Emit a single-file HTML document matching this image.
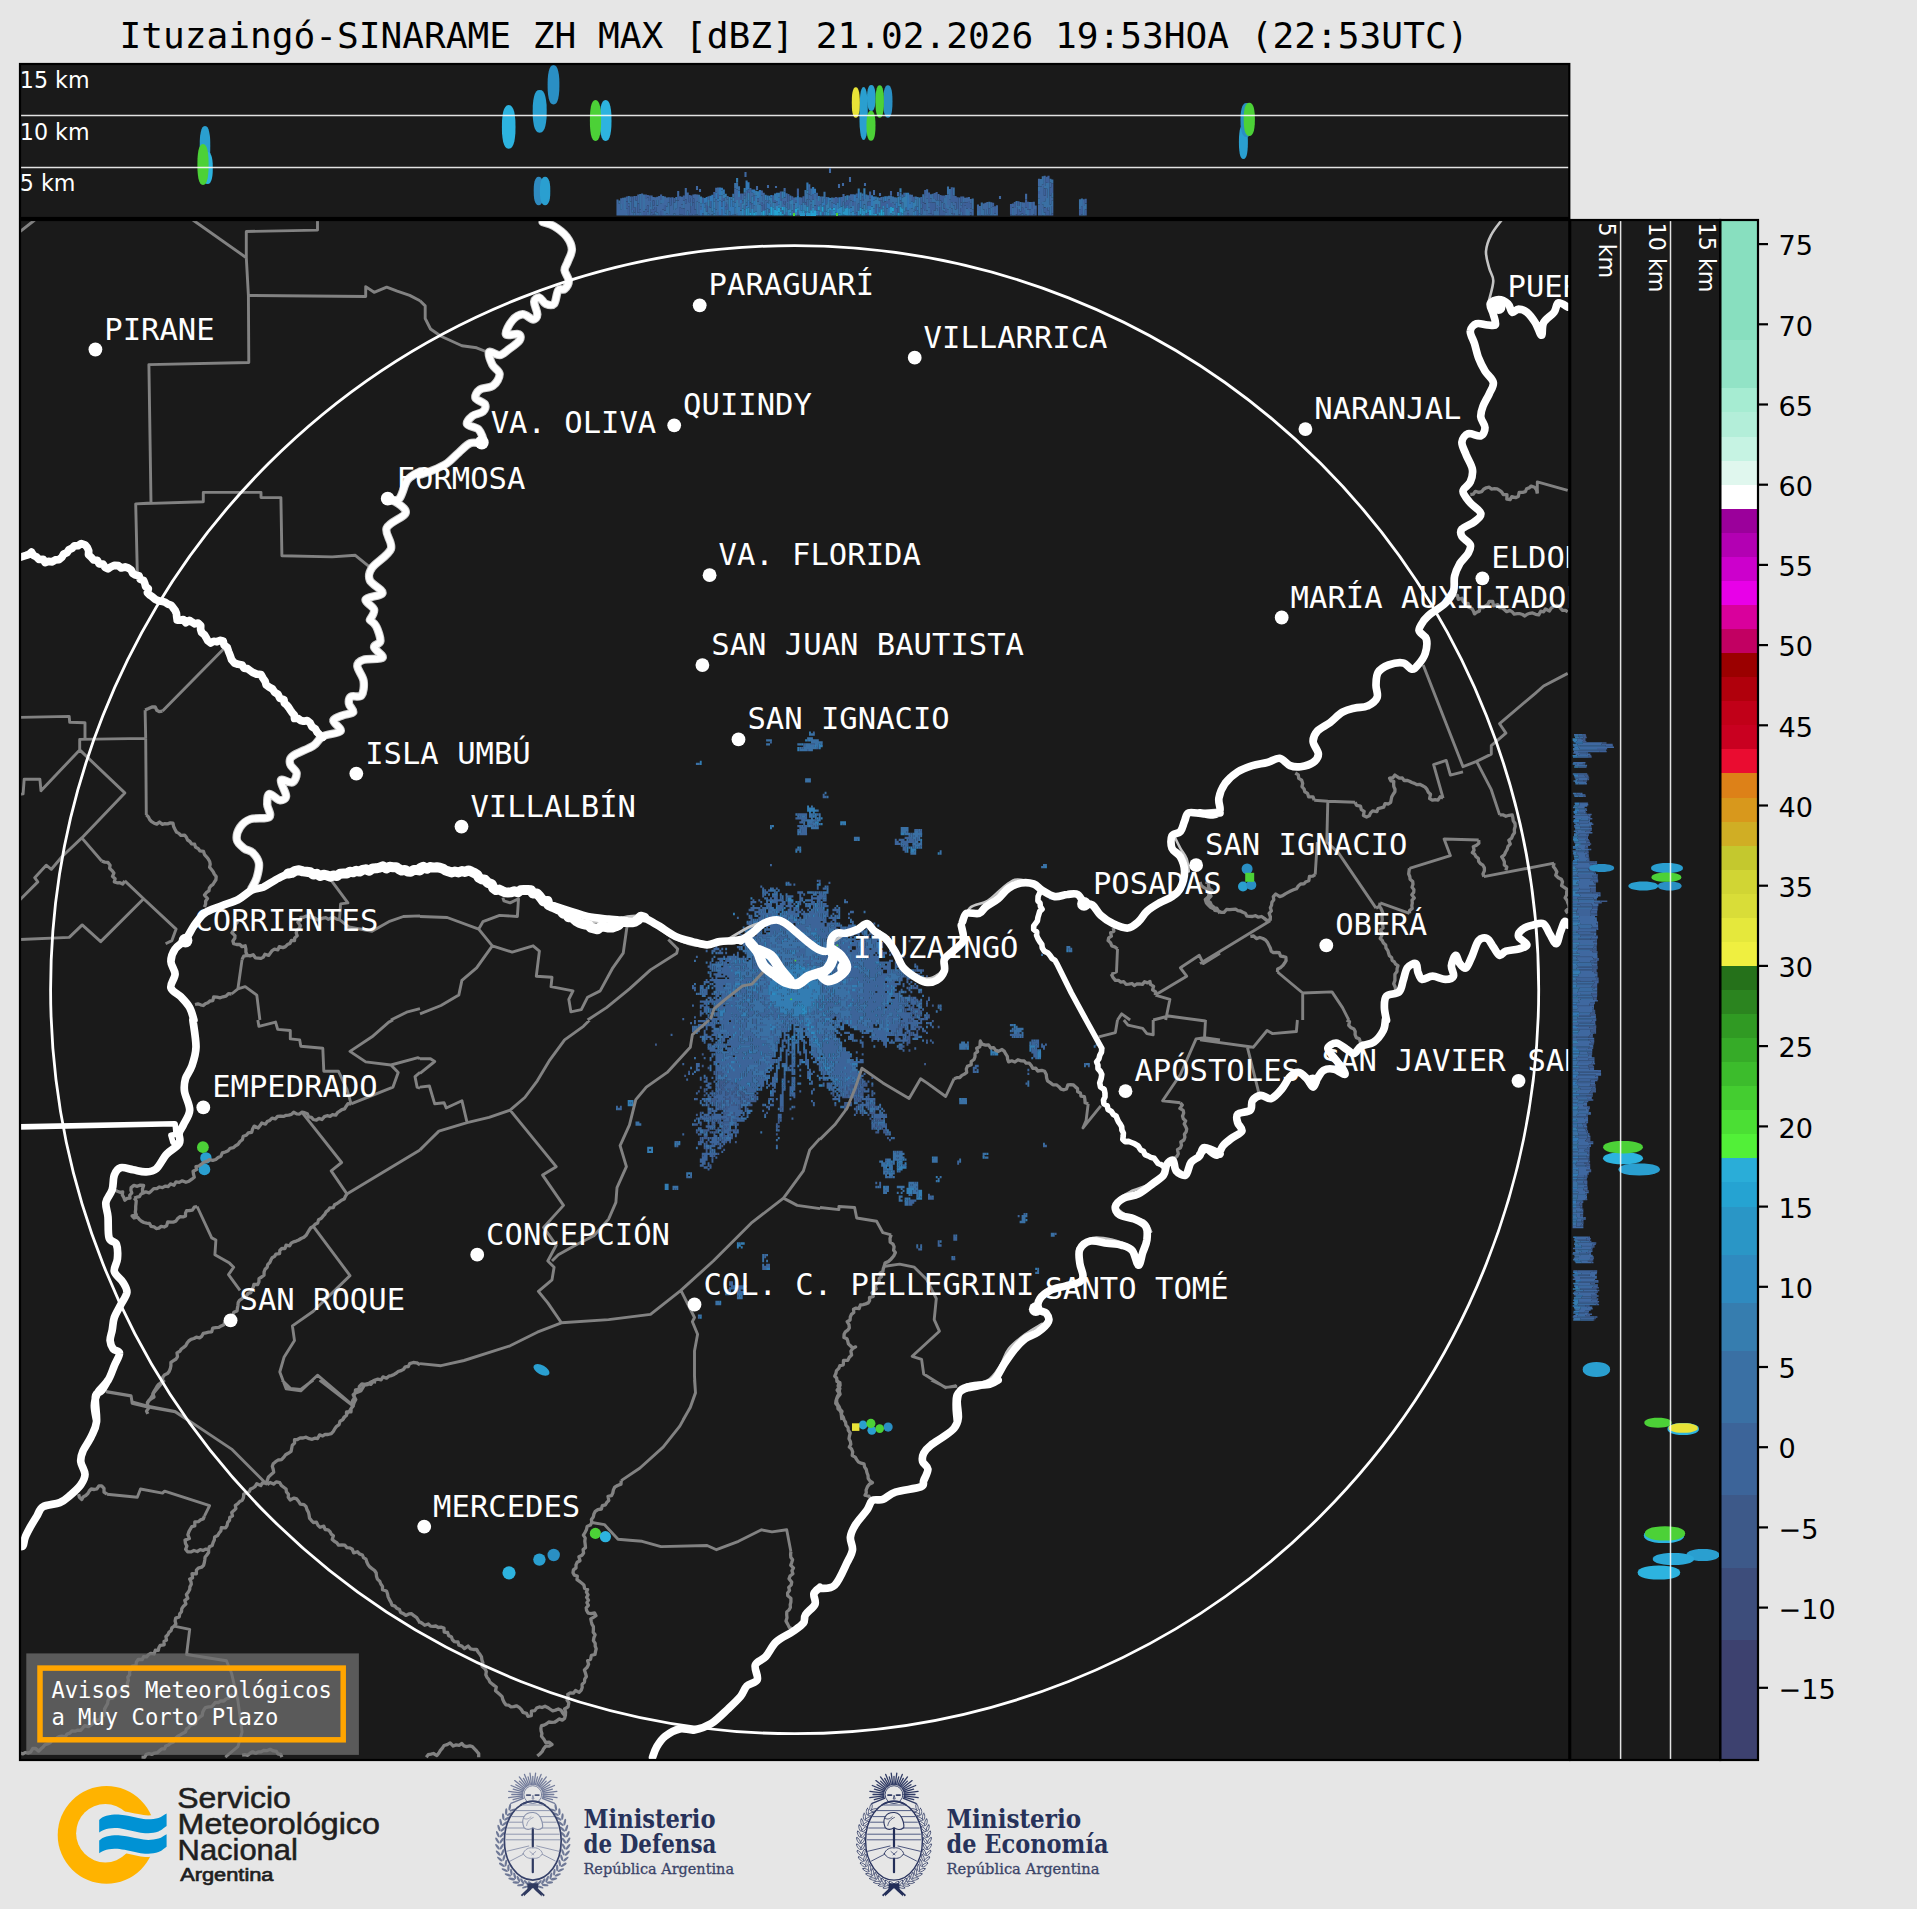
<!DOCTYPE html>
<html lang="es"><head><meta charset="utf-8"><title>Ituzaingó-SINARAME ZH MAX</title>
<style>html,body{margin:0;padding:0;background:#e6e6e6}svg{display:block}.mono{font-family:"DejaVu Sans Mono","Liberation Mono",monospace}.sans{font-family:"DejaVu Sans","Liberation Sans",sans-serif}.lsans{font-family:"Liberation Sans","DejaVu Sans",sans-serif}.serif{font-family:"DejaVu Serif","Liberation Serif",serif}</style></head><body>
<svg width="1917" height="1909" viewBox="0 0 1917 1909">
<rect width="1917" height="1909" fill="#e6e6e6"/>
<defs>
<clipPath id="cm"><rect x="20" y="220" width="1549.3" height="1540"/></clipPath>
<clipPath id="ct"><rect x="20" y="64" width="1549.3" height="154"/></clipPath>
<clipPath id="cr"><rect x="1570.2" y="220" width="150" height="1540"/></clipPath>
</defs>
<text class="mono" x="793.9" y="48" font-size="36.15" text-anchor="middle" fill="#000">Ituzaingó-SINARAME ZH MAX [dBZ] 21.02.2026 19:53HOA (22:53UTC)</text>
<rect x="20" y="64" width="1549.3" height="154" fill="#1a1a1a"/>
<rect x="20" y="220" width="1549.3" height="1540" fill="#1a1a1a"/>
<rect x="1570.2" y="220" width="150" height="1540" fill="#1a1a1a"/>
<g clip-path="url(#ct)">
<path d="M210.3,146L210.2,151.9L209.9,156.1L209.3,159.6L208.6,162.4L207.7,164.4L206.6,165.6L205,166L203.4,165.6L202.3,164.4L201.4,162.4L200.7,159.6L200.1,156.1L199.8,151.9L199.7,146L199.8,140.1L200.1,135.9L200.7,132.4L201.4,129.6L202.3,127.6L203.4,126.4L205,126L206.6,126.4L207.7,127.6L208.6,129.6L209.3,132.4L209.9,135.9L210.2,140.1Z" fill="#2a9fd0"/>
<path d="M212.8,168L212.7,172.7L212.4,176.1L211.8,178.9L211.1,181.1L210.2,182.7L209.1,183.7L207.5,184L205.9,183.7L204.8,182.7L203.9,181.1L203.2,178.9L202.6,176.1L202.3,172.7L202.2,168L202.3,163.3L202.6,159.9L203.2,157.1L203.9,154.9L204.8,153.3L205.9,152.3L207.5,152L209.1,152.3L210.2,153.3L211.1,154.9L211.8,157.1L212.4,159.9L212.7,163.3Z" fill="#2db3df"/>
<path d="M208.6,164.5L208.5,170.5L208.1,174.9L207.6,178.4L206.8,181.3L205.8,183.3L204.6,184.6L203,185L201.4,184.6L200.2,183.3L199.2,181.3L198.4,178.4L197.9,174.9L197.5,170.5L197.4,164.5L197.5,158.5L197.9,154.1L198.4,150.6L199.2,147.7L200.2,145.7L201.4,144.4L203,144L204.6,144.4L205.8,145.7L206.8,147.7L207.6,150.6L208.1,154.1L208.5,158.5Z" fill="#4cd137"/>
<path d="M515.5,126.9L515.4,133.3L514.9,137.9L514.3,141.7L513.3,144.7L512.1,146.9L510.7,148.3L508.7,148.7L506.7,148.3L505.3,146.9L504.1,144.7L503.1,141.7L502.5,137.9L502,133.3L501.9,126.9L502,120.5L502.5,115.9L503.1,112.1L504.1,109.1L505.3,106.9L506.7,105.5L508.7,105.1L510.7,105.5L512.1,106.9L513.3,109.1L514.3,112.1L514.9,115.9L515.4,120.5Z" fill="#2db3df"/>
<path d="M546.7,111.3L546.6,117.6L546.1,122.1L545.4,125.9L544.5,128.8L543.2,131L541.8,132.3L539.7,132.7L537.6,132.3L536.2,131L534.9,128.8L534,125.9L533.3,122.1L532.8,117.6L532.7,111.3L532.8,105L533.3,100.5L534,96.7L534.9,93.8L536.2,91.6L537.6,90.3L539.7,89.9L541.8,90.3L543.2,91.6L544.5,93.8L545.4,96.7L546.1,100.5L546.6,105Z" fill="#2a9fd0"/>
<path d="M559.4,84.8L559.3,90.6L558.9,94.8L558.3,98.2L557.5,100.9L556.5,102.9L555.2,104.1L553.5,104.5L551.8,104.1L550.5,102.9L549.5,100.9L548.7,98.2L548.1,94.8L547.7,90.6L547.6,84.8L547.7,79L548.1,74.8L548.7,71.4L549.5,68.7L550.5,66.7L551.8,65.5L553.5,65.1L555.2,65.5L556.5,66.7L557.5,68.7L558.3,71.4L558.9,74.8L559.3,79Z" fill="#2a8fc4"/>
<path d="M611.5,120.5L611.4,126.5L611,130.9L610.4,134.4L609.6,137.3L608.6,139.3L607.3,140.6L605.6,141L603.9,140.6L602.6,139.3L601.6,137.3L600.8,134.4L600.2,130.9L599.8,126.5L599.7,120.5L599.8,114.5L600.2,110.1L600.8,106.6L601.6,103.7L602.6,101.7L603.9,100.4L605.6,100L607.3,100.4L608.6,101.7L609.6,103.7L610.4,106.6L611,110.1L611.4,114.5Z" fill="#2db3df"/>
<path d="M601.1,120.5L601,126.5L600.6,130.9L600.1,134.4L599.3,137.3L598.3,139.3L597.1,140.6L595.5,141L593.9,140.6L592.7,139.3L591.7,137.3L590.9,134.4L590.4,130.9L590,126.5L589.9,120.5L590,114.5L590.4,110.1L590.9,106.6L591.7,103.7L592.7,101.7L593.9,100.4L595.5,100L597.1,100.4L598.3,101.7L599.3,103.7L600.1,106.6L600.6,110.1L601,114.5Z" fill="#4cd137"/>
<path d="M543.7,191L543.6,195.2L543.3,198.2L542.8,200.7L542.1,202.6L541.2,204L540.2,204.9L538.7,205.2L537.2,204.9L536.2,204L535.3,202.6L534.6,200.7L534.1,198.2L533.8,195.2L533.7,191L533.8,186.8L534.1,183.8L534.6,181.3L535.3,179.4L536.2,178L537.2,177.1L538.7,176.8L540.2,177.1L541.2,178L542.1,179.4L542.8,181.3L543.3,183.8L543.6,186.8Z" fill="#2f8abf"/>
<path d="M550.3,191L550.2,195.2L549.9,198.2L549.4,200.7L548.6,202.6L547.7,204L546.6,204.9L545.1,205.2L543.6,204.9L542.5,204L541.6,202.6L540.8,200.7L540.3,198.2L540,195.2L539.9,191L540,186.8L540.3,183.8L540.8,181.3L541.6,179.4L542.5,178L543.6,177.1L545.1,176.8L546.6,177.1L547.7,178L548.6,179.4L549.4,181.3L549.9,183.8L550.2,186.8Z" fill="#2a9fd0"/>
<path d="M867.8,113.5L867.7,121.3L867.5,126.9L867,131.5L866.5,135.2L865.7,137.8L864.8,139.5L863.6,140L862.4,139.5L861.5,137.8L860.7,135.2L860.2,131.5L859.7,126.9L859.5,121.3L859.4,113.5L859.5,105.7L859.7,100.1L860.2,95.5L860.7,91.8L861.5,89.2L862.4,87.5L863.6,87L864.8,87.5L865.7,89.2L866.5,91.8L867,95.5L867.5,100.1L867.7,105.7Z" fill="#2a9fd0"/>
<path d="M875.6,98L875.5,101.8L875.2,104.6L874.8,106.8L874.2,108.6L873.5,109.9L872.6,110.7L871.3,111L870,110.7L869.1,109.9L868.4,108.6L867.8,106.8L867.4,104.6L867.1,101.8L867,98L867.1,94.2L867.4,91.4L867.8,89.2L868.4,87.4L869.1,86.1L870,85.3L871.3,85L872.6,85.3L873.5,86.1L874.2,87.4L874.8,89.2L875.2,91.4L875.5,94.2Z" fill="#2a9fd0"/>
<path d="M892.5,101.5L892.4,106.3L892.1,109.7L891.7,112.5L891,114.8L890.2,116.4L889.2,117.4L887.9,117.7L886.6,117.4L885.6,116.4L884.8,114.8L884.1,112.5L883.7,109.7L883.4,106.3L883.3,101.5L883.4,96.7L883.7,93.3L884.1,90.5L884.8,88.2L885.6,86.6L886.6,85.6L887.9,85.3L889.2,85.6L890.2,86.6L891,88.2L891.7,90.5L892.1,93.3L892.4,96.7Z" fill="#2a8fc4"/>
<path d="M859.8,102.5L859.7,107L859.5,110.2L859.1,112.8L858.5,114.9L857.8,116.5L857,117.4L855.8,117.7L854.6,117.4L853.8,116.5L853.1,114.9L852.5,112.8L852.1,110.2L851.9,107L851.8,102.5L851.9,98L852.1,94.8L852.5,92.2L853.1,90.1L853.8,88.5L854.6,87.6L855.8,87.3L857,87.6L857.8,88.5L858.5,90.1L859.1,92.2L859.5,94.8L859.7,98Z" fill="#e8e337"/>
<path d="M883.9,101.5L883.8,106.3L883.6,109.7L883.1,112.5L882.6,114.8L881.8,116.4L880.9,117.4L879.7,117.7L878.5,117.4L877.6,116.4L876.8,114.8L876.3,112.5L875.8,109.7L875.6,106.3L875.5,101.5L875.6,96.7L875.8,93.3L876.3,90.5L876.8,88.2L877.6,86.6L878.5,85.6L879.7,85.3L880.9,85.6L881.8,86.6L882.6,88.2L883.1,90.5L883.6,93.3L883.8,96.7Z" fill="#4cd137"/>
<path d="M875.5,125.7L875.4,130.1L875.1,133.3L874.7,135.9L874.1,138L873.3,139.5L872.3,140.4L871,140.7L869.7,140.4L868.7,139.5L867.9,138L867.3,135.9L866.9,133.3L866.6,130.1L866.5,125.7L866.6,121.3L866.9,118.1L867.3,115.5L867.9,113.4L868.7,111.9L869.7,111L871,110.7L872.3,111L873.3,111.9L874.1,113.4L874.7,115.5L875.1,118.1L875.4,121.3Z" fill="#4cd137"/>
<path d="M1247.9,142L1247.8,147L1247.5,150.6L1247.1,153.6L1246.5,155.9L1245.7,157.6L1244.7,158.7L1243.4,159L1242.1,158.7L1241.1,157.6L1240.3,155.9L1239.7,153.6L1239.3,150.6L1239,147L1238.9,142L1239,137L1239.3,133.4L1239.7,130.4L1240.3,128.1L1241.1,126.4L1242.1,125.3L1243.4,125L1244.7,125.3L1245.7,126.4L1246.5,128.1L1247.1,130.4L1247.5,133.4L1247.8,137Z" fill="#2a9fd0"/>
<path d="M1252.5,120L1252.4,125L1252,128.6L1251.4,131.6L1250.6,133.9L1249.5,135.6L1248.3,136.7L1246.5,137L1244.7,136.7L1243.5,135.6L1242.4,133.9L1241.6,131.6L1241,128.6L1240.6,125L1240.5,120L1240.6,115L1241,111.4L1241.6,108.4L1242.4,106.1L1243.5,104.4L1244.7,103.3L1246.5,103L1248.3,103.3L1249.5,104.4L1250.6,106.1L1251.4,108.4L1252,111.4L1252.4,115Z" fill="#2a8fc4"/>
<path d="M1254.9,119.4L1254.8,124.3L1254.4,127.8L1253.9,130.7L1253.1,133L1252.1,134.6L1250.9,135.7L1249.3,136L1247.7,135.7L1246.5,134.6L1245.5,133L1244.7,130.7L1244.2,127.8L1243.8,124.3L1243.7,119.4L1243.8,114.5L1244.2,111L1244.7,108.1L1245.5,105.8L1246.5,104.2L1247.7,103.1L1249.3,102.8L1250.9,103.1L1252.1,104.2L1253.1,105.8L1253.9,108.1L1254.4,111L1254.8,114.5Z" fill="#4cd137"/>
<line x1="20" y1="115.6" x2="1569.3" y2="115.6" stroke="#fff" stroke-width="1.5" stroke-opacity="0.88"/>
<line x1="20" y1="167.6" x2="1569.3" y2="167.6" stroke="#fff" stroke-width="1.5" stroke-opacity="0.88"/>
<path d="M617.5,199.6v6.1M617.5,205.7v7M617.5,212.7v2.9M619.4,203.6v2.9M619.4,206.5v5.5M619.4,212v3.6M621.2,198.3v5.7M621.2,209.6v2.8M621.2,212.4v2.8M621.2,215.2v0.4M623.1,197.8v5.6M623.1,203.4v3.1M623.1,206.5v4.5M623.1,211v4.6M625,210v4.5M625,214.5v1.1M626.9,208.2v5.8M628.8,203.6v2.7M630.7,196.4v5M630.7,209.1v6.3M632.6,212.7v2.9M634.5,196.1v4.1M636.4,207.1v7.8M636.4,214.8v0.8M638.3,194.4v5.2M638.3,199.6v3.9M638.3,212.7v2.9M640.2,209.4v2.8M642.1,193.4v2.8M642.1,196.1v5.6M642.1,201.8v7.7M642.1,209.5v2.9M642.1,212.4v3.2M645.9,198.9v5.1M645.9,204.1v5.3M647.8,197.6v7.9M647.8,211.8v3.8M649.7,201.1v6M649.7,214v1.6M651.6,195.6v6.5M653.5,196.9v3.7M653.5,205.7v3.6M653.5,214.5v1.1M655.4,197.2v4.6M655.4,201.8v5.1M655.4,214.8v0.8M657.3,196.7v3.2M657.3,205.7v6.9M659.2,196.1v5.5M659.2,201.6v2.6M659.2,204.2v5.4M659.2,209.6v4.9M659.2,214.5v1.1M661.1,203.8v7.1M663,202.8v7M663,209.9v5.4M663,215.3v0.3M664.9,196.5v3.3M664.9,199.8v5.1M666.8,197.4v5.6M666.8,203v3.6M666.8,213.3v2.3M668.7,197.2v5.3M668.7,214.1v1.5M670.6,205.3v7.6M670.6,212.9v2.7M672.5,197.2v4.2M672.5,201.5v4.9M672.5,206.3v6.2M672.5,212.5v3.1M674.4,209.9v3.7M676.3,208.6v4.4M676.3,213v2.6M678.2,191v4.9M678.2,200.6v5.3M678.2,205.9v3.1M678.2,209v6.6M680.1,196.3v7.5M680.1,203.8v4M682,196.7v2.8M682,199.5v4.8M682,204.4v4M682,214.3v1.3M685.8,188v7.7M685.8,195.7v3.9M685.8,203.2v6M685.8,209.2v4.1M685.8,213.3v2.3M687.7,192.5v5.3M687.7,197.7v5.3M687.7,203.1v7.6M689.6,202.3v6.3M689.6,208.6v4.4M691.5,198.1v4.9M693.4,194.4v4M693.4,214.1v1.5M695.3,194.2v5.1M695.3,199.3v3.9M695.3,203.2v3M695.3,206.2v3.3M695.3,214.2v1.4M697.2,194.6v7.2M697.2,214.6v1M699.1,202.2v6.5M699.1,208.7v6.9M701,206.8v3.2M706.7,202.1v2.9M708.6,196.2v3.9M716.2,187.8v5M716.2,199.3v4.4M716.2,203.7v3.2M716.2,206.9v2.5M718.1,187.4v2.6M718.1,212.1v3.5M721.9,195.4v6M721.9,209.8v4.8M721.9,214.6v1M725.7,201.9v4.3M727.6,196v3.7M729.5,211.5v4.1M735.2,188.6v6.1M735.2,194.6v7.8M735.2,214.2v1.4M737.1,189.4v2.6M737.1,192v8M739,196.9v6.2M740.9,202.8v7.8M742.8,193.5v6.7M744.7,205v4.7M746.6,190.8v7.1M746.6,202.8v2.5M750.4,192.1v2.7M750.4,194.8v7.6M752.3,192.7v3.5M752.3,203.2v5.8M761.8,190.4v5M761.8,205.2v6.4M763.7,192.8v4.7M763.7,197.5v3.5M765.6,200.3v4.7M765.6,205v4.8M767.5,200v2.6M777,201.2v4.8M782.7,198.3v2.9M782.7,201.2v5.9M784.6,188v3.4M784.6,197.7v3.4M784.6,204.2v2.8M786.5,193.2v4M786.5,197.2v5.7M786.5,212.1v3.5M788.4,201.9v7.6M794.1,197.6v7M797.9,210.8v3.2M799.8,197.2v7.8M801.7,197.4v7.3M807.4,199.6v7M809.3,184.2v2.8M809.3,194.5v5.3M811.2,195.7v5.7M811.2,204.8v5.4M815,205.7v4.5M816.9,199v6.1M818.8,201v5.3M818.8,210.5v5.1M820.7,196.4v7.8M820.7,215.4v0.2M832.1,202.6v6M834,197.7v6M841.6,196.9v6.1M841.6,203v3.3M843.5,194v7.7M849.2,195.4v2.5M849.2,203v5.2M849.2,215.4v0.2M851.1,194.2v6.3M853,194.3v7.2M854.9,201.6v4.3M854.9,205.9v7.3M866.3,213.2v2.4M868.2,212.4v3.2M870.1,198.8v2.9M879.6,197.8v3M881.5,196.9v3.5M885.3,207.9v7.7M892.9,202.3v5.1M894.8,204.3v7.6M896.7,208.2v7.4M902.4,194.4v3M902.4,202.2v2.8M906.2,215.1v0.5M908.1,210.5v3.2M910,194.6v3.4M911.9,194.8v7M913.8,215.4v0.2M925.2,196v7.6M927.1,189.3v4.3M927.1,193.5v5.3M927.1,210.4v5.2M929,202.3v5.5M929,213.7v1.9M930.9,198.4v4.4M930.9,213.7v1.9M932.8,193.8v3.3M932.8,209.9v4.1M936.6,204.9v3.4M938.5,194.1v2.8M938.5,196.9v3.4M938.5,206.1v4.9M940.4,200.4v6.6M948,194.5v4.9M948,199.4v5.5M948,209.8v5.7M949.9,199.8v7.4M951.8,208.5v5.1M953.7,201.8v3.3M955.6,202.4v7M959.4,197.5v7M959.4,204.5v5.3M959.4,209.8v4.8M961.3,205.3v2.6M963.2,196.5v2.6M965.1,197.7v4.8M965.1,205.8v6.7M965.1,212.4v2.7M967,197.4v4.9M967,215.1v0.5M968.9,197v4M968.9,208.1v2.8M970.8,199v4.7M970.8,208.6v3.8M972.7,209.2v6.4M978,204.5v6.5M979.9,205.9v6.9M979.9,212.7v2.9M983.6,203.5v6.1M985.5,202.7v3.8M985.5,206.5v4M985.5,210.5v4.4M985.5,214.9v0.7M987.4,202v7.1M987.4,214.6v1M991.2,202.2v5M993.1,206.6v5.3M993.1,211.9v3.7M996.9,205.2v3.3M996.9,208.5v4.6M996.9,213.1v2.5M1011,214.8v0.8M1012.9,203.6v3.7M1014.8,207.8v7.2M1014.8,215.1v0.5M1016.6,207.1v7.4M1022.3,202.2v5.6M1024.2,202.5v7.6M1026.1,193.7v5.8M1026.1,214.2v1.4M1031.9,209.1v5M1031.9,214.1v1.5M1033.8,201.8v7.6M1033.8,209.4v5.2M1035.7,205.5v3.5M1039,178.8v7.8M1039,194.1v4.2M1039,204.6v6.2M1039,210.7v4.9M1040.9,186.6v6.3M1040.9,192.9v7.4M1040.9,200.3v5.7M1040.9,206v4.3M1040.9,210.3v5.3M1042.8,184.2v7.1M1042.8,191.3v6.3M1042.8,197.6v4.5M1042.8,204.8v4.2M1042.8,215.3v0.3M1044.7,175.8v4.5M1044.7,180.3v5.6M1044.7,195.7v5.6M1046.6,188.8v6.1M1046.6,194.9v3.3M1048.5,206.9v3.8M1050.4,182.4v5.2M1050.4,195.6v5.7M1050.4,201.3v3.3M1050.4,214v1.6M1052.3,197.8v2.9M1052.3,206v7.4M1083.8,199.2v7M745.5,172v5M830,168v5M697,186v4M700,189v3M757,186v4M768,185v3M776,186v2M839,184v4M843,183v3M850,177v5M865,183v3M898,192v4M1000,196v3M874,190v5M880,193v3" stroke="#3f68a0" stroke-width="2.1" fill="none"/>
<path d="M619.4,200.6v3M621.2,204v5.7M625,197.5v6.8M625,204.3v5.7M626.9,214v1.6M628.8,196v7.6M630.7,201.4v7.7M632.6,210.1v2.6M634.5,200.1v4.7M634.5,204.8v2.9M634.5,212.5v3.1M636.4,200.8v6.3M640.2,193.9v7.7M640.2,201.6v4.7M640.2,206.3v3.1M640.2,212.2v3.4M644,194.5v5.8M644,200.3v3.2M644,203.5v8M649.7,207.1v6.9M651.6,202.1v6.8M655.4,211.8v3M657.3,199.9v5.7M657.3,212.6v3M661.1,199.8v3.9M663,195.9v7M664.9,210.5v5.1M666.8,206.5v6.7M668.7,202.5v6.3M668.7,208.8v5.3M674.4,202.5v7.4M674.4,213.6v2M676.3,196.9v3.7M676.3,200.7v8M680.1,214.8v0.8M683.9,200.4v8M687.7,210.7v4.9M691.5,202.9v3M697.2,201.8v6.1M697.2,207.9v6.7M699.1,194.8v7.4M701,203.8v3M704.8,203.4v3.9M708.6,206v2.6M708.6,208.6v5.2M710.5,207.6v3.6M710.5,211.2v4.4M712.4,211.6v2.9M714.3,197.8v4M716.2,209.4v6.2M718.1,190v3.9M718.1,201.4v6.7M718.1,208.1v4M725.7,197.5v4.4M725.7,210.1v3.6M727.6,199.7v4.4M731.4,197.1v2.6M733.3,193.7v3.9M733.3,201.3v5.4M733.3,214.3v1.3M735.2,182.9v5.6M735.2,207.8v6.3M737.1,182.6v6.8M737.1,212.9v2.7M739,186.2v4.2M739,203.1v3.7M744.7,195.3v3.3M744.7,209.7v5.9M746.6,197.9v4.9M750.4,204.9v7.5M754.2,192.9v2.9M754.2,205.2v7.4M756.1,204.9v6.6M758,201.6v3.5M759.9,197.1v7.5M761.8,195.4v6.8M763.7,201v2.9M769.4,200.8v3.2M771.3,203v4.2M775.1,202.7v7.1M780.8,208.5v2.6M786.5,202.9v4.3M790.3,195.4v5.3M790.3,204v5.9M792.2,210.2v5M796,197.2v2.8M805.5,190v2.7M805.5,192.6v3.3M805.5,195.9v6.3M807.4,193.3v3.6M807.4,196.9v2.7M809.3,199.7v5.9M809.3,205.6v6.8M811.2,188.5v7.2M811.2,201.4v3.4M815,193.4v7.4M815,200.8v4.8M820.7,204.2v7.9M822.6,196.5v6M824.5,191.8v6.6M830.2,200.5v7.5M830.2,210.7v4.9M832.1,197.5v5.1M843.5,201.8v3.9M845.4,196.1v5.8M851.1,200.4v6.9M856.8,197.6v7.9M856.8,205.5v6.8M858.7,198v5.8M862.5,193.5v2.7M862.5,201v7.6M864.4,199.1v5.5M866.3,194.5v7.8M866.3,202.3v3.7M866.3,206v3.2M868.2,195.3v6.5M875.8,196.4v3.4M877.7,203.9v4.2M883.4,196.7v6M887.2,196.3v4.6M887.2,208.2v5.2M887.2,213.3v2.3M889.1,195.7v3.8M891,195.6v7.5M891,213.4v2.2M892.9,196.5v5.8M894.8,197.2v7.1M896.7,197.6v4.6M900.5,192.4v3.9M902.4,205v3.3M904.3,211.7v3.9M906.2,210.3v4.7M910,198v5.7M910,208.1v7.5M911.9,208.6v5.7M911.9,214.3v1.3M913.8,209.1v2.6M915.7,196.6v2.7M917.6,196.9v3.1M917.6,200v6.4M921.4,203.9v4.6M921.4,214.3v1.3M923.3,194.2v4.5M923.3,198.7v3.8M923.3,208.9v6.7M925.2,210.9v4.7M927.1,198.8v3.7M927.1,202.6v7.8M929,207.8v5.9M930.9,194.3v4.1M932.8,197.1v5.3M934.7,198.9v3.7M934.7,210.7v4.2M934.7,214.9v0.7M936.6,200.2v4.7M936.6,208.2v4.3M936.6,212.5v3.1M938.5,200.3v5.8M938.5,211v4.6M942.3,202.5v7.6M944.2,198.1v5.7M944.2,208.5v3.3M946.1,195.1v6.3M946.1,201.4v6.5M946.1,212.3v3.3M948,186.5v7.9M948,204.9v4.9M948,215.5v0.1M949.9,189v7.1M949.9,196.1v3.6M949.9,207.2v2.6M949.9,209.8v5.6M951.8,202.2v6.3M951.8,213.5v2.1M953.7,187.4v3.8M953.7,191.2v4.6M953.7,205.2v7.8M955.6,209.4v4.5M955.6,213.9v1.7M957.5,209.1v6.5M961.3,202.5v2.7M961.3,212v3.6M963.2,199.1v3.6M967,208.4v6.7M968.9,211v4.6M970.8,215.2v0.4M972.7,198.4v5M972.7,203.4v5.8M978,211v4.6M981.8,202.6v7.8M981.8,210.5v4.7M983.6,209.6v4.8M983.6,214.4v1.2M987.4,209.1v5.6M989.3,201.7v6.5M989.3,214.2v1.4M991.2,207.2v7.7M991.2,214.9v0.7M995,213.4v2.2M1012.9,207.4v7M1012.9,214.4v1.2M1016.6,201v6.1M1018.5,206v3M1020.4,201.9v5.8M1020.4,207.8v3.6M1020.4,214.7v0.9M1022.3,213.5v2.1M1026.1,207.4v3.1M1026.1,210.5v3.7M1028,209.7v5.9M1030,201.9v7.7M1039,186.6v4.5M1039,198.3v6.3M1040.9,178.9v7.6M1042.8,176.3v7.9M1042.8,202v2.7M1042.8,208.9v6.4M1044.7,185.9v2.6M1044.7,201.3v6M1044.7,212.6v3M1046.6,182.7v6.1M1046.6,198.1v2.6M1046.6,200.8v7.1M1048.5,182.8v5.9M1048.5,188.7v3.5M1048.5,192.3v4.3M1048.5,196.5v3.2M1048.5,199.8v7.1M1050.4,178.7v3.7M1050.4,204.6v3.4M1050.4,208v6M1052.3,179.5v3.7M1052.3,192.9v4.8M1052.3,200.7v5.3M1080,199.2v6.5M1080,205.7v4.1M1081.9,198.4v3M1081.9,201.4v5.3M1081.9,214.6v1M1083.8,206.1v6.5M1083.8,212.6v3M1085.7,203.4v6.1" stroke="#3a70a4" stroke-width="2.1" fill="none"/>
<path d="M626.9,196.4v5.2M626.9,201.7v6.5M628.8,206.3v6.7M628.8,213v2.6M630.7,215.5v0.1M632.6,196.6v7M632.6,203.6v6.4M634.5,207.8v4.7M636.4,196v4.8M638.3,203.5v3.3M638.3,206.8v5.9M644,211.5v4.1M645.9,194.6v4.4M645.9,209.4v6.2M647.8,194.9v2.6M647.8,205.5v6.3M649.7,195.6v5.5M651.6,208.9v3.9M651.6,212.9v2.7M653.5,200.6v5.1M653.5,209.3v5.1M655.4,206.9v4.9M661.1,194.6v5.3M661.1,210.8v4.8M664.9,204.9v5.6M670.6,197.6v7.7M674.4,198v4.5M678.2,196v4.6M680.1,207.8v7M682,208.3v6M683.9,195.4v5M683.9,208.4v7.2M685.8,199.6v3.6M689.6,195v7.4M689.6,213v2.6M691.5,195.5v2.6M691.5,205.9v7.3M691.5,213.2v2.4M693.4,198.4v3.9M693.4,202.4v7.8M693.4,210.2v3.8M695.3,209.5v4.7M702.9,197.4v6M702.9,213.5v2.1M706.7,205v6.7M710.5,200.9v6.7M712.4,214.5v1.1M714.3,191.9v5.8M718.1,193.8v4.7M720,214.9v0.7M721.9,201.4v5.2M723.8,197.8v2.9M725.7,206.2v3.9M727.6,204v5.2M731.4,214.9v0.7M740.9,193.4v6.6M742.8,200.2v3.1M744.7,192.7v2.6M748.5,189.5v3.6M750.4,188.1v4M750.4,202.4v2.5M754.2,195.8v5.1M758,198.3v3.3M761.8,202.1v3.1M763.7,204v6.9M769.4,209.6v3M771.3,215v0.6M773.2,195.3v7.2M775.1,199.9v2.7M780.8,191.4v6.8M780.8,198.2v2.9M782.7,210.4v3.3M784.6,201.1v3.1M784.6,214.8v0.8M788.4,194v7.9M792.2,196.3v3.6M794.1,204.6v5.8M794.1,210.4v4.9M796,200v2.6M797.9,188.4v6.8M797.9,214v1.6M803.6,196.3v6.5M805.5,202.2v2.9M805.5,211.8v3.8M809.3,187v7.5M813.1,194v5.8M816.9,192.7v6.3M816.9,205.1v5.7M822.6,211.6v4M824.5,204.9v6.4M826.4,196.9v7.3M835.9,196.9v7.7M837.8,197.5v5.1M845.4,202v6.2M847.3,200.1v5.1M849.2,198v5.1M853,201.6v4.4M856.8,193.5v4.1M856.8,212.3v3.3M858.7,203.8v6.8M860.6,214.6v1M862.5,196.2v4.9M868.2,201.9v4.1M870.1,191.4v7.4M870.1,201.7v4.2M875.8,203.9v7M875.8,210.8v3.3M877.7,214.3v1.3M879.6,207.5v4.7M881.5,200.3v4.5M881.5,204.8v4.5M883.4,202.6v3.4M885.3,201.2v6.7M887.2,200.9v2.8M889.1,199.5v7.8M891,191.1v4.4M891,203.1v3.9M898.6,206.3v6.4M900.5,200.5v3.1M904.3,192.8v3.7M906.2,207.8v2.6M908.1,213.7v1.9M913.8,196.8v5.3M915.7,206.8v3.9M917.6,210.4v5.2M921.4,196.9v7M921.4,208.5v5.8M923.3,202.5v6.4M925.2,189.9v2.8M925.2,192.7v3.3M925.2,203.7v7.3M929,192.4v4M929,196.4v5.9M930.9,202.8v3.2M930.9,206v7.8M932.8,202.4v7.5M932.8,214v1.6M934.7,193v5.9M934.7,202.6v3.6M934.7,206.2v4.5M936.6,192v3.5M936.6,195.6v4.6M940.4,195v5.4M940.4,206.9v4.8M940.4,211.7v3.9M942.3,195.5v4M942.3,199.5v3M942.3,210.1v4M942.3,214.1v1.5M944.2,195.5v2.5M944.2,203.8v4.7M944.2,211.8v3.8M946.1,207.9v4.4M949.9,215.4v0.2M951.8,187.2v8M951.8,195.2v7M953.7,195.8v6.1M953.7,213v2.6M955.6,196.1v6.3M957.5,197.3v7.4M957.5,204.7v4.4M959.4,214.6v1M961.3,196.5v6M961.3,207.8v4.2M963.2,202.7v6.7M963.2,209.4v4M963.2,213.4v2.2M965.1,202.5v3.3M965.1,215.1v0.5M967,202.3v6.1M968.9,200.9v7.2M970.8,203.7v4.9M970.8,212.4v2.7M981.8,215.2v0.4M989.3,208.2v6M993.1,202.7v3.9M995,206.2v7.2M1011,204.1v3.1M1011,207.2v7.5M1014.8,201.9v6M1016.6,214.6v1M1018.5,201.3v4.7M1018.5,209.1v3.1M1018.5,212.2v3.4M1020.4,211.4v3.4M1022.3,207.8v5.6M1024.2,210.1v5.5M1026.1,199.6v7.9M1028,201.7v8M1030,209.6v6M1031.9,201.9v7.1M1033.8,214.6v1M1035.7,209v6.6M1039,191.1v3M1044.7,188.5v3M1044.7,191.4v4.3M1044.7,207.4v5.2M1046.6,176.7v6M1046.6,207.9v4.5M1046.6,212.4v3.2M1048.5,175.8v7.1M1048.5,210.7v3.1M1048.5,213.8v1.8M1050.4,187.6v8M1052.3,183.2v2.5M1052.3,185.7v7.2M1052.3,213.4v2.2M1080,209.8v5.8M1081.9,206.7v7.8M1085.7,198.8v4.5M1085.7,209.4v6.2" stroke="#3d6099" stroke-width="2.1" fill="none"/>
<path d="M701,196.4v7.4M704.8,207.3v7.2M704.8,214.5v1.1M706.7,211.8v3.8M708.6,200.1v5.9M712.4,207.9v3.7M714.3,201.8v6.4M714.3,213.4v2.2M720,195.5v5.3M721.9,190.4v5M723.8,194.7v3.2M725.7,193.7v3.8M727.6,209.3v6.3M729.5,197.1v6.8M729.5,203.9v3M733.3,197.6v3.7M737.1,178v4.6M737.1,200v7.8M737.1,207.8v5.1M739,194v2.9M740.9,210.7v4.9M742.8,203.3v5.2M744.7,188.1v4.7M744.7,198.6v6.4M748.5,193.1v7.6M752.3,196.2v7M756.1,190.8v5M756.1,199v5.9M758,191.2v3.6M758,194.7v3.5M758,205.1v4.7M758,209.8v5.3M759.9,204.6v7.3M759.9,211.9v3.2M759.9,215.1v0.5M765.6,194.8v5.4M767.5,208.6v6.5M769.4,195.8v5M771.3,197.8v5.2M773.2,202.5v4.7M775.1,193.5v6.5M777,197v4.2M778.9,192.7v5M778.9,204.7v3.1M780.8,201.1v7.4M782.7,191.5v6.9M786.5,207.2v4.9M790.3,200.7v3.2M792.2,199.9v7.1M792.2,207v3.2M796,202.6v6.1M799.8,205.1v6M799.8,214.1v1.5M803.6,202.8v7.4M805.5,205.1v6.7M807.4,190.2v3.1M813.1,199.7v3.9M813.1,203.6v4.1M815,214.2v1.4M818.8,196v5M826.4,204.3v7.2M828.3,202v6.4M837.8,202.6v6.5M837.8,213.5v2.1M843.5,205.6v5.7M847.3,195.3v4.8M851.1,212.7v2.9M853,206v5.5M858.7,188.4v2.5M860.6,192.4v5M860.6,197.5v3.1M864.4,188.3v5.8M864.4,204.7v6M873.9,200.8v7.9M875.8,199.8v4.1M877.7,197.3v6.6M879.6,200.7v6.7M883.4,208.7v3M889.1,212v3.6M892.9,211.3v3.4M894.8,211.9v3.7M898.6,196.5v3.3M898.6,199.8v6.5M900.5,188.2v4.1M900.5,203.7v2.8M902.4,197.4v4.8M904.3,196.5v3.5M904.3,200v5.4M904.3,205.3v6.4M906.2,192.7v3.5M906.2,196.2v5.9M906.2,202.1v5.7M913.8,202.2v6.9M913.8,211.7v3.7M915.7,199.2v7.6M919.5,197.4v3.2M919.5,200.6v5.5M919.5,206v7.2" stroke="#367daf" stroke-width="2.1" fill="none"/>
<path d="M701,210v5.6M702.9,203.3v6.2M702.9,209.6v4M704.8,198v5.4M706.7,197.1v5M708.6,213.7v1.9M710.5,195.8v5.1M712.4,194.7v5.3M712.4,200v8M714.3,208.2v5.2M716.2,192.8v6.5M718.1,198.5v2.9M720,187.6v7.8M720,200.8v6.8M720,207.5v7.4M721.9,187.7v2.8M721.9,206.6v3.2M723.8,189.5v5.2M723.8,200.8v7.5M723.8,208.2v5.5M723.8,213.8v1.8M725.7,213.7v1.9M729.5,206.9v4.6M731.4,199.8v4.8M731.4,204.6v7.8M731.4,212.4v2.5M733.3,206.7v7.7M735.2,202.4v5.4M739,190.4v3.6M739,206.8v6.3M739,213.1v2.5M740.9,200v2.9M746.6,180.5v7.6M746.6,188.1v2.7M746.6,205.4v2.9M748.5,182.3v4.2M748.5,186.5v3M748.5,200.6v4.3M748.5,204.9v2.7M750.4,215.1v0.5M752.3,189.5v3.2M754.2,189.5v3.4M754.2,200.9v4.3M756.1,195.8v3.2M758,215.1v0.5M759.9,190.1v7M765.6,209.7v5.9M767.5,195.5v4.5M767.5,202.6v6M769.4,204v5.5M771.3,194.9v2.9M777,192.8v4.2M778.9,197.7v7M784.6,191.4v6.2M797.9,195.2v2.5M797.9,197.8v6.6M797.9,204.4v2.9M801.7,204.8v5.8M807.4,182.6v7.5M813.1,186.9v7M815,188.7v4.7M816.9,210.8v3.4M822.6,202.5v4M824.5,198.3v6.6M824.5,211.3v4.3M828.3,197.2v4.8M830.2,197.9v2.6M832.1,208.6v5.4M834,203.7v4M835.9,204.6v7.8M839.7,197.2v3.8M839.7,201v6.3M843.5,214.8v0.8M845.4,215v0.6M847.3,205.2v2.8M851.1,207.4v5.3M854.9,194.6v7.1M854.9,213.2v2.4M858.7,190.9v7M860.6,200.5v7.3M864.4,194v5.1M868.2,206v6.4M870.1,206v3.4M872,195.3v6M872,201.2v5.1M873.9,196.6v4.2M873.9,208.7v4.6M877.7,208.1v6.2M885.3,196.3v4.8M887.2,203.6v4.5M889.1,207.3v4.7M896.7,202.3v6M900.5,196.3v4.2M900.5,212.1v3.5M908.1,192.7v7.3M908.1,200v3M908.1,203v7.5M910,203.6v4.5M911.9,201.8v6.8M915.7,210.8v4.8M917.6,206.4v4M919.5,213.3v2.3" stroke="#3378b5" stroke-width="2.1" fill="none"/>
<path d="M742.8,208.5v7.1M748.5,207.6v3.9M748.5,211.4v4.2M752.3,209.1v6.5M756.1,211.6v4M761.8,211.6v3.7M767.5,215.2v0.4M769.4,212.6v3M773.2,207.2v7.1M773.2,214.3v1.3M777,206v5M784.6,207v7.8M788.4,209.5v6.1M790.3,209.8v2.6M792.2,215.2v0.4M794.1,215.3v0.3M796,212v3.6M797.9,207.3v3.5M799.8,211.1v3M801.7,210.6v5M807.4,211.7v3.9M809.3,212.5v3.1M813.1,207.7v7.7M813.1,215.4v0.2M816.9,214.1v1.5M826.4,211.4v4.2M828.3,208.4v3.9M832.1,214v1.6M834,210.6v5M835.9,212.4v3.2M837.8,209.1v4.4M839.7,207.3v6.2M841.6,206.4v7.2M841.6,213.6v2M849.2,208.3v7.1M853,211.5v4.1M858.7,210.6v5M862.5,208.7v5.2M864.4,210.7v4.9M870.1,215.2v0.4M872,206.4v7.7M872,214.1v1.5M873.9,213.2v2.4M883.4,206v2.7M902.4,213.2v2.4" stroke="#2f8abf" stroke-width="2.1" fill="none"/>
<path d="M746.6,208.3v7.3M761.8,215.3v0.3M778.9,212.2v3.4M782.7,213.7v1.9M803.6,210.2v4.7M803.6,214.8v0.8M807.4,206.6v5.1M818.8,206.3v4.2M820.7,212v3.4M828.3,212.3v3.3M830.2,208v2.7M843.5,211.3v3.5M845.4,208.2v6.8M847.3,208v7.5M860.6,207.8v6.8M866.3,209.2v4M879.6,212.2v3.4M883.4,211.7v3.9M891,207v6.4M892.9,214.7v0.9M900.5,206.5v5.6M902.4,208.3v4.9" stroke="#2a96c6" stroke-width="2.1" fill="none"/>
<path d="M750.4,212.4v2.6M754.2,212.6v3M763.7,210.8v4.8M771.3,207.1v7.9M775.1,209.8v5.8M777,211v4.6M778.9,207.7v4.5M780.8,211.2v4.4M782.7,207v3.4M790.3,212.5v3.1M796,208.7v3.3M811.2,210.2v5.4M815,210.2v3.9M822.6,206.6v5.1M834,207.7v2.8M839.7,213.5v2.1M862.5,213.9v1.7M870.1,209.4v5.8M875.8,214.1v1.5M881.5,209.3v6.3M892.9,207.4v3.9M898.6,212.7v2.9" stroke="#25a3d2" stroke-width="2.1" fill="none"/>
<rect x="806" y="213" width="5" height="3" fill="#2a96c6"/>
<rect x="811" y="213" width="5" height="3" fill="#25a3d2"/>
<rect x="800" y="213" width="5" height="3" fill="#2a96c6"/>
<rect x="793" y="213" width="2" height="3" fill="#4cd137"/>
<rect x="836" y="213" width="2" height="3" fill="#4cd137"/>
</g>
<text class="sans" x="19.8" y="88.3" font-size="22.2" fill="#fff">15 km</text>
<text class="sans" x="19.8" y="139.5" font-size="22.2" fill="#fff">10 km</text>
<text class="sans" x="19.8" y="190.7" font-size="22.2" fill="#fff">5 km</text>
<g clip-path="url(#cm)">
<path d="M818.8,880.8h1.9M818.8,882.8h1.9M914.3,970.5h1.9M922.1,970.5h1.9M908.5,972.5h1.9M912.4,972.5h1.9M918.2,974.4h1.9M904.6,976.4h1.9M914.3,976.4h1.9M926,976.4h1.9M906.5,980.2h1.9M912.4,986.1h1.9M908.5,988h1.9M912.4,988h5.8M920.2,992h1.9M908.5,995.9h1.9M910.4,997.8h1.9M928,997.8h1.9M904.6,999.8h1.9M914.3,999.8h3.9M904.6,1001.7h1.9M908.5,1001.7h1.9M918.2,1001.7h3.9M926,1001.7h1.9M916.3,1003.6h1.9M902.6,1005.6h1.9M920.2,1005.6h1.9M926,1005.6h1.9M931.9,1005.6h1.9M910.4,1007.5h3.9M939.7,1007.5h1.9M904.6,1009.5h1.9M912.4,1009.5h7.8M904.6,1011.5h1.9M910.4,1011.5h1.9M918.2,1011.5h3.9M912.4,1013.4h1.9M916.3,1013.4h3.9M920.2,1015.4h1.9M926,1015.4h3.9M912.4,1017.3h3.9M924.1,1017.3h1.9M928,1017.3h1.9M908.5,1019.2h1.9M918.2,1019.2h1.9M924.1,1019.2h1.9M908.5,1021.2h3.9M931.9,1021.2h1.9M900.7,1023.1h3.9M928,1023.1h1.9M898.7,1025.1h1.9M898.7,1027h5.8M914.3,1027h7.8M937.7,1027h1.9M896.8,1029h1.9M918.2,1029h1.9M916.3,1031h1.9M922.1,1031h3.9M894.8,1032.9h1.9M906.5,1032.9h1.9M910.4,1032.9h1.9M916.3,1032.9h1.9M910.4,1034.8h1.9M894.8,1036.8h3.9M906.5,1036.8h3.9M914.3,1036.8h3.9M906.5,1038.8h3.9M908.5,1040.7h1.9M926,1040.7h1.9M906.5,1042.7h3.9M655,1044.6h1.9M906.5,1044.6h1.9M898.7,1046.5h5.8M908.5,1050.5h1.9M701.8,1054.3h1.9M924.1,1064.1h1.9M701.8,1066h1.9M707.6,1068h1.9M688.1,1071.9h1.9M713.5,1071.9h1.9M717.4,1071.9h3.9M713.5,1073.8h1.9M717.4,1073.8h5.8M684.2,1075.8h1.9M715.4,1075.8h1.9M721.3,1075.8h1.9M703.7,1077.8h1.9M725.2,1077.8h1.9M871.4,1077.8h1.9M717.4,1079.7h1.9M723.2,1079.7h1.9M859.7,1079.7h1.9M719.3,1081.7h5.8M727.1,1081.7h1.9M859.7,1081.7h1.9M719.3,1083.6h3.9M725.2,1083.6h1.9M731,1083.6h1.9M734.9,1083.6h1.9M859.7,1083.6h1.9M863.6,1083.6h3.9M719.3,1085.5h1.9M723.2,1085.5h1.9M736.9,1085.5h1.9M850,1085.5h3.9M857.8,1085.5h1.9M861.7,1085.5h5.8M871.4,1085.5h1.9M699.8,1087.5h1.9M715.4,1087.5h1.9M719.3,1087.5h3.9M734.9,1087.5h1.9M846.1,1087.5h1.9M850,1087.5h3.9M857.8,1087.5h1.9M703.7,1089.5h1.9M721.3,1089.5h3.9M727.1,1089.5h3.9M734.9,1089.5h3.9M744.7,1089.5h1.9M842.2,1089.5h1.9M846.1,1089.5h1.9M853.9,1089.5h3.9M859.7,1089.5h5.8M697.9,1091.4h1.9M703.7,1091.4h1.9M711.5,1091.4h1.9M719.3,1091.4h1.9M725.2,1091.4h1.9M731,1091.4h3.9M738.8,1091.4h3.9M848,1091.4h1.9M851.9,1091.4h5.8M861.7,1091.4h1.9M715.4,1093.3h1.9M719.3,1093.3h1.9M725.2,1093.3h3.9M731,1093.3h1.9M740.8,1093.3h3.9M832.4,1093.3h1.9M848,1093.3h1.9M851.9,1093.3h5.8M859.7,1093.3h3.9M871.4,1093.3h1.9M703.7,1095.3h1.9M713.5,1095.3h1.9M725.2,1095.3h1.9M734.9,1095.3h1.9M742.7,1095.3h5.8M754.4,1095.3h1.9M832.4,1095.3h1.9M846.1,1095.3h1.9M850,1095.3h1.9M859.7,1095.3h3.9M707.6,1097.2h3.9M723.2,1097.2h1.9M729.1,1097.2h1.9M734.9,1097.2h5.8M742.7,1097.2h1.9M752.5,1097.2h3.9M842.2,1097.2h5.8M851.9,1097.2h3.9M857.8,1097.2h1.9M867.5,1097.2h1.9M695.9,1099.2h1.9M711.5,1099.2h5.8M725.2,1099.2h5.8M738.8,1099.2h1.9M744.7,1099.2h3.9M754.4,1099.2h1.9M768.1,1099.2h1.9M772,1099.2h1.9M855.8,1099.2h5.8M705.7,1101.2h1.9M711.5,1101.2h3.9M723.2,1101.2h1.9M729.1,1101.2h1.9M740.8,1101.2h1.9M746.6,1101.2h9.8M853.9,1101.2h3.9M859.7,1101.2h1.9M867.5,1101.2h1.9M873.4,1101.2h1.9M713.5,1103.1h1.9M717.4,1103.1h3.9M723.2,1103.1h1.9M729.1,1103.1h1.9M733,1103.1h1.9M740.8,1103.1h1.9M744.7,1103.1h1.9M844.1,1103.1h1.9M848,1103.1h3.9M703.7,1105h1.9M707.6,1105h1.9M713.5,1105h1.9M719.3,1105h1.9M731,1105h5.8M738.8,1105h1.9M748.6,1105h3.9M834.4,1105h1.9M844.1,1105h1.9M857.8,1105h1.9M869.5,1105h5.8M707.6,1107h1.9M717.4,1107h1.9M725.2,1107h3.9M738.8,1107h1.9M768.1,1107h1.9M779.8,1107h3.9M793.4,1107h1.9M844.1,1107h1.9M855.8,1107h1.9M865.6,1107h1.9M869.5,1107h1.9M873.4,1107h3.9M879.2,1107h1.9M719.3,1109h1.9M723.2,1109h3.9M738.8,1109h1.9M746.6,1109h1.9M779.8,1109h1.9M789.5,1109h1.9M846.1,1109h1.9M855.8,1109h1.9M859.7,1109h1.9M707.6,1110.9h3.9M781.7,1110.9h1.9M883.1,1110.9h1.9M699.8,1112.8h1.9M723.2,1112.8h5.8M733,1112.8h1.9M766.1,1112.8h1.9M855.8,1112.8h1.9M861.7,1112.8h1.9M869.5,1112.8h5.8M695.9,1114.8h1.9M711.5,1114.8h1.9M723.2,1114.8h1.9M731,1114.8h3.9M746.6,1114.8h1.9M861.7,1114.8h1.9M867.5,1114.8h1.9M871.4,1114.8h1.9M885.1,1114.8h1.9M703.7,1116.8h1.9M707.6,1116.8h3.9M727.1,1116.8h3.9M736.9,1116.8h1.9M695.9,1118.7h1.9M699.8,1118.7h1.9M721.3,1118.7h3.9M729.1,1118.7h1.9M779.8,1118.7h1.9M869.5,1118.7h1.9M875.3,1118.7h5.8M883.1,1118.7h1.9M709.6,1120.7h1.9M713.5,1120.7h1.9M717.4,1120.7h1.9M729.1,1120.7h1.9M733,1120.7h3.9M777.8,1120.7h1.9M871.4,1120.7h1.9M875.3,1120.7h1.9M879.2,1120.7h3.9M717.4,1122.6h1.9M723.2,1122.6h5.8M777.8,1122.6h1.9M694,1124.5h3.9M699.8,1124.5h1.9M707.6,1124.5h1.9M711.5,1124.5h3.9M721.3,1124.5h1.9M733,1124.5h1.9M736.9,1124.5h1.9M775.9,1124.5h1.9M875.3,1124.5h1.9M885.1,1124.5h1.9M723.2,1126.5h1.9M727.1,1126.5h1.9M777.8,1126.5h1.9M875.3,1126.5h5.8M707.6,1128.5h1.9M713.5,1128.5h1.9M717.4,1128.5h1.9M721.3,1128.5h1.9M725.2,1128.5h1.9M734.9,1128.5h1.9M775.9,1128.5h1.9M873.4,1128.5h1.9M877.3,1128.5h1.9M881.2,1128.5h1.9M697.9,1130.4h1.9M703.7,1130.4h5.8M715.4,1130.4h1.9M721.3,1130.4h1.9M731,1130.4h1.9M734.9,1130.4h1.9M883.1,1130.4h1.9M695.9,1132.3h1.9M703.7,1132.3h1.9M709.6,1132.3h1.9M713.5,1132.3h3.9M729.1,1132.3h1.9M875.3,1132.3h3.9M883.1,1132.3h3.9M699.8,1134.3h1.9M723.2,1134.3h1.9M734.9,1134.3h1.9M775.9,1134.3h1.9M887,1134.3h1.9M703.7,1136.2h3.9M723.2,1136.2h3.9M729.1,1136.2h3.9M699.8,1138.2h1.9M703.7,1138.2h3.9M709.6,1138.2h1.9M719.3,1138.2h1.9M731,1138.2h1.9M887,1138.2h1.9M699.8,1140.2h1.9M717.4,1140.2h1.9M721.3,1140.2h1.9M889,1140.2h1.9M697.9,1142.1h1.9M705.7,1142.1h1.9M725.2,1142.1h1.9M729.1,1142.1h1.9M734.9,1142.1h1.9M705.7,1144h1.9M711.5,1144h1.9M717.4,1144h1.9M721.3,1146h1.9M703.7,1148h1.9M705.7,1149.9h1.9M709.6,1149.9h1.9M723.2,1149.9h1.9M705.7,1151.8h1.9M717.4,1153.8h1.9M701.8,1155.8h1.9M713.5,1155.8h1.9M711.5,1157.7h1.9M709.6,1165.5h1.9" stroke="#3d5989" stroke-width="2.3" fill="none"/>
<path d="M812.9,732.6h1.9M770,742.4h1.9M803.2,744.3h1.9M811,744.3h3.9M803.2,746.2h1.9M801.2,748.2h1.9M816.8,748.2h1.9M807.1,750.1h1.9M822.7,795h1.9M822.7,797h3.9M797.3,814.5h9.8M812.9,814.5h1.9M816.8,814.5h1.9M799.3,816.5h1.9M805.1,816.5h1.9M795.4,818.4h11.7M801.2,820.4h3.9M814.9,820.4h1.9M799.3,822.3h3.9M812.9,822.3h1.9M803.2,824.2h1.9M809,824.2h3.9M797.3,826.2h3.9M803.2,826.2h3.9M812.9,826.2h1.9M816.8,826.2h1.9M799.3,828.1h7.8M797.3,830.1h1.9M801.2,830.1h5.8M914.3,830.1h3.9M920.2,830.1h1.9M801.2,832h5.8M906.5,832h1.9M918.2,832h3.9M799.3,834h7.8M910.4,834h1.9M908.5,836h1.9M912.4,836h1.9M918.2,836h1.9M904.6,837.9h7.8M916.3,837.9h1.9M894.8,839.9h1.9M898.7,839.9h5.8M908.5,839.9h5.8M916.3,839.9h1.9M894.8,841.8h3.9M900.7,841.8h13.7M894.8,843.8h5.8M902.6,843.8h5.8M916.3,843.8h1.9M900.7,845.7h1.9M904.6,845.7h3.9M912.4,845.7h1.9M920.2,845.7h1.9M902.6,847.6h3.9M912.4,847.6h1.9M918.2,847.6h1.9M795.4,849.6h3.9M902.6,849.6h3.9M904.6,851.5h1.9M770,865.2h1.9M816.8,880.8h1.9M785.6,882.8h1.9M828.5,882.8h1.9M787.6,884.7h3.9M793.4,884.7h1.9M760.3,886.6h1.9M816.8,886.6h1.9M826.6,886.6h1.9M762.2,888.6h1.9M772,888.6h1.9M775.9,888.6h1.9M816.8,888.6h1.9M822.7,888.6h3.9M764.2,890.5h1.9M768.1,890.5h1.9M764.2,892.5h3.9M773.9,892.5h1.9M797.3,892.5h5.8M812.9,892.5h1.9M816.8,892.5h1.9M820.7,892.5h1.9M762.2,894.5h1.9M799.3,894.5h1.9M803.2,894.5h1.9M818.8,894.5h3.9M824.6,894.5h1.9M762.2,896.4h1.9M772,896.4h5.8M779.8,896.4h1.9M785.6,896.4h7.8M799.3,896.4h1.9M811,896.4h1.9M816.8,896.4h9.8M1048.9,896.4h3.9M766.1,898.4h1.9M770,898.4h1.9M773.9,898.4h3.9M779.8,898.4h1.9M785.6,898.4h1.9M799.3,898.4h3.9M811,898.4h11.7M1048.9,898.4h5.8M752.5,900.3h1.9M758.3,900.3h1.9M768.1,900.3h3.9M773.9,900.3h9.8M799.3,900.3h1.9M809,900.3h3.9M816.8,900.3h3.9M822.7,900.3h3.9M844.1,900.3h1.9M750.5,902.2h5.8M760.3,902.2h1.9M766.1,902.2h1.9M772,902.2h5.8M781.7,902.2h3.9M787.6,902.2h5.8M797.3,902.2h3.9M811,902.2h3.9M818.8,902.2h1.9M846.1,902.2h1.9M750.5,904.2h1.9M764.2,904.2h7.8M779.8,904.2h5.8M787.6,904.2h3.9M793.4,904.2h1.9M799.3,904.2h1.9M807.1,904.2h1.9M811,904.2h3.9M816.8,904.2h3.9M822.7,904.2h3.9M760.3,906.1h1.9M766.1,906.1h5.8M775.9,906.1h7.8M785.6,906.1h7.8M805.1,906.1h1.9M812.9,906.1h1.9M818.8,906.1h1.9M822.7,906.1h5.8M750.5,908.1h9.8M762.2,908.1h3.9M768.1,908.1h1.9M777.8,908.1h5.8M789.5,908.1h1.9M793.4,908.1h3.9M809,908.1h1.9M814.9,908.1h7.8M834.4,908.1h1.9M748.6,910h5.8M758.3,910h5.8M768.1,910h3.9M775.9,910h5.8M787.6,910h3.9M795.4,910h3.9M801.2,910h1.9M807.1,910h1.9M812.9,910h1.9M818.8,910h5.8M832.4,910h7.8M754.4,912h5.8M762.2,912h1.9M772,912h1.9M777.8,912h1.9M783.7,912h1.9M787.6,912h7.8M797.3,912h3.9M803.2,912h1.9M809,912h5.8M816.8,912h11.7M836.3,912h1.9M850,912h3.9M746.6,914h1.9M758.3,914h13.7M773.9,914h3.9M781.7,914h1.9M785.6,914h13.7M801.2,914h5.8M809,914h9.8M820.7,914h1.9M824.6,914h3.9M832.4,914h1.9M848,914h1.9M750.5,915.9h1.9M760.3,915.9h1.9M764.2,915.9h1.9M768.1,915.9h3.9M777.8,915.9h1.9M787.6,915.9h1.9M793.4,915.9h3.9M803.2,915.9h1.9M807.1,915.9h1.9M811,915.9h1.9M814.9,915.9h3.9M820.7,915.9h1.9M826.6,915.9h1.9M836.3,915.9h1.9M736.9,917.9h1.9M748.6,917.9h3.9M758.3,917.9h3.9M764.2,917.9h9.8M777.8,917.9h3.9M783.7,917.9h3.9M795.4,917.9h1.9M799.3,917.9h1.9M803.2,917.9h1.9M807.1,917.9h15.6M824.6,917.9h1.9M828.5,917.9h7.8M848,917.9h1.9M750.5,919.8h1.9M754.4,919.8h1.9M758.3,919.8h3.9M764.2,919.8h7.8M773.9,919.8h13.7M789.5,919.8h3.9M797.3,919.8h3.9M805.1,919.8h21.4M832.4,919.8h3.9M748.6,921.8h3.9M758.3,921.8h1.9M762.2,921.8h3.9M768.1,921.8h1.9M775.9,921.8h1.9M781.7,921.8h17.6M805.1,921.8h15.6M822.7,921.8h3.9M830.5,921.8h1.9M834.4,921.8h1.9M851.9,921.8h1.9M746.6,923.7h5.8M758.3,923.7h3.9M764.2,923.7h3.9M772,923.7h5.8M779.8,923.7h1.9M783.7,923.7h3.9M789.5,923.7h3.9M795.4,923.7h1.9M799.3,923.7h1.9M805.1,923.7h19.5M826.6,923.7h9.8M838.3,923.7h1.9M851.9,923.7h1.9M863.6,923.7h3.9M873.4,923.7h1.9M748.6,925.6h1.9M752.5,925.6h7.8M762.2,925.6h1.9M766.1,925.6h15.6M785.6,925.6h7.8M795.4,925.6h13.7M811,925.6h13.7M826.6,925.6h3.9M834.4,925.6h5.8M848,925.6h3.9M865.6,925.6h1.9M748.6,927.6h3.9M758.3,927.6h5.8M766.1,927.6h1.9M770,927.6h15.6M789.5,927.6h15.6M811,927.6h17.6M830.5,927.6h5.8M840.2,927.6h3.9M846.1,927.6h7.8M855.8,927.6h1.9M869.5,927.6h1.9M746.6,929.5h1.9M750.5,929.5h3.9M758.3,929.5h3.9M766.1,929.5h13.7M781.7,929.5h25.3M811,929.5h3.9M816.8,929.5h3.9M822.7,929.5h5.8M834.4,929.5h3.9M840.2,929.5h3.9M846.1,929.5h7.8M857.8,929.5h5.8M865.6,929.5h1.9M869.5,929.5h3.9M756.4,931.5h1.9M760.3,931.5h1.9M764.2,931.5h1.9M770,931.5h3.9M775.9,931.5h5.8M783.7,931.5h1.9M793.4,931.5h3.9M801.2,931.5h3.9M807.1,931.5h1.9M811,931.5h11.7M824.6,931.5h3.9M832.4,931.5h1.9M836.3,931.5h7.8M848,931.5h3.9M859.7,931.5h3.9M871.4,931.5h5.8M738.8,933.5h1.9M746.6,933.5h3.9M752.5,933.5h1.9M756.4,933.5h3.9M766.1,933.5h1.9M770,933.5h3.9M775.9,933.5h1.9M783.7,933.5h1.9M799.3,933.5h1.9M816.8,933.5h13.7M834.4,933.5h5.8M842.2,933.5h17.6M861.7,933.5h1.9M869.5,933.5h1.9M740.8,935.4h1.9M750.5,935.4h3.9M756.4,935.4h15.6M773.9,935.4h1.9M779.8,935.4h1.9M785.6,935.4h1.9M797.3,935.4h5.8M811,935.4h1.9M814.9,935.4h1.9M818.8,935.4h7.8M834.4,935.4h7.8M844.1,935.4h3.9M851.9,935.4h1.9M857.8,935.4h1.9M863.6,935.4h1.9M867.5,935.4h1.9M871.4,935.4h1.9M877.3,935.4h3.9M733,937.4h1.9M746.6,937.4h11.7M762.2,937.4h3.9M777.8,937.4h9.8M797.3,937.4h17.6M820.7,937.4h7.8M836.3,937.4h9.8M850,937.4h1.9M855.8,937.4h5.8M871.4,937.4h1.9M875.3,937.4h1.9M879.2,937.4h1.9M729.1,939.3h1.9M736.9,939.3h1.9M746.6,939.3h3.9M752.5,939.3h1.9M756.4,939.3h3.9M766.1,939.3h3.9M775.9,939.3h1.9M779.8,939.3h3.9M787.6,939.3h1.9M795.4,939.3h3.9M811,939.3h5.8M820.7,939.3h1.9M824.6,939.3h1.9M828.5,939.3h1.9M832.4,939.3h3.9M838.3,939.3h3.9M846.1,939.3h1.9M851.9,939.3h3.9M859.7,939.3h9.8M871.4,939.3h7.8M887,939.3h1.9M744.7,941.2h15.6M764.2,941.2h5.8M775.9,941.2h5.8M783.7,941.2h3.9M793.4,941.2h1.9M797.3,941.2h5.8M805.1,941.2h1.9M809,941.2h3.9M816.8,941.2h1.9M820.7,941.2h1.9M824.6,941.2h1.9M830.5,941.2h1.9M840.2,941.2h3.9M848,941.2h3.9M853.9,941.2h11.7M871.4,941.2h5.8M879.2,941.2h1.9M883.1,941.2h3.9M889,941.2h1.9M908.5,941.2h1.9M738.8,943.2h1.9M742.7,943.2h9.8M758.3,943.2h5.8M766.1,943.2h5.8M777.8,943.2h3.9M814.9,943.2h1.9M820.7,943.2h1.9M826.6,943.2h1.9M830.5,943.2h7.8M840.2,943.2h1.9M844.1,943.2h5.8M851.9,943.2h5.8M861.7,943.2h1.9M865.6,943.2h1.9M871.4,943.2h3.9M881.2,943.2h1.9M709.6,945.1h1.9M742.7,945.1h9.8M758.3,945.1h5.8M766.1,945.1h3.9M772,945.1h3.9M789.5,945.1h1.9M812.9,945.1h1.9M816.8,945.1h1.9M820.7,945.1h1.9M828.5,945.1h3.9M834.4,945.1h23.4M861.7,945.1h1.9M865.6,945.1h1.9M873.4,945.1h1.9M881.2,945.1h1.9M715.4,947.1h1.9M736.9,947.1h3.9M746.6,947.1h5.8M758.3,947.1h3.9M764.2,947.1h5.8M772,947.1h3.9M777.8,947.1h3.9M797.3,947.1h1.9M805.1,947.1h3.9M812.9,947.1h1.9M818.8,947.1h3.9M828.5,947.1h1.9M832.4,947.1h3.9M840.2,947.1h7.8M850,947.1h1.9M855.8,947.1h1.9M859.7,947.1h5.8M873.4,947.1h1.9M713.5,949h5.8M721.3,949h1.9M738.8,949h1.9M744.7,949h1.9M748.6,949h1.9M756.4,949h1.9M760.3,949h1.9M764.2,949h3.9M781.7,949h1.9M785.6,949h19.5M818.8,949h1.9M836.3,949h1.9M840.2,949h11.7M855.8,949h13.7M871.4,949h9.8M889,949h1.9M1068.4,949h1.9M705.7,951h1.9M711.5,951h3.9M719.3,951h1.9M754.4,951h1.9M758.3,951h5.8M768.1,951h1.9M777.8,951h1.9M783.7,951h1.9M787.6,951h1.9M799.3,951h5.8M816.8,951h1.9M820.7,951h1.9M824.6,951h5.8M832.4,951h1.9M840.2,951h5.8M848,951h1.9M851.9,951h27.3M881.2,951h1.9M889,951h1.9M892.9,951h1.9M717.4,953h5.8M725.2,953h1.9M736.9,953h1.9M744.7,953h1.9M752.5,953h1.9M756.4,953h11.7M770,953h1.9M773.9,953h1.9M777.8,953h3.9M785.6,953h1.9M789.5,953h1.9M795.4,953h9.8M816.8,953h7.8M826.6,953h5.8M838.3,953h1.9M842.2,953h15.6M859.7,953h15.6M879.2,953h7.8M890.9,953h3.9M733,954.9h1.9M736.9,954.9h1.9M756.4,954.9h1.9M764.2,954.9h1.9M768.1,954.9h3.9M793.4,954.9h7.8M803.2,954.9h1.9M812.9,954.9h3.9M824.6,954.9h1.9M828.5,954.9h5.8M846.1,954.9h1.9M851.9,954.9h7.8M861.7,954.9h5.8M869.5,954.9h3.9M875.3,954.9h1.9M879.2,954.9h5.8M889,954.9h1.9M695.9,956.9h1.9M723.2,956.9h1.9M727.1,956.9h7.8M736.9,956.9h1.9M742.7,956.9h1.9M752.5,956.9h1.9M758.3,956.9h3.9M764.2,956.9h5.8M772,956.9h1.9M775.9,956.9h1.9M779.8,956.9h1.9M797.3,956.9h1.9M803.2,956.9h3.9M809,956.9h1.9M812.9,956.9h1.9M818.8,956.9h9.8M830.5,956.9h1.9M846.1,956.9h3.9M851.9,956.9h7.8M861.7,956.9h5.8M869.5,956.9h11.7M902.6,956.9h1.9M711.5,958.8h1.9M717.4,958.8h5.8M725.2,958.8h3.9M731,958.8h5.8M740.8,958.8h3.9M746.6,958.8h1.9M752.5,958.8h3.9M758.3,958.8h1.9M764.2,958.8h1.9M768.1,958.8h3.9M777.8,958.8h3.9M785.6,958.8h3.9M791.5,958.8h1.9M809,958.8h1.9M812.9,958.8h5.8M820.7,958.8h9.8M832.4,958.8h1.9M840.2,958.8h3.9M846.1,958.8h3.9M851.9,958.8h9.8M863.6,958.8h1.9M867.5,958.8h11.7M898.7,958.8h1.9M719.3,960.8h3.9M725.2,960.8h7.8M736.9,960.8h1.9M740.8,960.8h1.9M744.7,960.8h1.9M752.5,960.8h1.9M756.4,960.8h11.7M772,960.8h3.9M779.8,960.8h1.9M793.4,960.8h5.8M803.2,960.8h9.8M822.7,960.8h1.9M832.4,960.8h5.8M846.1,960.8h13.7M861.7,960.8h17.6M889,960.8h3.9M898.7,960.8h1.9M709.6,962.7h1.9M715.4,962.7h1.9M719.3,962.7h1.9M723.2,962.7h3.9M729.1,962.7h1.9M733,962.7h1.9M736.9,962.7h1.9M740.8,962.7h1.9M752.5,962.7h9.8M764.2,962.7h3.9M773.9,962.7h1.9M777.8,962.7h3.9M785.6,962.7h1.9M789.5,962.7h1.9M793.4,962.7h1.9M805.1,962.7h5.8M814.9,962.7h1.9M820.7,962.7h1.9M830.5,962.7h7.8M846.1,962.7h3.9M851.9,962.7h1.9M855.8,962.7h1.9M863.6,962.7h11.7M879.2,962.7h5.8M887,962.7h3.9M894.8,962.7h1.9M709.6,964.6h1.9M723.2,964.6h3.9M729.1,964.6h3.9M734.9,964.6h11.7M752.5,964.6h1.9M756.4,964.6h3.9M762.2,964.6h11.7M781.7,964.6h1.9M785.6,964.6h1.9M803.2,964.6h3.9M809,964.6h1.9M814.9,964.6h5.8M822.7,964.6h5.8M830.5,964.6h3.9M836.3,964.6h1.9M848,964.6h11.7M863.6,964.6h15.6M881.2,964.6h1.9M887,964.6h3.9M894.8,964.6h1.9M914.3,964.6h1.9M707.6,966.6h3.9M713.5,966.6h1.9M723.2,966.6h5.8M731,966.6h3.9M740.8,966.6h1.9M744.7,966.6h1.9M752.5,966.6h11.7M766.1,966.6h3.9M772,966.6h5.8M781.7,966.6h1.9M805.1,966.6h1.9M811,966.6h1.9M820.7,966.6h1.9M824.6,966.6h9.8M842.2,966.6h3.9M850,966.6h3.9M859.7,966.6h1.9M863.6,966.6h13.7M879.2,966.6h11.7M894.8,966.6h3.9M916.3,966.6h1.9M709.6,968.5h1.9M713.5,968.5h1.9M717.4,968.5h21.4M740.8,968.5h1.9M744.7,968.5h3.9M752.5,968.5h5.8M760.3,968.5h1.9M764.2,968.5h9.8M775.9,968.5h1.9M814.9,968.5h1.9M818.8,968.5h1.9M822.7,968.5h3.9M828.5,968.5h7.8M838.3,968.5h9.8M850,968.5h7.8M861.7,968.5h1.9M865.6,968.5h9.8M877.3,968.5h3.9M883.1,968.5h7.8M898.7,968.5h1.9M916.3,968.5h1.9M713.5,970.5h1.9M721.3,970.5h9.8M733,970.5h3.9M740.8,970.5h3.9M750.5,970.5h1.9M754.4,970.5h1.9M758.3,970.5h3.9M766.1,970.5h3.9M772,970.5h1.9M775.9,970.5h1.9M812.9,970.5h1.9M820.7,970.5h3.9M826.6,970.5h13.7M842.2,970.5h17.6M863.6,970.5h3.9M869.5,970.5h13.7M887,970.5h3.9M892.9,970.5h1.9M898.7,970.5h3.9M904.6,970.5h3.9M916.3,970.5h5.8M709.6,972.5h1.9M717.4,972.5h17.6M746.6,972.5h1.9M756.4,972.5h7.8M770,972.5h1.9M822.7,972.5h3.9M828.5,972.5h1.9M832.4,972.5h1.9M836.3,972.5h3.9M844.1,972.5h1.9M848,972.5h11.7M861.7,972.5h1.9M869.5,972.5h7.8M881.2,972.5h1.9M887,972.5h3.9M892.9,972.5h5.8M900.7,972.5h1.9M910.4,972.5h1.9M713.5,974.4h7.8M723.2,974.4h11.7M736.9,974.4h1.9M746.6,974.4h1.9M752.5,974.4h5.8M762.2,974.4h1.9M772,974.4h1.9M818.8,974.4h1.9M822.7,974.4h1.9M826.6,974.4h3.9M832.4,974.4h5.8M840.2,974.4h1.9M844.1,974.4h3.9M850,974.4h15.6M869.5,974.4h5.8M877.3,974.4h1.9M881.2,974.4h7.8M896.8,974.4h3.9M902.6,974.4h1.9M910.4,974.4h1.9M916.3,974.4h1.9M715.4,976.4h9.8M727.1,976.4h11.7M742.7,976.4h1.9M752.5,976.4h1.9M758.3,976.4h5.8M770,976.4h1.9M826.6,976.4h1.9M836.3,976.4h1.9M840.2,976.4h3.9M846.1,976.4h1.9M850,976.4h13.7M865.6,976.4h1.9M869.5,976.4h5.8M877.3,976.4h9.8M889,976.4h1.9M900.7,976.4h3.9M711.5,978.3h1.9M715.4,978.3h1.9M729.1,978.3h5.8M744.7,978.3h7.8M756.4,978.3h1.9M764.2,978.3h1.9M770,978.3h1.9M828.5,978.3h1.9M832.4,978.3h1.9M842.2,978.3h7.8M853.9,978.3h1.9M857.8,978.3h11.7M875.3,978.3h9.8M898.7,978.3h3.9M906.5,978.3h3.9M914.3,978.3h1.9M705.7,980.2h1.9M709.6,980.2h29.2M742.7,980.2h9.8M754.4,980.2h1.9M760.3,980.2h5.8M818.8,980.2h11.7M836.3,980.2h1.9M842.2,980.2h1.9M848,980.2h1.9M851.9,980.2h11.7M865.6,980.2h7.8M875.3,980.2h11.7M892.9,980.2h3.9M898.7,980.2h3.9M703.7,982.2h5.8M713.5,982.2h21.4M740.8,982.2h5.8M750.5,982.2h1.9M754.4,982.2h3.9M766.1,982.2h3.9M828.5,982.2h5.8M838.3,982.2h3.9M848,982.2h9.8M859.7,982.2h7.8M869.5,982.2h15.6M887,982.2h1.9M890.9,982.2h3.9M906.5,982.2h1.9M910.4,982.2h1.9M709.6,984.1h1.9M715.4,984.1h9.8M731,984.1h3.9M746.6,984.1h3.9M764.2,984.1h1.9M768.1,984.1h1.9M822.7,984.1h7.8M840.2,984.1h1.9M846.1,984.1h11.7M863.6,984.1h19.5M885.1,984.1h15.6M902.6,984.1h1.9M908.5,984.1h1.9M914.3,984.1h1.9M692,986.1h1.9M699.8,986.1h3.9M713.5,986.1h9.8M727.1,986.1h1.9M731,986.1h1.9M736.9,986.1h3.9M748.6,986.1h5.8M760.3,986.1h1.9M766.1,986.1h1.9M822.7,986.1h3.9M863.6,986.1h11.7M877.3,986.1h9.8M889,986.1h1.9M892.9,986.1h3.9M902.6,986.1h1.9M916.3,986.1h1.9M692,988h3.9M705.7,988h1.9M715.4,988h7.8M731,988h1.9M734.9,988h1.9M742.7,988h1.9M748.6,988h1.9M752.5,988h1.9M756.4,988h1.9M760.3,988h7.8M822.7,988h1.9M826.6,988h5.8M838.3,988h1.9M844.1,988h3.9M851.9,988h31.2M885.1,988h7.8M906.5,988h1.9M694,990h1.9M701.8,990h5.8M715.4,990h11.7M729.1,990h3.9M736.9,990h1.9M740.8,990h5.8M756.4,990h1.9M760.3,990h1.9M822.7,990h5.8M830.5,990h1.9M846.1,990h1.9M850,990h1.9M855.8,990h3.9M863.6,990h27.3M892.9,990h3.9M900.7,990h1.9M908.5,990h1.9M699.8,992h1.9M703.7,992h3.9M717.4,992h1.9M725.2,992h1.9M731,992h3.9M736.9,992h1.9M740.8,992h5.8M748.6,992h1.9M752.5,992h3.9M758.3,992h3.9M822.7,992h3.9M830.5,992h1.9M850,992h7.8M863.6,992h5.8M871.4,992h3.9M877.3,992h7.8M889,992h1.9M892.9,992h1.9M898.7,992h1.9M904.6,992h1.9M910.4,992h1.9M697.9,993.9h1.9M701.8,993.9h5.8M711.5,993.9h1.9M715.4,993.9h3.9M721.3,993.9h3.9M727.1,993.9h1.9M731,993.9h3.9M738.8,993.9h3.9M744.7,993.9h1.9M752.5,993.9h5.8M828.5,993.9h1.9M832.4,993.9h1.9M850,993.9h21.4M873.4,993.9h15.6M892.9,993.9h5.8M715.4,995.9h3.9M721.3,995.9h7.8M731,995.9h1.9M734.9,995.9h1.9M742.7,995.9h1.9M746.6,995.9h1.9M750.5,995.9h1.9M754.4,995.9h3.9M762.2,995.9h7.8M824.6,995.9h5.8M834.4,995.9h3.9M846.1,995.9h1.9M851.9,995.9h5.8M859.7,995.9h21.4M883.1,995.9h3.9M892.9,995.9h5.8M707.6,997.8h3.9M715.4,997.8h1.9M721.3,997.8h9.8M733,997.8h9.8M746.6,997.8h3.9M752.5,997.8h5.8M760.3,997.8h1.9M764.2,997.8h1.9M824.6,997.8h3.9M832.4,997.8h3.9M838.3,997.8h1.9M844.1,997.8h1.9M851.9,997.8h7.8M863.6,997.8h5.8M871.4,997.8h15.6M894.8,997.8h3.9M900.7,997.8h3.9M912.4,997.8h3.9M711.5,999.8h1.9M715.4,999.8h11.7M733,999.8h5.8M742.7,999.8h1.9M750.5,999.8h1.9M756.4,999.8h1.9M764.2,999.8h5.8M818.8,999.8h1.9M824.6,999.8h1.9M828.5,999.8h1.9M832.4,999.8h5.8M840.2,999.8h3.9M848,999.8h3.9M853.9,999.8h3.9M859.7,999.8h23.4M885.1,999.8h1.9M892.9,999.8h5.8M900.7,999.8h3.9M910.4,999.8h3.9M928,999.8h1.9M699.8,1001.7h23.4M725.2,1001.7h9.8M740.8,1001.7h1.9M744.7,1001.7h1.9M750.5,1001.7h1.9M760.3,1001.7h3.9M770,1001.7h1.9M816.8,1001.7h3.9M822.7,1001.7h5.8M830.5,1001.7h1.9M834.4,1001.7h3.9M846.1,1001.7h11.7M859.7,1001.7h5.8M867.5,1001.7h5.8M875.3,1001.7h7.8M885.1,1001.7h1.9M889,1001.7h9.8M900.7,1001.7h1.9M906.5,1001.7h1.9M910.4,1001.7h5.8M703.7,1003.6h3.9M711.5,1003.6h1.9M715.4,1003.6h3.9M721.3,1003.6h3.9M729.1,1003.6h7.8M738.8,1003.6h1.9M742.7,1003.6h5.8M762.2,1003.6h1.9M768.1,1003.6h1.9M818.8,1003.6h3.9M826.6,1003.6h7.8M838.3,1003.6h1.9M846.1,1003.6h3.9M853.9,1003.6h1.9M857.8,1003.6h5.8M865.6,1003.6h15.6M892.9,1003.6h13.7M910.4,1003.6h5.8M926,1003.6h1.9M692,1005.6h1.9M699.8,1005.6h3.9M705.7,1005.6h1.9M713.5,1005.6h9.8M725.2,1005.6h5.8M733,1005.6h1.9M742.7,1005.6h5.8M750.5,1005.6h3.9M764.2,1005.6h3.9M772,1005.6h1.9M818.8,1005.6h1.9M824.6,1005.6h15.6M846.1,1005.6h1.9M851.9,1005.6h1.9M857.8,1005.6h1.9M867.5,1005.6h15.6M885.1,1005.6h13.7M906.5,1005.6h3.9M912.4,1005.6h1.9M937.7,1005.6h1.9M699.8,1007.5h1.9M703.7,1007.5h5.8M713.5,1007.5h1.9M717.4,1007.5h19.5M746.6,1007.5h5.8M766.1,1007.5h1.9M770,1007.5h3.9M818.8,1007.5h3.9M824.6,1007.5h3.9M830.5,1007.5h1.9M842.2,1007.5h1.9M850,1007.5h7.8M859.7,1007.5h3.9M865.6,1007.5h11.7M881.2,1007.5h3.9M887,1007.5h17.6M908.5,1007.5h1.9M703.7,1009.5h3.9M709.6,1009.5h1.9M713.5,1009.5h1.9M719.3,1009.5h3.9M725.2,1009.5h11.7M738.8,1009.5h1.9M742.7,1009.5h3.9M748.6,1009.5h1.9M764.2,1009.5h1.9M768.1,1009.5h1.9M772,1009.5h5.8M816.8,1009.5h1.9M822.7,1009.5h5.8M840.2,1009.5h5.8M848,1009.5h1.9M851.9,1009.5h3.9M857.8,1009.5h1.9M861.7,1009.5h13.7M877.3,1009.5h1.9M881.2,1009.5h1.9M887,1009.5h1.9M890.9,1009.5h3.9M896.8,1009.5h1.9M902.6,1009.5h1.9M906.5,1009.5h3.9M922.1,1009.5h1.9M699.8,1011.5h1.9M703.7,1011.5h3.9M709.6,1011.5h1.9M717.4,1011.5h1.9M725.2,1011.5h13.7M742.7,1011.5h1.9M748.6,1011.5h5.8M756.4,1011.5h1.9M764.2,1011.5h5.8M773.9,1011.5h1.9M812.9,1011.5h1.9M816.8,1011.5h7.8M830.5,1011.5h1.9M850,1011.5h7.8M863.6,1011.5h7.8M873.4,1011.5h9.8M885.1,1011.5h11.7M902.6,1011.5h1.9M912.4,1011.5h1.9M699.8,1013.4h3.9M711.5,1013.4h1.9M715.4,1013.4h3.9M723.2,1013.4h7.8M733,1013.4h9.8M746.6,1013.4h7.8M758.3,1013.4h9.8M770,1013.4h1.9M773.9,1013.4h9.8M807.1,1013.4h1.9M811,1013.4h3.9M816.8,1013.4h1.9M824.6,1013.4h5.8M832.4,1013.4h1.9M838.3,1013.4h1.9M850,1013.4h13.7M865.6,1013.4h17.6M885.1,1013.4h3.9M892.9,1013.4h19.5M914.3,1013.4h1.9M699.8,1015.4h1.9M715.4,1015.4h3.9M723.2,1015.4h11.7M736.9,1015.4h3.9M748.6,1015.4h3.9M756.4,1015.4h1.9M760.3,1015.4h5.8M768.1,1015.4h1.9M772,1015.4h5.8M787.6,1015.4h1.9M799.3,1015.4h1.9M826.6,1015.4h1.9M830.5,1015.4h9.8M851.9,1015.4h11.7M865.6,1015.4h9.8M877.3,1015.4h3.9M883.1,1015.4h3.9M892.9,1015.4h3.9M898.7,1015.4h11.7M914.3,1015.4h1.9M918.2,1015.4h1.9M694,1017.3h1.9M707.6,1017.3h1.9M711.5,1017.3h1.9M717.4,1017.3h13.7M733,1017.3h5.8M740.8,1017.3h7.8M762.2,1017.3h1.9M766.1,1017.3h1.9M773.9,1017.3h3.9M779.8,1017.3h3.9M785.6,1017.3h3.9M791.5,1017.3h1.9M799.3,1017.3h3.9M809,1017.3h1.9M812.9,1017.3h1.9M820.7,1017.3h13.7M836.3,1017.3h3.9M844.1,1017.3h1.9M848,1017.3h1.9M851.9,1017.3h7.8M863.6,1017.3h23.4M889,1017.3h9.8M900.7,1017.3h11.7M682.3,1019.2h1.9M705.7,1019.2h1.9M709.6,1019.2h9.8M723.2,1019.2h11.7M736.9,1019.2h5.8M744.7,1019.2h1.9M752.5,1019.2h3.9M760.3,1019.2h1.9M768.1,1019.2h1.9M773.9,1019.2h1.9M779.8,1019.2h7.8M793.4,1019.2h1.9M799.3,1019.2h3.9M814.9,1019.2h3.9M822.7,1019.2h1.9M838.3,1019.2h3.9M844.1,1019.2h15.6M863.6,1019.2h3.9M869.5,1019.2h7.8M879.2,1019.2h5.8M887,1019.2h5.8M898.7,1019.2h1.9M902.6,1019.2h5.8M910.4,1019.2h3.9M920.2,1019.2h3.9M926,1019.2h1.9M694,1021.2h1.9M697.9,1021.2h7.8M711.5,1021.2h3.9M719.3,1021.2h9.8M731,1021.2h3.9M738.8,1021.2h1.9M744.7,1021.2h3.9M752.5,1021.2h3.9M785.6,1021.2h3.9M791.5,1021.2h5.8M814.9,1021.2h3.9M820.7,1021.2h3.9M826.6,1021.2h1.9M834.4,1021.2h1.9M842.2,1021.2h1.9M848,1021.2h1.9M851.9,1021.2h5.8M861.7,1021.2h1.9M871.4,1021.2h3.9M879.2,1021.2h1.9M883.1,1021.2h1.9M889,1021.2h3.9M894.8,1021.2h3.9M900.7,1021.2h7.8M912.4,1021.2h5.8M920.2,1021.2h1.9M690.1,1023.1h1.9M694,1023.1h1.9M703.7,1023.1h3.9M709.6,1023.1h3.9M715.4,1023.1h1.9M719.3,1023.1h7.8M729.1,1023.1h5.8M736.9,1023.1h1.9M740.8,1023.1h5.8M752.5,1023.1h3.9M760.3,1023.1h1.9M775.9,1023.1h1.9M783.7,1023.1h1.9M789.5,1023.1h5.8M797.3,1023.1h1.9M801.2,1023.1h1.9M805.1,1023.1h1.9M812.9,1023.1h3.9M824.6,1023.1h5.8M832.4,1023.1h1.9M836.3,1023.1h3.9M842.2,1023.1h3.9M848,1023.1h1.9M851.9,1023.1h5.8M859.7,1023.1h1.9M867.5,1023.1h9.8M879.2,1023.1h1.9M883.1,1023.1h1.9M887,1023.1h1.9M890.9,1023.1h1.9M894.8,1023.1h5.8M904.6,1023.1h17.6M697.9,1025.1h3.9M703.7,1025.1h11.7M723.2,1025.1h17.6M742.7,1025.1h3.9M756.4,1025.1h9.8M772,1025.1h3.9M779.8,1025.1h5.8M787.6,1025.1h1.9M799.3,1025.1h3.9M811,1025.1h5.8M824.6,1025.1h3.9M848,1025.1h15.6M867.5,1025.1h5.8M883.1,1025.1h1.9M889,1025.1h9.8M902.6,1025.1h5.8M910.4,1025.1h5.8M929.9,1025.1h1.9M692,1027h1.9M695.9,1027h1.9M699.8,1027h3.9M705.7,1027h1.9M711.5,1027h3.9M719.3,1027h1.9M723.2,1027h9.8M734.9,1027h5.8M742.7,1027h3.9M754.4,1027h1.9M770,1027h1.9M775.9,1027h1.9M781.7,1027h1.9M785.6,1027h1.9M789.5,1027h1.9M801.2,1027h5.8M809,1027h1.9M814.9,1027h1.9M834.4,1027h1.9M838.3,1027h1.9M850,1027h1.9M857.8,1027h9.8M869.5,1027h3.9M883.1,1027h1.9M887,1027h11.7M904.6,1027h1.9M910.4,1027h3.9M931.9,1027h1.9M692,1029h3.9M697.9,1029h1.9M705.7,1029h1.9M719.3,1029h1.9M723.2,1029h15.6M740.8,1029h3.9M750.5,1029h5.8M760.3,1029h1.9M773.9,1029h1.9M777.8,1029h9.8M805.1,1029h1.9M812.9,1029h5.8M822.7,1029h3.9M857.8,1029h19.5M881.2,1029h1.9M889,1029h7.8M898.7,1029h3.9M904.6,1029h3.9M910.4,1029h5.8M1013.8,1029h1.9M692,1031h1.9M695.9,1031h3.9M703.7,1031h1.9M711.5,1031h7.8M727.1,1031h13.7M742.7,1031h7.8M760.3,1031h1.9M770,1031h1.9M773.9,1031h1.9M781.7,1031h5.8M793.4,1031h1.9M803.2,1031h1.9M807.1,1031h1.9M824.6,1031h5.8M832.4,1031h1.9M859.7,1031h1.9M873.4,1031h11.7M890.9,1031h5.8M898.7,1031h3.9M906.5,1031h3.9M1011.8,1031h1.9M703.7,1032.9h1.9M713.5,1032.9h13.7M729.1,1032.9h5.8M736.9,1032.9h3.9M744.7,1032.9h7.8M756.4,1032.9h1.9M770,1032.9h1.9M773.9,1032.9h1.9M793.4,1032.9h1.9M814.9,1032.9h1.9M824.6,1032.9h1.9M830.5,1032.9h3.9M838.3,1032.9h1.9M844.1,1032.9h5.8M863.6,1032.9h5.8M871.4,1032.9h19.5M892.9,1032.9h1.9M896.8,1032.9h5.8M904.6,1032.9h1.9M908.5,1032.9h1.9M912.4,1032.9h1.9M926,1032.9h1.9M1017.7,1032.9h1.9M670.6,1034.8h1.9M703.7,1034.8h3.9M711.5,1034.8h5.8M723.2,1034.8h1.9M727.1,1034.8h5.8M734.9,1034.8h5.8M742.7,1034.8h11.7M770,1034.8h3.9M783.7,1034.8h5.8M795.4,1034.8h3.9M811,1034.8h1.9M816.8,1034.8h7.8M828.5,1034.8h3.9M834.4,1034.8h1.9M840.2,1034.8h1.9M851.9,1034.8h1.9M875.3,1034.8h9.8M887,1034.8h7.8M896.8,1034.8h9.8M908.5,1034.8h1.9M912.4,1034.8h5.8M1009.9,1034.8h11.7M699.8,1036.8h1.9M705.7,1036.8h5.8M715.4,1036.8h1.9M723.2,1036.8h5.8M731,1036.8h1.9M734.9,1036.8h3.9M742.7,1036.8h5.8M750.5,1036.8h5.8M760.3,1036.8h7.8M773.9,1036.8h3.9M779.8,1036.8h1.9M783.7,1036.8h1.9M807.1,1036.8h3.9M816.8,1036.8h5.8M824.6,1036.8h3.9M832.4,1036.8h1.9M848,1036.8h5.8M861.7,1036.8h1.9M871.4,1036.8h15.6M902.6,1036.8h1.9M1011.8,1036.8h1.9M1015.7,1036.8h3.9M1021.6,1036.8h1.9M705.7,1038.8h1.9M709.6,1038.8h3.9M715.4,1038.8h1.9M721.3,1038.8h3.9M729.1,1038.8h1.9M733,1038.8h5.8M740.8,1038.8h1.9M748.6,1038.8h1.9M752.5,1038.8h7.8M768.1,1038.8h3.9M773.9,1038.8h5.8M783.7,1038.8h1.9M787.6,1038.8h1.9M791.5,1038.8h1.9M797.3,1038.8h1.9M809,1038.8h1.9M812.9,1038.8h1.9M818.8,1038.8h5.8M830.5,1038.8h1.9M838.3,1038.8h1.9M848,1038.8h1.9M851.9,1038.8h1.9M871.4,1038.8h5.8M879.2,1038.8h9.8M894.8,1038.8h5.8M902.6,1038.8h3.9M701.8,1040.7h1.9M711.5,1040.7h1.9M721.3,1040.7h3.9M727.1,1040.7h11.7M740.8,1040.7h3.9M748.6,1040.7h1.9M752.5,1040.7h13.7M773.9,1040.7h3.9M781.7,1040.7h5.8M793.4,1040.7h1.9M801.2,1040.7h1.9M818.8,1040.7h3.9M824.6,1040.7h9.8M836.3,1040.7h1.9M851.9,1040.7h1.9M855.8,1040.7h1.9M871.4,1040.7h1.9M877.3,1040.7h1.9M881.2,1040.7h5.8M890.9,1040.7h1.9M894.8,1040.7h13.7M929.9,1040.7h1.9M1031.3,1040.7h1.9M1035.2,1040.7h3.9M703.7,1042.7h1.9M717.4,1042.7h1.9M721.3,1042.7h1.9M729.1,1042.7h11.7M744.7,1042.7h21.4M773.9,1042.7h1.9M777.8,1042.7h1.9M781.7,1042.7h1.9M785.6,1042.7h1.9M805.1,1042.7h1.9M809,1042.7h1.9M822.7,1042.7h3.9M828.5,1042.7h9.8M859.7,1042.7h3.9M883.1,1042.7h3.9M889,1042.7h3.9M902.6,1042.7h1.9M926,1042.7h1.9M931.9,1042.7h1.9M1031.3,1042.7h7.8M707.6,1044.6h3.9M713.5,1044.6h9.8M725.2,1044.6h25.3M752.5,1044.6h9.8M766.1,1044.6h3.9M775.9,1044.6h1.9M789.5,1044.6h1.9M797.3,1044.6h1.9M803.2,1044.6h1.9M822.7,1044.6h11.7M836.3,1044.6h3.9M861.7,1044.6h1.9M883.1,1044.6h3.9M967,1044.6h1.9M1031.3,1044.6h3.9M1037.2,1044.6h1.9M1041.1,1044.6h1.9M1045,1044.6h1.9M709.6,1046.5h1.9M715.4,1046.5h1.9M719.3,1046.5h5.8M731,1046.5h7.8M750.5,1046.5h1.9M754.4,1046.5h1.9M758.3,1046.5h9.8M770,1046.5h1.9M775.9,1046.5h1.9M781.7,1046.5h3.9M822.7,1046.5h15.6M861.7,1046.5h1.9M885.1,1046.5h1.9M1035.2,1046.5h3.9M1041.1,1046.5h3.9M707.6,1048.5h7.8M719.3,1048.5h1.9M727.1,1048.5h5.8M734.9,1048.5h1.9M740.8,1048.5h11.7M754.4,1048.5h15.6M775.9,1048.5h1.9M781.7,1048.5h1.9M811,1048.5h5.8M820.7,1048.5h17.6M842.2,1048.5h3.9M898.7,1048.5h3.9M914.3,1048.5h1.9M965,1048.5h1.9M1031.3,1048.5h1.9M1035.2,1048.5h1.9M1043,1048.5h1.9M709.6,1050.5h9.8M727.1,1050.5h5.8M734.9,1050.5h13.7M750.5,1050.5h1.9M758.3,1050.5h13.7M785.6,1050.5h3.9M791.5,1050.5h1.9M803.2,1050.5h3.9M814.9,1050.5h1.9M822.7,1050.5h13.7M838.3,1050.5h1.9M842.2,1050.5h1.9M902.6,1050.5h1.9M1031.3,1050.5h5.8M715.4,1052.4h1.9M719.3,1052.4h1.9M729.1,1052.4h1.9M733,1052.4h1.9M738.8,1052.4h3.9M746.6,1052.4h1.9M756.4,1052.4h3.9M762.2,1052.4h5.8M770,1052.4h3.9M779.8,1052.4h1.9M785.6,1052.4h1.9M789.5,1052.4h3.9M797.3,1052.4h3.9M803.2,1052.4h3.9M809,1052.4h7.8M822.7,1052.4h13.7M840.2,1052.4h7.8M855.8,1052.4h1.9M1031.3,1052.4h5.8M711.5,1054.3h1.9M715.4,1054.3h7.8M725.2,1054.3h5.8M733,1054.3h11.7M746.6,1054.3h13.7M762.2,1054.3h1.9M766.1,1054.3h3.9M772,1054.3h1.9M779.8,1054.3h1.9M785.6,1054.3h1.9M799.3,1054.3h1.9M805.1,1054.3h1.9M812.9,1054.3h5.8M824.6,1054.3h3.9M830.5,1054.3h1.9M834.4,1054.3h3.9M840.2,1054.3h9.8M861.7,1054.3h1.9M1033.3,1054.3h3.9M711.5,1056.3h1.9M715.4,1056.3h7.8M725.2,1056.3h1.9M731,1056.3h1.9M734.9,1056.3h29.2M770,1056.3h3.9M785.6,1056.3h1.9M793.4,1056.3h1.9M805.1,1056.3h1.9M812.9,1056.3h5.8M824.6,1056.3h3.9M830.5,1056.3h5.8M840.2,1056.3h11.7M1033.3,1056.3h3.9M703.7,1058.2h1.9M715.4,1058.2h7.8M729.1,1058.2h5.8M736.9,1058.2h5.8M744.7,1058.2h3.9M752.5,1058.2h9.8M764.2,1058.2h3.9M770,1058.2h1.9M777.8,1058.2h3.9M785.6,1058.2h1.9M805.1,1058.2h1.9M811,1058.2h1.9M814.9,1058.2h1.9M826.6,1058.2h5.8M836.3,1058.2h13.7M855.8,1058.2h1.9M1035.2,1058.2h1.9M709.6,1060.2h1.9M715.4,1060.2h5.8M725.2,1060.2h33.1M766.1,1060.2h9.8M777.8,1060.2h3.9M785.6,1060.2h1.9M791.5,1060.2h3.9M799.3,1060.2h3.9M805.1,1060.2h3.9M814.9,1060.2h5.8M822.7,1060.2h1.9M828.5,1060.2h17.6M851.9,1060.2h1.9M859.7,1060.2h3.9M713.5,1062.2h17.6M734.9,1062.2h1.9M738.8,1062.2h15.6M756.4,1062.2h1.9M760.3,1062.2h3.9M770,1062.2h5.8M777.8,1062.2h1.9M785.6,1062.2h1.9M791.5,1062.2h1.9M799.3,1062.2h1.9M805.1,1062.2h3.9M826.6,1062.2h3.9M832.4,1062.2h1.9M838.3,1062.2h7.8M850,1062.2h13.7M682.3,1064.1h1.9M695.9,1064.1h3.9M713.5,1064.1h1.9M719.3,1064.1h7.8M729.1,1064.1h29.2M760.3,1064.1h5.8M768.1,1064.1h5.8M781.7,1064.1h5.8M791.5,1064.1h3.9M799.3,1064.1h1.9M805.1,1064.1h3.9M816.8,1064.1h5.8M828.5,1064.1h3.9M834.4,1064.1h15.6M1084,1064.1h1.9M695.9,1066h3.9M715.4,1066h3.9M721.3,1066h3.9M727.1,1066h1.9M731,1066h7.8M740.8,1066h7.8M758.3,1066h11.7M777.8,1066h1.9M789.5,1066h5.8M818.8,1066h3.9M826.6,1066h1.9M834.4,1066h17.6M853.9,1066h1.9M974.8,1066h3.9M1087.9,1066h1.9M695.9,1068h1.9M715.4,1068h5.8M725.2,1068h5.8M733,1068h13.7M754.4,1068h11.7M770,1068h3.9M787.6,1068h1.9M791.5,1068h1.9M818.8,1068h1.9M822.7,1068h1.9M832.4,1068h11.7M846.1,1068h5.8M972.8,1068h3.9M695.9,1070h3.9M715.4,1070h7.8M725.2,1070h1.9M729.1,1070h3.9M734.9,1070h11.7M750.5,1070h3.9M758.3,1070h5.8M770,1070h1.9M787.6,1070h3.9M793.4,1070h1.9M799.3,1070h1.9M809,1070h1.9M818.8,1070h5.8M828.5,1070h1.9M834.4,1070h17.6M972.8,1070h1.9M976.7,1070h1.9M1027.4,1070h1.9M715.4,1071.9h1.9M721.3,1071.9h5.8M729.1,1071.9h13.7M744.7,1071.9h1.9M748.6,1071.9h3.9M756.4,1071.9h1.9M764.2,1071.9h3.9M775.9,1071.9h1.9M783.7,1071.9h1.9M791.5,1071.9h1.9M807.1,1071.9h3.9M812.9,1071.9h1.9M822.7,1071.9h3.9M832.4,1071.9h7.8M842.2,1071.9h7.8M851.9,1071.9h5.8M972.8,1071.9h3.9M688.1,1073.8h1.9M692,1073.8h1.9M715.4,1073.8h1.9M723.2,1073.8h17.6M742.7,1073.8h1.9M746.6,1073.8h5.8M764.2,1073.8h1.9M773.9,1073.8h3.9M791.5,1073.8h3.9M807.1,1073.8h1.9M811,1073.8h1.9M822.7,1073.8h3.9M830.5,1073.8h13.7M846.1,1073.8h13.7M863.6,1073.8h1.9M1027.4,1073.8h1.9M727.1,1075.8h13.7M742.7,1075.8h1.9M746.6,1075.8h9.8M758.3,1075.8h3.9M766.1,1075.8h1.9M773.9,1075.8h3.9M783.7,1075.8h1.9M807.1,1075.8h3.9M822.7,1075.8h1.9M828.5,1075.8h1.9M832.4,1075.8h1.9M836.3,1075.8h1.9M840.2,1075.8h9.8M851.9,1075.8h11.7M699.8,1077.8h1.9M705.7,1077.8h1.9M711.5,1077.8h1.9M715.4,1077.8h1.9M727.1,1077.8h13.7M742.7,1077.8h9.8M754.4,1077.8h5.8M762.2,1077.8h1.9M772,1077.8h5.8M783.7,1077.8h1.9M791.5,1077.8h1.9M807.1,1077.8h1.9M820.7,1077.8h1.9M834.4,1077.8h5.8M842.2,1077.8h1.9M846.1,1077.8h1.9M850,1077.8h1.9M855.8,1077.8h3.9M686.2,1079.7h1.9M699.8,1079.7h1.9M705.7,1079.7h1.9M715.4,1079.7h1.9M719.3,1079.7h1.9M725.2,1079.7h1.9M731,1079.7h3.9M736.9,1079.7h1.9M740.8,1079.7h11.7M756.4,1079.7h9.8M772,1079.7h3.9M781.7,1079.7h3.9M791.5,1079.7h3.9M818.8,1079.7h1.9M822.7,1079.7h3.9M838.3,1079.7h5.8M848,1079.7h5.8M857.8,1079.7h1.9M861.7,1079.7h1.9M703.7,1081.7h3.9M713.5,1081.7h1.9M729.1,1081.7h5.8M736.9,1081.7h15.6M758.3,1081.7h5.8M772,1081.7h5.8M783.7,1081.7h1.9M787.6,1081.7h1.9M791.5,1081.7h3.9M811,1081.7h1.9M836.3,1081.7h1.9M842.2,1081.7h1.9M846.1,1081.7h5.8M855.8,1081.7h3.9M861.7,1081.7h3.9M867.5,1081.7h1.9M707.6,1083.6h3.9M717.4,1083.6h1.9M723.2,1083.6h1.9M727.1,1083.6h3.9M733,1083.6h1.9M736.9,1083.6h9.8M750.5,1083.6h3.9M756.4,1083.6h7.8M766.1,1083.6h1.9M770,1083.6h3.9M781.7,1083.6h3.9M793.4,1083.6h1.9M811,1083.6h1.9M822.7,1083.6h1.9M826.6,1083.6h3.9M832.4,1083.6h1.9M836.3,1083.6h3.9M842.2,1083.6h17.6M861.7,1083.6h1.9M1025.5,1083.6h1.9M705.7,1085.5h3.9M715.4,1085.5h3.9M721.3,1085.5h1.9M725.2,1085.5h11.7M740.8,1085.5h7.8M750.5,1085.5h5.8M760.3,1085.5h3.9M768.1,1085.5h1.9M772,1085.5h3.9M783.7,1085.5h1.9M791.5,1085.5h1.9M822.7,1085.5h1.9M826.6,1085.5h5.8M834.4,1085.5h1.9M838.3,1085.5h1.9M842.2,1085.5h1.9M846.1,1085.5h1.9M853.9,1085.5h3.9M859.7,1085.5h1.9M707.6,1087.5h3.9M717.4,1087.5h1.9M723.2,1087.5h11.7M736.9,1087.5h1.9M744.7,1087.5h7.8M754.4,1087.5h3.9M760.3,1087.5h1.9M773.9,1087.5h1.9M781.7,1087.5h1.9M789.5,1087.5h5.8M826.6,1087.5h5.8M838.3,1087.5h5.8M848,1087.5h1.9M853.9,1087.5h3.9M859.7,1087.5h3.9M705.7,1089.5h1.9M717.4,1089.5h3.9M733,1089.5h1.9M742.7,1089.5h1.9M746.6,1089.5h9.8M758.3,1089.5h1.9M772,1089.5h1.9M781.7,1089.5h3.9M789.5,1089.5h5.8M812.9,1089.5h1.9M830.5,1089.5h3.9M840.2,1089.5h1.9M848,1089.5h3.9M857.8,1089.5h1.9M867.5,1089.5h1.9M715.4,1091.4h3.9M721.3,1091.4h3.9M729.1,1091.4h1.9M734.9,1091.4h1.9M746.6,1091.4h9.8M772,1091.4h3.9M781.7,1091.4h1.9M789.5,1091.4h1.9M799.3,1091.4h1.9M811,1091.4h1.9M832.4,1091.4h1.9M838.3,1091.4h1.9M842.2,1091.4h5.8M850,1091.4h1.9M857.8,1091.4h3.9M863.6,1091.4h5.8M871.4,1091.4h1.9M695.9,1093.3h1.9M705.7,1093.3h1.9M709.6,1093.3h3.9M717.4,1093.3h1.9M721.3,1093.3h3.9M729.1,1093.3h1.9M733,1093.3h3.9M738.8,1093.3h1.9M756.4,1093.3h1.9M772,1093.3h1.9M781.7,1093.3h1.9M789.5,1093.3h5.8M811,1093.3h1.9M830.5,1093.3h1.9M840.2,1093.3h1.9M844.1,1093.3h3.9M850,1093.3h1.9M857.8,1093.3h1.9M873.4,1093.3h1.9M711.5,1095.3h1.9M715.4,1095.3h9.8M727.1,1095.3h7.8M740.8,1095.3h1.9M748.6,1095.3h5.8M770,1095.3h3.9M779.8,1095.3h3.9M791.5,1095.3h3.9M836.3,1095.3h1.9M840.2,1095.3h1.9M844.1,1095.3h1.9M848,1095.3h1.9M851.9,1095.3h5.8M867.5,1095.3h1.9M871.4,1095.3h1.9M713.5,1097.2h9.8M725.2,1097.2h3.9M731,1097.2h3.9M740.8,1097.2h1.9M744.7,1097.2h5.8M756.4,1097.2h1.9M779.8,1097.2h3.9M793.4,1097.2h1.9M834.4,1097.2h1.9M838.3,1097.2h1.9M848,1097.2h3.9M855.8,1097.2h1.9M859.7,1097.2h3.9M865.6,1097.2h1.9M694,1099.2h1.9M701.8,1099.2h3.9M717.4,1099.2h7.8M731,1099.2h7.8M740.8,1099.2h3.9M748.6,1099.2h1.9M775.9,1099.2h1.9M779.8,1099.2h3.9M789.5,1099.2h1.9M832.4,1099.2h7.8M853.9,1099.2h1.9M861.7,1099.2h13.7M699.8,1101.2h1.9M707.6,1101.2h3.9M715.4,1101.2h5.8M731,1101.2h1.9M734.9,1101.2h5.8M772,1101.2h1.9M779.8,1101.2h3.9M811,1101.2h1.9M857.8,1101.2h1.9M865.6,1101.2h1.9M705.7,1103.1h1.9M709.6,1103.1h1.9M721.3,1103.1h1.9M725.2,1103.1h3.9M736.9,1103.1h3.9M742.7,1103.1h1.9M779.8,1103.1h3.9M812.9,1103.1h1.9M846.1,1103.1h1.9M861.7,1103.1h1.9M865.6,1103.1h3.9M871.4,1103.1h1.9M717.4,1105h1.9M725.2,1105h1.9M729.1,1105h1.9M736.9,1105h1.9M762.2,1105h1.9M770,1105h3.9M779.8,1105h3.9M812.9,1105h1.9M846.1,1105h5.8M859.7,1105h9.8M616,1107h1.9M619.9,1107h1.9M715.4,1107h1.9M719.3,1107h1.9M723.2,1107h1.9M729.1,1107h9.8M740.8,1107h1.9M744.7,1107h1.9M766.1,1107h1.9M846.1,1107h1.9M859.7,1107h1.9M867.5,1107h1.9M617.9,1109h3.9M711.5,1109h1.9M715.4,1109h3.9M721.3,1109h1.9M727.1,1109h11.7M744.7,1109h1.9M768.1,1109h1.9M781.7,1109h1.9M844.1,1109h1.9M853.9,1109h1.9M867.5,1109h1.9M875.3,1109h3.9M711.5,1110.9h5.8M725.2,1110.9h17.6M744.7,1110.9h1.9M762.2,1110.9h1.9M779.8,1110.9h1.9M855.8,1110.9h1.9M861.7,1110.9h1.9M873.4,1110.9h1.9M701.8,1112.8h1.9M707.6,1112.8h3.9M713.5,1112.8h1.9M721.3,1112.8h1.9M734.9,1112.8h7.8M859.7,1112.8h1.9M879.2,1112.8h1.9M699.8,1114.8h1.9M703.7,1114.8h5.8M713.5,1114.8h7.8M725.2,1114.8h1.9M734.9,1114.8h5.8M742.7,1114.8h1.9M764.2,1114.8h1.9M777.8,1114.8h3.9M853.9,1114.8h1.9M873.4,1114.8h11.7M699.8,1116.8h3.9M705.7,1116.8h1.9M711.5,1116.8h15.6M734.9,1116.8h1.9M740.8,1116.8h1.9M777.8,1116.8h3.9M873.4,1116.8h13.7M701.8,1118.7h7.8M711.5,1118.7h9.8M725.2,1118.7h3.9M733,1118.7h7.8M777.8,1118.7h1.9M791.5,1118.7h1.9M873.4,1118.7h1.9M703.7,1120.7h1.9M711.5,1120.7h1.9M715.4,1120.7h1.9M719.3,1120.7h1.9M723.2,1120.7h5.8M736.9,1120.7h7.8M779.8,1120.7h1.9M877.3,1120.7h1.9M699.8,1122.6h1.9M711.5,1122.6h3.9M719.3,1122.6h3.9M734.9,1122.6h1.9M873.4,1122.6h3.9M723.2,1124.5h5.8M734.9,1124.5h1.9M871.4,1124.5h3.9M879.2,1124.5h5.8M705.7,1126.5h7.8M725.2,1126.5h1.9M775.9,1126.5h1.9M871.4,1126.5h3.9M881.2,1126.5h5.8M699.8,1128.5h1.9M709.6,1128.5h1.9M723.2,1128.5h1.9M727.1,1128.5h1.9M871.4,1128.5h1.9M885.1,1128.5h1.9M695.9,1130.4h1.9M723.2,1130.4h7.8M733,1130.4h1.9M736.9,1130.4h1.9M777.8,1130.4h1.9M885.1,1130.4h1.9M711.5,1132.3h1.9M723.2,1132.3h5.8M733,1132.3h5.8M889,1132.3h1.9M682.3,1134.3h1.9M697.9,1134.3h1.9M713.5,1134.3h1.9M727.1,1134.3h3.9M885.1,1134.3h1.9M713.5,1136.2h3.9M719.3,1136.2h3.9M734.9,1136.2h1.9M701.8,1138.2h1.9M707.6,1138.2h1.9M711.5,1138.2h5.8M723.2,1138.2h1.9M892.9,1138.2h1.9M701.8,1140.2h1.9M707.6,1140.2h1.9M711.5,1140.2h5.8M719.3,1140.2h1.9M723.2,1140.2h7.8M674.5,1142.1h3.9M699.8,1142.1h3.9M709.6,1142.1h9.8M721.3,1142.1h3.9M697.9,1144h3.9M703.7,1144h1.9M713.5,1144h3.9M719.3,1144h1.9M723.2,1144h1.9M676.4,1146h1.9M703.7,1146h1.9M709.6,1146h5.8M719.3,1146h1.9M775.9,1146h1.9M1043,1146h3.9M705.7,1148h3.9M717.4,1148h3.9M713.5,1149.9h1.9M711.5,1151.8h1.9M721.3,1151.8h1.9M894.8,1151.8h1.9M898.7,1151.8h3.9M701.8,1153.8h15.6M896.8,1153.8h1.9M703.7,1155.8h3.9M709.6,1155.8h3.9M701.8,1157.7h5.8M715.4,1157.7h1.9M896.8,1157.7h1.9M699.8,1159.7h7.8M711.5,1159.7h1.9M885.1,1159.7h1.9M699.8,1161.6h5.8M711.5,1161.6h1.9M957.2,1161.6h1.9M701.8,1163.5h3.9M707.6,1163.5h1.9M885.1,1163.5h1.9M890.9,1163.5h1.9M957.2,1163.5h1.9M699.8,1165.5h3.9M707.6,1165.5h1.9M902.6,1165.5h3.9M703.7,1167.5h3.9M709.6,1167.5h1.9M707.6,1169.4h1.9M883.1,1169.4h3.9M889,1171.3h1.9M892.9,1171.3h1.9M898.7,1171.3h1.9M885.1,1173.3h1.9M686.2,1177.2h1.9M690.1,1177.2h1.9M887,1177.2h1.9M890.9,1177.2h1.9M875.3,1183h1.9M879.2,1183h1.9M914.3,1183h1.9M879.2,1185h1.9M910.4,1185h1.9M875.3,1187h1.9M879.2,1187h1.9M916.3,1187h1.9M674.5,1188.9h1.9M885.1,1190.8h1.9M916.3,1190.8h1.9M910.4,1194.8h1.9M928,1194.8h1.9M928,1196.7h3.9M928,1198.7h5.8M908.5,1200.6h7.8M908.5,1202.5h5.8M908.5,1204.5h3.9M1023.5,1214.2h1.9M1017.7,1216.2h1.9M1054.7,1233.8h1.9M953.3,1235.7h1.9M953.3,1237.7h3.9M953.3,1239.6h3.9M937.7,1241.5h1.9M937.7,1243.5h1.9M920.2,1245.5h1.9M937.7,1245.5h3.9M916.3,1247.4h1.9M918.2,1249.3h3.9M764.2,1255.2h1.9M764.2,1257.2h1.9M953.3,1257.2h1.9M951.4,1259.1h3.9M766.1,1265h3.9M762.2,1266.9h7.8M762.2,1268.8h3.9M729.1,1282.5h3.9M734.9,1282.5h1.9M729.1,1284.5h3.9M734.9,1284.5h1.9M731,1286.4h5.8M738.8,1286.4h3.9M744.7,1286.4h1.9M729.1,1288.3h1.9M733,1288.3h3.9M738.8,1288.3h5.8M729.1,1290.3h1.9M736.9,1290.3h1.9M744.7,1290.3h1.9M736.9,1292.2h9.8M729.1,1294.2h1.9M736.9,1296.2h1.9M697.9,1317.6h1.9" stroke="#3c6499" stroke-width="2.3" fill="none"/>
<path d="M809,734.5h5.8M807.1,738.5h5.8M766.1,740.4h5.8M807.1,740.4h1.9M811,740.4h7.8M811,742.4h11.7M766.1,744.3h3.9M797.3,744.3h3.9M805.1,744.3h5.8M814.9,744.3h3.9M820.7,744.3h1.9M805.1,746.2h9.8M816.8,746.2h1.9M799.3,748.2h1.9M803.2,748.2h13.7M799.3,750.1h7.8M809,750.1h3.9M695.9,763.8h3.9M805.1,779.4h5.8M805.1,781.4h5.8M824.6,793h1.9M826.6,797h1.9M811,806.7h1.9M816.8,810.6h1.9M795.4,814.5h1.9M809,814.5h3.9M818.8,814.5h1.9M797.3,816.5h1.9M801.2,816.5h3.9M809,816.5h3.9M814.9,816.5h1.9M818.8,816.5h1.9M811,818.4h1.9M814.9,818.4h1.9M818.8,818.4h1.9M805.1,820.4h9.8M816.8,820.4h3.9M803.2,822.3h1.9M807.1,822.3h5.8M807.1,824.2h1.9M812.9,824.2h3.9M818.8,824.2h1.9M842.2,824.2h1.9M770,826.2h1.9M801.2,826.2h1.9M807.1,826.2h1.9M811,826.2h1.9M814.9,826.2h1.9M811,828.1h7.8M900.7,828.1h7.8M799.3,830.1h1.9M900.7,830.1h7.8M918.2,830.1h1.9M797.3,832h3.9M900.7,832h5.8M914.3,832h3.9M797.3,834h1.9M904.6,834h5.8M912.4,834h9.8M910.4,836h1.9M914.3,836h3.9M920.2,836h1.9M853.9,837.9h5.8M912.4,837.9h3.9M918.2,837.9h1.9M853.9,839.9h3.9M906.5,839.9h1.9M914.3,839.9h1.9M918.2,839.9h1.9M914.3,841.8h3.9M920.2,841.8h1.9M900.7,843.8h1.9M912.4,843.8h3.9M918.2,843.8h3.9M902.6,845.7h1.9M914.3,845.7h5.8M799.3,847.6h1.9M908.5,847.6h1.9M914.3,847.6h1.9M920.2,847.6h1.9M799.3,851.5h1.9M914.3,851.5h1.9M939.7,851.5h1.9M910.4,853.5h5.8M939.7,853.5h1.9M1043,865.2h3.9M1041.1,867.1h3.9M787.6,882.8h1.9M824.6,886.6h1.9M770,888.6h1.9M826.6,888.6h1.9M762.2,890.5h1.9M770,890.5h5.8M777.8,890.5h1.9M826.6,890.5h1.9M762.2,892.5h1.9M775.9,892.5h1.9M807.1,892.5h5.8M814.9,892.5h1.9M818.8,892.5h1.9M822.7,892.5h5.8M764.2,894.5h1.9M768.1,894.5h1.9M772,894.5h5.8M779.8,894.5h1.9M785.6,894.5h1.9M812.9,894.5h3.9M822.7,894.5h1.9M781.7,896.4h1.9M1052.8,896.4h1.9M764.2,898.4h1.9M781.7,898.4h1.9M822.7,898.4h3.9M766.1,900.3h1.9M772,900.3h1.9M785.6,900.3h1.9M801.2,900.3h1.9M805.1,900.3h3.9M803.2,902.2h1.9M816.8,902.2h1.9M820.7,902.2h1.9M844.1,902.2h1.9M775.9,904.2h1.9M805.1,904.2h1.9M809,904.2h1.9M820.7,904.2h1.9M752.5,906.1h1.9M807.1,906.1h3.9M816.8,906.1h1.9M820.7,906.1h1.9M836.3,906.1h1.9M766.1,908.1h1.9M770,908.1h3.9M797.3,908.1h1.9M812.9,908.1h1.9M838.3,908.1h1.9M764.2,910h1.9M772,910h3.9M793.4,910h1.9M811,910h1.9M814.9,910h1.9M760.3,912h1.9M764.2,912h1.9M768.1,912h3.9M773.9,912h1.9M814.9,912h1.9M838.3,912h1.9M863.6,912h1.9M754.4,914h1.9M772,914h1.9M783.7,914h1.9M807.1,914h1.9M818.8,914h1.9M822.7,914h1.9M838.3,914h1.9M748.6,915.9h1.9M754.4,915.9h3.9M762.2,915.9h1.9M772,915.9h3.9M781.7,915.9h5.8M789.5,915.9h3.9M805.1,915.9h1.9M809,915.9h1.9M818.8,915.9h1.9M822.7,915.9h3.9M830.5,915.9h1.9M834.4,915.9h1.9M838.3,915.9h1.9M762.2,917.9h1.9M773.9,917.9h1.9M781.7,917.9h1.9M787.6,917.9h5.8M805.1,917.9h1.9M822.7,917.9h1.9M836.3,917.9h3.9M752.5,919.8h1.9M756.4,919.8h1.9M762.2,919.8h1.9M801.2,919.8h3.9M850,919.8h1.9M746.6,921.8h1.9M752.5,921.8h5.8M760.3,921.8h1.9M770,921.8h5.8M777.8,921.8h3.9M799.3,921.8h5.8M850,921.8h1.9M752.5,923.7h5.8M762.2,923.7h1.9M770,923.7h1.9M777.8,923.7h1.9M801.2,923.7h3.9M760.3,925.6h1.9M764.2,925.6h1.9M781.7,925.6h3.9M809,925.6h1.9M830.5,925.6h3.9M840.2,925.6h1.9M851.9,925.6h3.9M877.3,925.6h1.9M742.7,927.6h1.9M756.4,927.6h1.9M785.6,927.6h1.9M805.1,927.6h5.8M828.5,927.6h1.9M844.1,927.6h1.9M853.9,927.6h1.9M744.7,929.5h1.9M764.2,929.5h1.9M807.1,929.5h3.9M820.7,929.5h1.9M828.5,929.5h5.8M844.1,929.5h1.9M855.8,929.5h1.9M740.8,931.5h1.9M744.7,931.5h11.7M758.3,931.5h1.9M773.9,931.5h1.9M781.7,931.5h1.9M785.6,931.5h7.8M797.3,931.5h1.9M805.1,931.5h1.9M809,931.5h1.9M822.7,931.5h1.9M828.5,931.5h3.9M834.4,931.5h1.9M844.1,931.5h3.9M863.6,931.5h3.9M754.4,933.5h1.9M760.3,933.5h1.9M773.9,933.5h1.9M777.8,933.5h5.8M785.6,933.5h13.7M805.1,933.5h5.8M830.5,933.5h3.9M863.6,933.5h3.9M877.3,933.5h3.9M748.6,935.4h1.9M772,935.4h1.9M775.9,935.4h3.9M781.7,935.4h3.9M787.6,935.4h9.8M805.1,935.4h5.8M816.8,935.4h1.9M826.6,935.4h1.9M832.4,935.4h1.9M842.2,935.4h1.9M865.6,935.4h1.9M875.3,935.4h1.9M758.3,937.4h3.9M766.1,937.4h11.7M787.6,937.4h9.8M816.8,937.4h1.9M828.5,937.4h5.8M846.1,937.4h1.9M853.9,937.4h1.9M863.6,937.4h5.8M873.4,937.4h1.9M760.3,939.3h5.8M770,939.3h5.8M777.8,939.3h1.9M789.5,939.3h5.8M801.2,939.3h1.9M805.1,939.3h5.8M818.8,939.3h1.9M822.7,939.3h1.9M830.5,939.3h1.9M836.3,939.3h1.9M842.2,939.3h3.9M848,939.3h3.9M869.5,939.3h1.9M881.2,939.3h1.9M889,939.3h1.9M760.3,941.2h3.9M770,941.2h5.8M787.6,941.2h5.8M795.4,941.2h1.9M803.2,941.2h1.9M807.1,941.2h1.9M818.8,941.2h1.9M822.7,941.2h1.9M826.6,941.2h3.9M832.4,941.2h7.8M844.1,941.2h3.9M865.6,941.2h5.8M887,941.2h1.9M740.8,943.2h1.9M752.5,943.2h5.8M772,943.2h5.8M781.7,943.2h33.1M822.7,943.2h3.9M828.5,943.2h1.9M838.3,943.2h1.9M857.8,943.2h3.9M863.6,943.2h1.9M867.5,943.2h3.9M875.3,943.2h3.9M752.5,945.1h5.8M770,945.1h1.9M775.9,945.1h13.7M791.5,945.1h21.4M822.7,945.1h5.8M857.8,945.1h3.9M863.6,945.1h1.9M867.5,945.1h5.8M875.3,945.1h5.8M740.8,947.1h1.9M744.7,947.1h1.9M752.5,947.1h5.8M762.2,947.1h1.9M770,947.1h1.9M775.9,947.1h1.9M781.7,947.1h15.6M799.3,947.1h5.8M809,947.1h3.9M816.8,947.1h1.9M822.7,947.1h5.8M830.5,947.1h1.9M836.3,947.1h3.9M857.8,947.1h1.9M865.6,947.1h7.8M875.3,947.1h3.9M1066.4,947.1h3.9M725.2,949h1.9M740.8,949h1.9M746.6,949h1.9M750.5,949h1.9M754.4,949h1.9M758.3,949h1.9M762.2,949h1.9M768.1,949h13.7M783.7,949h1.9M805.1,949h13.7M820.7,949h9.8M832.4,949h3.9M838.3,949h1.9M1066.4,949h1.9M1070.3,949h1.9M742.7,951h9.8M756.4,951h1.9M766.1,951h1.9M770,951h7.8M779.8,951h3.9M785.6,951h1.9M791.5,951h1.9M795.4,951h3.9M805.1,951h11.7M818.8,951h1.9M822.7,951h1.9M834.4,951h5.8M846.1,951h1.9M879.2,951h1.9M1068.4,951h3.9M711.5,953h1.9M715.4,953h1.9M746.6,953h5.8M754.4,953h1.9M768.1,953h1.9M772,953h1.9M775.9,953h1.9M781.7,953h3.9M787.6,953h1.9M805.1,953h11.7M824.6,953h1.9M834.4,953h3.9M840.2,953h1.9M857.8,953h1.9M877.3,953h1.9M746.6,954.9h9.8M762.2,954.9h1.9M772,954.9h3.9M779.8,954.9h13.7M801.2,954.9h1.9M805.1,954.9h7.8M816.8,954.9h7.8M826.6,954.9h1.9M834.4,954.9h11.7M848,954.9h3.9M867.5,954.9h1.9M892.9,954.9h3.9M1041.1,954.9h1.9M713.5,956.9h1.9M734.9,956.9h1.9M746.6,956.9h5.8M754.4,956.9h3.9M762.2,956.9h1.9M770,956.9h1.9M773.9,956.9h1.9M781.7,956.9h15.6M799.3,956.9h3.9M807.1,956.9h1.9M811,956.9h1.9M816.8,956.9h1.9M832.4,956.9h13.7M850,956.9h1.9M867.5,956.9h1.9M736.9,958.8h3.9M744.7,958.8h1.9M750.5,958.8h1.9M756.4,958.8h1.9M760.3,958.8h1.9M772,958.8h3.9M781.7,958.8h3.9M789.5,958.8h1.9M793.4,958.8h15.6M818.8,958.8h1.9M830.5,958.8h1.9M834.4,958.8h5.8M844.1,958.8h1.9M850,958.8h1.9M865.6,958.8h1.9M694,960.8h1.9M711.5,960.8h1.9M733,960.8h1.9M748.6,960.8h3.9M754.4,960.8h1.9M770,960.8h1.9M775.9,960.8h3.9M781.7,960.8h11.7M799.3,960.8h3.9M812.9,960.8h9.8M824.6,960.8h3.9M840.2,960.8h5.8M859.7,960.8h1.9M705.7,962.7h1.9M717.4,962.7h1.9M721.3,962.7h1.9M731,962.7h1.9M742.7,962.7h9.8M762.2,962.7h1.9M768.1,962.7h5.8M775.9,962.7h1.9M781.7,962.7h3.9M787.6,962.7h1.9M791.5,962.7h1.9M795.4,962.7h9.8M811,962.7h3.9M816.8,962.7h3.9M822.7,962.7h7.8M838.3,962.7h7.8M850,962.7h1.9M853.9,962.7h1.9M857.8,962.7h5.8M885.1,962.7h1.9M711.5,964.6h11.7M727.1,964.6h1.9M733,964.6h1.9M746.6,964.6h5.8M754.4,964.6h1.9M760.3,964.6h1.9M773.9,964.6h7.8M783.7,964.6h1.9M787.6,964.6h1.9M793.4,964.6h1.9M799.3,964.6h3.9M811,964.6h3.9M820.7,964.6h1.9M828.5,964.6h1.9M840.2,964.6h7.8M859.7,964.6h3.9M883.1,964.6h1.9M711.5,966.6h1.9M715.4,966.6h5.8M734.9,966.6h5.8M746.6,966.6h5.8M770,966.6h1.9M777.8,966.6h1.9M785.6,966.6h3.9M791.5,966.6h1.9M801.2,966.6h3.9M807.1,966.6h3.9M816.8,966.6h3.9M834.4,966.6h5.8M857.8,966.6h1.9M861.7,966.6h1.9M877.3,966.6h1.9M914.3,966.6h1.9M711.5,968.5h1.9M715.4,968.5h1.9M738.8,968.5h1.9M742.7,968.5h1.9M748.6,968.5h3.9M758.3,968.5h1.9M773.9,968.5h1.9M779.8,968.5h1.9M785.6,968.5h5.8M793.4,968.5h1.9M799.3,968.5h1.9M805.1,968.5h1.9M809,968.5h1.9M816.8,968.5h1.9M820.7,968.5h1.9M826.6,968.5h1.9M836.3,968.5h1.9M857.8,968.5h3.9M875.3,968.5h1.9M894.8,968.5h1.9M902.6,968.5h1.9M711.5,970.5h1.9M715.4,970.5h5.8M736.9,970.5h3.9M744.7,970.5h5.8M770,970.5h1.9M773.9,970.5h1.9M779.8,970.5h1.9M783.7,970.5h1.9M809,970.5h1.9M816.8,970.5h3.9M859.7,970.5h3.9M890.9,970.5h1.9M894.8,970.5h3.9M910.4,970.5h3.9M707.6,972.5h1.9M740.8,972.5h5.8M748.6,972.5h7.8M764.2,972.5h5.8M775.9,972.5h1.9M779.8,972.5h1.9M793.4,972.5h1.9M803.2,972.5h1.9M812.9,972.5h9.8M834.4,972.5h1.9M846.1,972.5h1.9M859.7,972.5h1.9M863.6,972.5h5.8M877.3,972.5h3.9M890.9,972.5h1.9M898.7,972.5h1.9M904.6,972.5h1.9M920.2,972.5h1.9M709.6,974.4h1.9M740.8,974.4h5.8M748.6,974.4h3.9M758.3,974.4h3.9M764.2,974.4h7.8M775.9,974.4h3.9M797.3,974.4h1.9M814.9,974.4h3.9M820.7,974.4h1.9M838.3,974.4h1.9M842.2,974.4h1.9M848,974.4h1.9M865.6,974.4h3.9M875.3,974.4h1.9M879.2,974.4h1.9M889,974.4h7.8M900.7,974.4h1.9M904.6,974.4h5.8M709.6,976.4h1.9M740.8,976.4h1.9M744.7,976.4h7.8M754.4,976.4h3.9M764.2,976.4h5.8M777.8,976.4h1.9M791.5,976.4h1.9M797.3,976.4h1.9M816.8,976.4h9.8M834.4,976.4h1.9M848,976.4h1.9M863.6,976.4h1.9M867.5,976.4h1.9M875.3,976.4h1.9M887,976.4h1.9M890.9,976.4h9.8M906.5,976.4h3.9M920.2,976.4h3.9M725.2,978.3h1.9M734.9,978.3h5.8M742.7,978.3h1.9M754.4,978.3h1.9M758.3,978.3h5.8M766.1,978.3h3.9M772,978.3h1.9M781.7,978.3h5.8M816.8,978.3h11.7M830.5,978.3h1.9M834.4,978.3h5.8M850,978.3h3.9M855.8,978.3h1.9M869.5,978.3h5.8M887,978.3h11.7M738.8,980.2h3.9M752.5,980.2h1.9M758.3,980.2h1.9M766.1,980.2h5.8M812.9,980.2h3.9M830.5,980.2h5.8M838.3,980.2h1.9M846.1,980.2h1.9M850,980.2h1.9M863.6,980.2h1.9M873.4,980.2h1.9M887,980.2h5.8M896.8,980.2h1.9M734.9,982.2h5.8M746.6,982.2h1.9M752.5,982.2h1.9M758.3,982.2h7.8M783.7,982.2h1.9M818.8,982.2h9.8M834.4,982.2h3.9M846.1,982.2h1.9M867.5,982.2h1.9M889,982.2h1.9M898.7,982.2h1.9M694,984.1h1.9M703.7,984.1h1.9M711.5,984.1h1.9M725.2,984.1h5.8M740.8,984.1h5.8M758.3,984.1h5.8M766.1,984.1h1.9M777.8,984.1h3.9M799.3,984.1h1.9M803.2,984.1h3.9M818.8,984.1h3.9M830.5,984.1h9.8M842.2,984.1h3.9M857.8,984.1h5.8M883.1,984.1h1.9M725.2,986.1h1.9M729.1,986.1h1.9M733,986.1h1.9M740.8,986.1h5.8M756.4,986.1h3.9M762.2,986.1h3.9M775.9,986.1h1.9M799.3,986.1h1.9M803.2,986.1h5.8M820.7,986.1h1.9M828.5,986.1h23.4M857.8,986.1h5.8M875.3,986.1h1.9M910.4,986.1h1.9M699.8,988h3.9M711.5,988h1.9M723.2,988h7.8M733,988h1.9M740.8,988h1.9M744.7,988h1.9M758.3,988h1.9M772,988h1.9M779.8,988h1.9M799.3,988h1.9M803.2,988h1.9M807.1,988h1.9M820.7,988h1.9M832.4,988h5.8M840.2,988h3.9M848,988h3.9M883.1,988h1.9M910.4,988h1.9M699.8,990h1.9M727.1,990h1.9M734.9,990h1.9M738.8,990h1.9M746.6,990h5.8M758.3,990h1.9M762.2,990h5.8M773.9,990h3.9M787.6,990h1.9M791.5,990h5.8M812.9,990h1.9M820.7,990h1.9M834.4,990h11.7M848,990h1.9M859.7,990h3.9M918.2,990h3.9M701.8,992h1.9M713.5,992h3.9M719.3,992h5.8M727.1,992h1.9M734.9,992h1.9M738.8,992h1.9M746.6,992h1.9M750.5,992h1.9M762.2,992h5.8M770,992h1.9M789.5,992h1.9M793.4,992h3.9M812.9,992h3.9M820.7,992h1.9M826.6,992h3.9M834.4,992h13.7M857.8,992h5.8M869.5,992h1.9M900.7,992h3.9M918.2,992h1.9M695.9,993.9h1.9M699.8,993.9h1.9M713.5,993.9h1.9M719.3,993.9h1.9M725.2,993.9h1.9M734.9,993.9h3.9M742.7,993.9h1.9M746.6,993.9h5.8M758.3,993.9h9.8M770,993.9h1.9M777.8,993.9h3.9M787.6,993.9h1.9M797.3,993.9h1.9M811,993.9h1.9M820.7,993.9h7.8M834.4,993.9h15.6M871.4,993.9h1.9M898.7,993.9h1.9M701.8,995.9h3.9M729.1,995.9h1.9M738.8,995.9h3.9M744.7,995.9h1.9M752.5,995.9h1.9M758.3,995.9h3.9M781.7,995.9h1.9M818.8,995.9h3.9M830.5,995.9h3.9M838.3,995.9h7.8M848,995.9h3.9M857.8,995.9h1.9M881.2,995.9h1.9M887,995.9h5.8M898.7,995.9h3.9M922.1,995.9h1.9M713.5,997.8h1.9M731,997.8h1.9M742.7,997.8h3.9M750.5,997.8h1.9M758.3,997.8h1.9M762.2,997.8h1.9M766.1,997.8h3.9M811,997.8h1.9M818.8,997.8h3.9M828.5,997.8h3.9M836.3,997.8h1.9M840.2,997.8h3.9M846.1,997.8h5.8M859.7,997.8h3.9M869.5,997.8h1.9M887,997.8h3.9M898.7,997.8h1.9M904.6,997.8h5.8M705.7,999.8h1.9M709.6,999.8h1.9M727.1,999.8h5.8M738.8,999.8h3.9M744.7,999.8h1.9M752.5,999.8h1.9M758.3,999.8h5.8M781.7,999.8h1.9M814.9,999.8h1.9M820.7,999.8h1.9M830.5,999.8h1.9M838.3,999.8h1.9M844.1,999.8h3.9M857.8,999.8h1.9M883.1,999.8h1.9M887,999.8h5.8M898.7,999.8h1.9M906.5,999.8h3.9M920.2,999.8h1.9M723.2,1001.7h1.9M734.9,1001.7h5.8M746.6,1001.7h3.9M752.5,1001.7h7.8M764.2,1001.7h5.8M773.9,1001.7h1.9M795.4,1001.7h1.9M799.3,1001.7h1.9M811,1001.7h5.8M828.5,1001.7h1.9M832.4,1001.7h1.9M840.2,1001.7h5.8M857.8,1001.7h1.9M865.6,1001.7h1.9M873.4,1001.7h1.9M883.1,1001.7h1.9M898.7,1001.7h1.9M902.6,1001.7h1.9M916.3,1001.7h1.9M725.2,1003.6h3.9M736.9,1003.6h1.9M740.8,1003.6h1.9M748.6,1003.6h13.7M764.2,1003.6h3.9M772,1003.6h3.9M793.4,1003.6h3.9M811,1003.6h1.9M814.9,1003.6h1.9M822.7,1003.6h3.9M836.3,1003.6h1.9M840.2,1003.6h5.8M851.9,1003.6h1.9M855.8,1003.6h1.9M863.6,1003.6h1.9M881.2,1003.6h5.8M906.5,1003.6h1.9M918.2,1003.6h3.9M734.9,1005.6h7.8M748.6,1005.6h1.9M754.4,1005.6h9.8M768.1,1005.6h1.9M793.4,1005.6h1.9M811,1005.6h1.9M814.9,1005.6h1.9M820.7,1005.6h1.9M840.2,1005.6h5.8M853.9,1005.6h3.9M859.7,1005.6h7.8M883.1,1005.6h1.9M898.7,1005.6h3.9M904.6,1005.6h1.9M916.3,1005.6h3.9M939.7,1005.6h1.9M715.4,1007.5h1.9M736.9,1007.5h1.9M740.8,1007.5h5.8M752.5,1007.5h13.7M773.9,1007.5h5.8M781.7,1007.5h1.9M807.1,1007.5h3.9M812.9,1007.5h3.9M828.5,1007.5h1.9M832.4,1007.5h9.8M844.1,1007.5h5.8M857.8,1007.5h1.9M877.3,1007.5h3.9M918.2,1007.5h3.9M937.7,1007.5h1.9M711.5,1009.5h1.9M715.4,1009.5h1.9M736.9,1009.5h1.9M740.8,1009.5h1.9M746.6,1009.5h1.9M752.5,1009.5h11.7M766.1,1009.5h1.9M770,1009.5h1.9M777.8,1009.5h1.9M785.6,1009.5h1.9M791.5,1009.5h1.9M807.1,1009.5h1.9M811,1009.5h5.8M828.5,1009.5h11.7M846.1,1009.5h1.9M850,1009.5h1.9M855.8,1009.5h1.9M859.7,1009.5h1.9M875.3,1009.5h1.9M879.2,1009.5h1.9M883.1,1009.5h3.9M889,1009.5h1.9M894.8,1009.5h1.9M898.7,1009.5h3.9M910.4,1009.5h1.9M939.7,1009.5h1.9M738.8,1011.5h3.9M744.7,1011.5h3.9M754.4,1011.5h1.9M758.3,1011.5h5.8M770,1011.5h3.9M775.9,1011.5h3.9M787.6,1011.5h5.8M807.1,1011.5h1.9M811,1011.5h1.9M814.9,1011.5h1.9M824.6,1011.5h1.9M828.5,1011.5h1.9M832.4,1011.5h17.6M857.8,1011.5h5.8M871.4,1011.5h1.9M883.1,1011.5h1.9M896.8,1011.5h5.8M914.3,1011.5h3.9M935.8,1011.5h1.9M705.7,1013.4h1.9M709.6,1013.4h1.9M713.5,1013.4h1.9M731,1013.4h1.9M754.4,1013.4h3.9M768.1,1013.4h1.9M772,1013.4h1.9M787.6,1013.4h1.9M791.5,1013.4h1.9M809,1013.4h1.9M814.9,1013.4h1.9M818.8,1013.4h3.9M830.5,1013.4h1.9M834.4,1013.4h3.9M840.2,1013.4h9.8M863.6,1013.4h1.9M883.1,1013.4h1.9M889,1013.4h3.9M920.2,1013.4h1.9M926,1013.4h1.9M707.6,1015.4h1.9M713.5,1015.4h1.9M734.9,1015.4h1.9M746.6,1015.4h1.9M752.5,1015.4h3.9M758.3,1015.4h1.9M766.1,1015.4h1.9M770,1015.4h1.9M779.8,1015.4h7.8M789.5,1015.4h1.9M801.2,1015.4h1.9M805.1,1015.4h17.6M828.5,1015.4h1.9M840.2,1015.4h11.7M863.6,1015.4h1.9M881.2,1015.4h1.9M887,1015.4h5.8M910.4,1015.4h1.9M916.3,1015.4h1.9M924.1,1015.4h1.9M731,1017.3h1.9M738.8,1017.3h1.9M748.6,1017.3h13.7M764.2,1017.3h1.9M768.1,1017.3h5.8M783.7,1017.3h1.9M789.5,1017.3h1.9M793.4,1017.3h5.8M803.2,1017.3h5.8M811,1017.3h1.9M814.9,1017.3h5.8M840.2,1017.3h3.9M846.1,1017.3h1.9M850,1017.3h1.9M887,1017.3h1.9M898.7,1017.3h1.9M916.3,1017.3h3.9M926,1017.3h1.9M719.3,1019.2h3.9M734.9,1019.2h1.9M742.7,1019.2h1.9M746.6,1019.2h5.8M756.4,1019.2h3.9M762.2,1019.2h5.8M770,1019.2h3.9M775.9,1019.2h3.9M787.6,1019.2h5.8M795.4,1019.2h1.9M803.2,1019.2h1.9M809,1019.2h5.8M818.8,1019.2h3.9M830.5,1019.2h1.9M836.3,1019.2h1.9M842.2,1019.2h1.9M859.7,1019.2h3.9M867.5,1019.2h1.9M877.3,1019.2h1.9M885.1,1019.2h1.9M892.9,1019.2h5.8M705.7,1021.2h1.9M715.4,1021.2h1.9M734.9,1021.2h3.9M740.8,1021.2h3.9M748.6,1021.2h3.9M756.4,1021.2h25.3M783.7,1021.2h1.9M789.5,1021.2h1.9M797.3,1021.2h3.9M803.2,1021.2h1.9M807.1,1021.2h1.9M811,1021.2h3.9M818.8,1021.2h1.9M828.5,1021.2h5.8M836.3,1021.2h5.8M844.1,1021.2h1.9M857.8,1021.2h3.9M863.6,1021.2h7.8M875.3,1021.2h3.9M881.2,1021.2h1.9M885.1,1021.2h3.9M892.9,1021.2h1.9M898.7,1021.2h1.9M707.6,1023.1h1.9M713.5,1023.1h1.9M717.4,1023.1h1.9M727.1,1023.1h1.9M734.9,1023.1h1.9M738.8,1023.1h1.9M746.6,1023.1h5.8M756.4,1023.1h3.9M762.2,1023.1h13.7M777.8,1023.1h5.8M785.6,1023.1h3.9M795.4,1023.1h1.9M803.2,1023.1h1.9M811,1023.1h1.9M816.8,1023.1h5.8M830.5,1023.1h1.9M834.4,1023.1h1.9M857.8,1023.1h1.9M861.7,1023.1h5.8M877.3,1023.1h1.9M881.2,1023.1h1.9M885.1,1023.1h1.9M889,1023.1h1.9M892.9,1023.1h1.9M926,1023.1h1.9M929.9,1023.1h1.9M701.8,1025.1h1.9M721.3,1025.1h1.9M740.8,1025.1h1.9M746.6,1025.1h9.8M766.1,1025.1h3.9M775.9,1025.1h3.9M785.6,1025.1h1.9M793.4,1025.1h5.8M803.2,1025.1h1.9M809,1025.1h1.9M816.8,1025.1h7.8M828.5,1025.1h3.9M834.4,1025.1h5.8M842.2,1025.1h1.9M863.6,1025.1h3.9M875.3,1025.1h1.9M879.2,1025.1h3.9M885.1,1025.1h1.9M900.7,1025.1h1.9M916.3,1025.1h1.9M1009.9,1025.1h3.9M694,1027h1.9M697.9,1027h1.9M721.3,1027h1.9M740.8,1027h1.9M746.6,1027h7.8M756.4,1027h13.7M777.8,1027h3.9M783.7,1027h1.9M787.6,1027h1.9M793.4,1027h1.9M799.3,1027h1.9M807.1,1027h1.9M816.8,1027h17.6M836.3,1027h1.9M840.2,1027h3.9M851.9,1027h5.8M867.5,1027h1.9M879.2,1027h3.9M885.1,1027h1.9M906.5,1027h1.9M926,1027h1.9M1015.7,1027h1.9M695.9,1029h1.9M713.5,1029h5.8M721.3,1029h1.9M744.7,1029h5.8M756.4,1029h3.9M762.2,1029h7.8M775.9,1029h1.9M789.5,1029h1.9M793.4,1029h9.8M809,1029h3.9M818.8,1029h3.9M826.6,1029h9.8M840.2,1029h3.9M853.9,1029h3.9M877.3,1029h3.9M883.1,1029h3.9M922.1,1029h1.9M1011.8,1029h1.9M1015.7,1029h7.8M694,1031h1.9M719.3,1031h7.8M740.8,1031h1.9M750.5,1031h9.8M762.2,1031h7.8M772,1031h1.9M775.9,1031h5.8M787.6,1031h1.9M795.4,1031h7.8M805.1,1031h1.9M811,1031h5.8M818.8,1031h5.8M830.5,1031h1.9M834.4,1031h3.9M861.7,1031h1.9M865.6,1031h7.8M885.1,1031h3.9M896.8,1031h1.9M1009.9,1031h1.9M1013.8,1031h7.8M695.9,1032.9h1.9M727.1,1032.9h1.9M740.8,1032.9h3.9M752.5,1032.9h3.9M758.3,1032.9h11.7M772,1032.9h1.9M775.9,1032.9h5.8M783.7,1032.9h1.9M799.3,1032.9h3.9M805.1,1032.9h5.8M816.8,1032.9h1.9M820.7,1032.9h3.9M826.6,1032.9h3.9M836.3,1032.9h1.9M861.7,1032.9h1.9M890.9,1032.9h1.9M1013.8,1032.9h3.9M1021.6,1032.9h1.9M717.4,1034.8h3.9M725.2,1034.8h1.9M740.8,1034.8h1.9M754.4,1034.8h15.6M773.9,1034.8h7.8M799.3,1034.8h3.9M805.1,1034.8h5.8M812.9,1034.8h3.9M824.6,1034.8h3.9M832.4,1034.8h1.9M850,1034.8h1.9M871.4,1034.8h3.9M885.1,1034.8h1.9M894.8,1034.8h1.9M1021.6,1034.8h1.9M701.8,1036.8h3.9M717.4,1036.8h5.8M733,1036.8h1.9M738.8,1036.8h3.9M748.6,1036.8h1.9M756.4,1036.8h3.9M768.1,1036.8h5.8M777.8,1036.8h1.9M799.3,1036.8h5.8M811,1036.8h1.9M822.7,1036.8h1.9M828.5,1036.8h3.9M834.4,1036.8h1.9M869.5,1036.8h1.9M904.6,1036.8h1.9M918.2,1036.8h3.9M1013.8,1036.8h1.9M1019.6,1036.8h1.9M701.8,1038.8h3.9M719.3,1038.8h1.9M731,1038.8h1.9M738.8,1038.8h1.9M742.7,1038.8h5.8M750.5,1038.8h1.9M760.3,1038.8h7.8M772,1038.8h1.9M799.3,1038.8h3.9M814.9,1038.8h1.9M828.5,1038.8h1.9M832.4,1038.8h5.8M850,1038.8h1.9M877.3,1038.8h1.9M912.4,1038.8h5.8M703.7,1040.7h1.9M717.4,1040.7h3.9M738.8,1040.7h1.9M744.7,1040.7h3.9M750.5,1040.7h1.9M766.1,1040.7h7.8M777.8,1040.7h1.9M797.3,1040.7h1.9M803.2,1040.7h1.9M809,1040.7h5.8M834.4,1040.7h1.9M838.3,1040.7h1.9M844.1,1040.7h1.9M853.9,1040.7h1.9M859.7,1040.7h1.9M922.1,1040.7h1.9M1033.3,1040.7h1.9M715.4,1042.7h1.9M727.1,1042.7h1.9M740.8,1042.7h3.9M766.1,1042.7h7.8M787.6,1042.7h1.9M791.5,1042.7h7.8M803.2,1042.7h1.9M811,1042.7h1.9M818.8,1042.7h3.9M838.3,1042.7h3.9M892.9,1042.7h1.9M961.1,1042.7h3.9M967,1042.7h1.9M1029.4,1042.7h1.9M723.2,1044.6h1.9M750.5,1044.6h1.9M764.2,1044.6h1.9M770,1044.6h5.8M781.7,1044.6h1.9M787.6,1044.6h1.9M791.5,1044.6h3.9M809,1044.6h7.8M820.7,1044.6h1.9M834.4,1044.6h1.9M840.2,1044.6h1.9M898.7,1044.6h3.9M959.2,1044.6h7.8M1029.4,1044.6h1.9M1035.2,1044.6h1.9M1095.7,1044.6h1.9M707.6,1046.5h1.9M711.5,1046.5h3.9M725.2,1046.5h1.9M740.8,1046.5h9.8M752.5,1046.5h1.9M756.4,1046.5h1.9M768.1,1046.5h1.9M772,1046.5h3.9M787.6,1046.5h1.9M791.5,1046.5h3.9M797.3,1046.5h1.9M803.2,1046.5h1.9M811,1046.5h7.8M820.7,1046.5h1.9M838.3,1046.5h3.9M873.4,1046.5h1.9M896.8,1046.5h1.9M959.2,1046.5h9.8M1093.7,1046.5h1.9M717.4,1048.5h1.9M721.3,1048.5h1.9M725.2,1048.5h1.9M733,1048.5h1.9M736.9,1048.5h3.9M752.5,1048.5h1.9M770,1048.5h5.8M779.8,1048.5h1.9M787.6,1048.5h1.9M791.5,1048.5h3.9M797.3,1048.5h1.9M816.8,1048.5h3.9M838.3,1048.5h3.9M959.2,1048.5h5.8M1033.3,1048.5h1.9M719.3,1050.5h3.9M733,1050.5h1.9M752.5,1050.5h5.8M772,1050.5h5.8M779.8,1050.5h3.9M793.4,1050.5h1.9M797.3,1050.5h1.9M811,1050.5h3.9M816.8,1050.5h5.8M836.3,1050.5h1.9M840.2,1050.5h1.9M844.1,1050.5h1.9M994.3,1050.5h3.9M1037.2,1050.5h1.9M717.4,1052.4h1.9M721.3,1052.4h7.8M731,1052.4h1.9M734.9,1052.4h3.9M742.7,1052.4h3.9M752.5,1052.4h3.9M768.1,1052.4h1.9M773.9,1052.4h1.9M793.4,1052.4h1.9M816.8,1052.4h5.8M836.3,1052.4h3.9M848,1052.4h1.9M713.5,1054.3h1.9M723.2,1054.3h1.9M731,1054.3h1.9M764.2,1054.3h1.9M770,1054.3h1.9M773.9,1054.3h1.9M787.6,1054.3h1.9M791.5,1054.3h3.9M818.8,1054.3h5.8M838.3,1054.3h1.9M992.3,1054.3h1.9M723.2,1056.3h1.9M727.1,1056.3h3.9M764.2,1056.3h5.8M773.9,1056.3h1.9M791.5,1056.3h1.9M818.8,1056.3h1.9M836.3,1056.3h3.9M694,1058.2h1.9M709.6,1058.2h1.9M723.2,1058.2h5.8M748.6,1058.2h3.9M768.1,1058.2h1.9M791.5,1058.2h3.9M820.7,1058.2h5.8M834.4,1058.2h1.9M1031.3,1058.2h1.9M1039.1,1058.2h1.9M723.2,1060.2h1.9M758.3,1060.2h7.8M775.9,1060.2h1.9M820.7,1060.2h1.9M826.6,1060.2h1.9M846.1,1060.2h5.8M736.9,1062.2h1.9M754.4,1062.2h1.9M758.3,1062.2h1.9M764.2,1062.2h5.8M775.9,1062.2h1.9M793.4,1062.2h1.9M812.9,1062.2h3.9M818.8,1062.2h5.8M834.4,1062.2h3.9M846.1,1062.2h3.9M727.1,1064.1h1.9M758.3,1064.1h1.9M766.1,1064.1h1.9M777.8,1064.1h1.9M824.6,1064.1h1.9M850,1064.1h1.9M1085.9,1064.1h3.9M709.6,1066h1.9M719.3,1066h1.9M725.2,1066h1.9M748.6,1066h9.8M775.9,1066h1.9M781.7,1066h5.8M797.3,1066h1.9M807.1,1066h1.9M822.7,1066h3.9M828.5,1066h5.8M851.9,1066h1.9M855.8,1066h1.9M1084,1066h1.9M690.1,1068h1.9M709.6,1068h1.9M721.3,1068h3.9M746.6,1068h7.8M766.1,1068h3.9M775.9,1068h3.9M783.7,1068h3.9M807.1,1068h1.9M830.5,1068h1.9M851.9,1068h3.9M709.6,1070h1.9M723.2,1070h1.9M727.1,1070h1.9M746.6,1070h3.9M754.4,1070h3.9M764.2,1070h3.9M775.9,1070h1.9M783.7,1070h3.9M791.5,1070h1.9M824.6,1070h3.9M830.5,1070h3.9M851.9,1070h5.8M694,1071.9h1.9M742.7,1071.9h1.9M746.6,1071.9h1.9M752.5,1071.9h3.9M758.3,1071.9h5.8M768.1,1071.9h1.9M793.4,1071.9h1.9M820.7,1071.9h1.9M826.6,1071.9h5.8M840.2,1071.9h1.9M850,1071.9h1.9M976.7,1071.9h1.9M740.8,1073.8h1.9M744.7,1073.8h1.9M752.5,1073.8h11.7M783.7,1073.8h1.9M809,1073.8h1.9M820.7,1073.8h1.9M826.6,1073.8h3.9M844.1,1073.8h1.9M703.7,1075.8h1.9M717.4,1075.8h3.9M723.2,1075.8h1.9M740.8,1075.8h1.9M744.7,1075.8h1.9M756.4,1075.8h1.9M762.2,1075.8h3.9M768.1,1075.8h1.9M799.3,1075.8h1.9M816.8,1075.8h1.9M830.5,1075.8h1.9M834.4,1075.8h1.9M838.3,1075.8h1.9M850,1075.8h1.9M717.4,1077.8h7.8M752.5,1077.8h1.9M760.3,1077.8h1.9M764.2,1077.8h5.8M793.4,1077.8h1.9M822.7,1077.8h11.7M840.2,1077.8h1.9M844.1,1077.8h1.9M851.9,1077.8h3.9M859.7,1077.8h1.9M721.3,1079.7h1.9M727.1,1079.7h3.9M752.5,1079.7h3.9M766.1,1079.7h1.9M826.6,1079.7h1.9M830.5,1079.7h3.9M844.1,1079.7h1.9M853.9,1079.7h3.9M717.4,1081.7h1.9M725.2,1081.7h1.9M752.5,1081.7h5.8M766.1,1081.7h1.9M832.4,1081.7h3.9M840.2,1081.7h1.9M844.1,1081.7h1.9M851.9,1081.7h3.9M1027.4,1081.7h1.9M715.4,1083.6h1.9M754.4,1083.6h1.9M773.9,1083.6h1.9M791.5,1083.6h1.9M797.3,1083.6h3.9M809,1083.6h1.9M830.5,1083.6h1.9M840.2,1083.6h1.9M871.4,1083.6h1.9M1027.4,1083.6h1.9M738.8,1085.5h1.9M756.4,1085.5h3.9M781.7,1085.5h1.9M793.4,1085.5h1.9M836.3,1085.5h1.9M840.2,1085.5h1.9M844.1,1085.5h1.9M848,1085.5h1.9M1027.4,1085.5h1.9M738.8,1087.5h3.9M752.5,1087.5h1.9M766.1,1087.5h1.9M783.7,1087.5h1.9M832.4,1087.5h3.9M844.1,1087.5h1.9M715.4,1089.5h1.9M725.2,1089.5h1.9M731,1089.5h1.9M738.8,1089.5h3.9M760.3,1089.5h1.9M836.3,1089.5h3.9M844.1,1089.5h1.9M851.9,1089.5h1.9M727.1,1091.4h1.9M736.9,1091.4h1.9M742.7,1091.4h3.9M834.4,1091.4h1.9M840.2,1091.4h1.9M713.5,1093.3h1.9M736.9,1093.3h1.9M744.7,1093.3h9.8M836.3,1093.3h1.9M842.2,1093.3h1.9M707.6,1095.3h1.9M736.9,1095.3h3.9M789.5,1095.3h1.9M838.3,1095.3h1.9M842.2,1095.3h1.9M857.8,1095.3h1.9M750.5,1097.2h1.9M705.7,1099.2h5.8M750.5,1099.2h3.9M756.4,1099.2h1.9M770,1099.2h1.9M961.1,1099.2h5.8M703.7,1101.2h1.9M721.3,1101.2h1.9M725.2,1101.2h3.9M733,1101.2h1.9M742.7,1101.2h3.9M768.1,1101.2h1.9M869.5,1101.2h3.9M959.2,1101.2h7.8M629.6,1103.1h1.9M699.8,1103.1h1.9M711.5,1103.1h1.9M715.4,1103.1h1.9M731,1103.1h1.9M734.9,1103.1h1.9M746.6,1103.1h3.9M768.1,1103.1h1.9M834.4,1103.1h1.9M853.9,1103.1h3.9M869.5,1103.1h1.9M873.4,1103.1h1.9M959.2,1103.1h7.8M701.8,1105h1.9M705.7,1105h1.9M711.5,1105h1.9M715.4,1105h1.9M721.3,1105h3.9M727.1,1105h1.9M740.8,1105h7.8M764.2,1105h1.9M879.2,1105h1.9M721.3,1107h1.9M791.5,1107h1.9M840.2,1107h3.9M857.8,1107h1.9M861.7,1107h1.9M871.4,1107h1.9M877.3,1107h1.9M616,1109h1.9M707.6,1109h3.9M777.8,1109h1.9M857.8,1109h1.9M861.7,1109h1.9M869.5,1109h5.8M881.2,1109h1.9M723.2,1110.9h1.9M746.6,1110.9h5.8M859.7,1110.9h1.9M863.6,1110.9h1.9M869.5,1110.9h3.9M879.2,1110.9h1.9M729.1,1112.8h3.9M742.7,1112.8h1.9M746.6,1112.8h3.9M863.6,1112.8h3.9M881.2,1112.8h1.9M727.1,1114.8h3.9M731,1116.8h3.9M746.6,1116.8h1.9M764.2,1116.8h1.9M871.4,1116.8h1.9M697.9,1118.7h1.9M709.6,1118.7h1.9M731,1118.7h1.9M740.8,1118.7h5.8M694,1120.7h1.9M697.9,1120.7h1.9M705.7,1120.7h3.9M731,1120.7h1.9M873.4,1120.7h1.9M883.1,1120.7h1.9M635.5,1122.6h3.9M697.9,1122.6h1.9M707.6,1122.6h1.9M729.1,1122.6h5.8M871.4,1122.6h1.9M877.3,1122.6h7.8M635.5,1124.5h5.8M692,1124.5h1.9M719.3,1124.5h1.9M729.1,1124.5h3.9M877.3,1124.5h1.9M713.5,1126.5h1.9M719.3,1126.5h3.9M729.1,1126.5h1.9M734.9,1126.5h1.9M697.9,1128.5h1.9M711.5,1128.5h1.9M729.1,1128.5h1.9M875.3,1128.5h1.9M879.2,1128.5h1.9M699.8,1130.4h3.9M717.4,1130.4h3.9M775.9,1130.4h1.9M877.3,1130.4h1.9M887,1130.4h1.9M699.8,1132.3h3.9M705.7,1132.3h1.9M717.4,1132.3h1.9M721.3,1132.3h1.9M760.3,1132.3h1.9M887,1132.3h1.9M703.7,1134.3h3.9M719.3,1134.3h3.9M731,1134.3h1.9M889,1134.3h1.9M727.1,1136.2h1.9M717.4,1138.2h1.9M721.3,1138.2h1.9M725.2,1138.2h5.8M777.8,1138.2h1.9M890.9,1138.2h1.9M775.9,1140.2h1.9M676.4,1144h3.9M1043,1144h1.9M674.5,1146h1.9M705.7,1146h3.9M695.9,1148h1.9M709.6,1148h1.9M775.9,1148h1.9M647.2,1149.9h1.9M711.5,1149.9h1.9M709.6,1151.8h1.9M713.5,1151.8h1.9M892.9,1151.8h1.9M896.8,1151.8h1.9M892.9,1153.8h3.9M898.7,1153.8h5.8M982.6,1153.8h3.9M892.9,1155.8h9.8M982.6,1155.8h1.9M892.9,1157.7h3.9M898.7,1157.7h5.8M933.8,1157.7h3.9M984.5,1157.7h3.9M887,1159.7h3.9M892.9,1159.7h9.8M904.6,1159.7h1.9M931.9,1159.7h5.8M959.2,1159.7h1.9M879.2,1161.6h3.9M885.1,1161.6h5.8M892.9,1161.6h1.9M896.8,1161.6h1.9M931.9,1161.6h5.8M959.2,1161.6h1.9M881.2,1163.5h3.9M889,1163.5h1.9M892.9,1163.5h1.9M898.7,1163.5h3.9M881.2,1165.5h3.9M887,1165.5h1.9M890.9,1165.5h1.9M898.7,1165.5h1.9M883.1,1167.5h1.9M889,1167.5h3.9M896.8,1167.5h1.9M889,1169.4h3.9M883.1,1171.3h5.8M896.8,1171.3h1.9M686.2,1173.3h1.9M690.1,1173.3h1.9M883.1,1173.3h1.9M887,1173.3h1.9M890.9,1173.3h3.9M686.2,1175.2h1.9M690.1,1175.2h1.9M885.1,1175.2h1.9M889,1175.2h3.9M688.1,1177.2h1.9M885.1,1177.2h1.9M889,1177.2h1.9M892.9,1177.2h1.9M939.7,1177.2h1.9M937.7,1179.2h1.9M935.8,1181.1h1.9M908.5,1183h5.8M916.3,1183h1.9M912.4,1185h5.8M672.5,1187h5.8M877.3,1187h1.9M885.1,1187h3.9M896.8,1187h7.8M908.5,1187h7.8M672.5,1188.9h1.9M676.4,1188.9h1.9M883.1,1188.9h5.8M900.7,1188.9h1.9M914.3,1188.9h3.9M883.1,1190.8h1.9M887,1190.8h1.9M902.6,1190.8h1.9M912.4,1190.8h3.9M883.1,1192.8h3.9M896.8,1192.8h1.9M900.7,1192.8h1.9M912.4,1192.8h5.8M908.5,1194.8h1.9M916.3,1194.8h1.9M898.7,1196.7h3.9M916.3,1196.7h1.9M920.2,1196.7h1.9M931.9,1196.7h1.9M898.7,1198.7h1.9M904.6,1198.7h3.9M898.7,1200.6h3.9M906.5,1200.6h1.9M904.6,1202.5h3.9M904.6,1204.5h3.9M1025.5,1214.2h1.9M1021.6,1216.2h5.8M1021.6,1218.2h3.9M1021.6,1220.1h3.9M1019.6,1222h5.8M1050.8,1233.8h3.9M955.3,1235.7h1.9M1050.8,1235.7h3.9M939.7,1241.5h1.9M738.8,1243.5h1.9M916.3,1245.5h1.9M920.2,1247.4h1.9M762.2,1255.2h1.9M766.1,1255.2h1.9M762.2,1257.2h1.9M951.4,1257.2h1.9M762.2,1259.1h1.9M762.2,1261h1.9M766.1,1261h1.9M762.2,1265h1.9M1037.2,1268.8h1.9M1037.2,1270.8h1.9M1035.2,1272.8h3.9M736.9,1286.4h1.9M742.7,1286.4h1.9M731,1288.3h1.9M736.9,1288.3h1.9M725.2,1290.3h3.9M738.8,1290.3h1.9M725.2,1292.2h5.8M725.2,1294.2h3.9M736.9,1294.2h5.8M740.8,1296.2h1.9M736.9,1298.1h5.8M715.4,1302h3.9M715.4,1304h5.8M697.9,1315.7h3.9" stroke="#3a70a4" stroke-width="2.3" fill="none"/>
<path d="M809,732.6h1.9M805.1,740.4h1.9M809,740.4h1.9M801.2,744.3h1.9M818.8,744.3h1.9M814.9,746.2h1.9M818.8,746.2h3.9M797.3,748.2h1.9M818.8,748.2h1.9M797.3,750.1h1.9M699.8,761.9h1.9M699.8,763.8h1.9M807.1,806.7h1.9M807.1,808.6h7.8M807.1,810.6h9.8M809,812.5h1.9M812.9,812.5h1.9M814.9,814.5h1.9M812.9,816.5h1.9M816.8,818.4h1.9M820.7,818.4h1.9M814.9,822.3h3.9M840.2,822.3h5.8M816.8,824.2h1.9M820.7,824.2h1.9M840.2,824.2h1.9M844.1,824.2h1.9M772,826.2h1.9M809,826.2h1.9M770,828.1h1.9M900.7,834h3.9M857.8,839.9h1.9M920.2,839.9h1.9M797.3,847.6h1.9M906.5,847.6h1.9M910.4,847.6h1.9M916.3,847.6h1.9M799.3,849.6h1.9M906.5,849.6h1.9M910.4,849.6h5.8M795.4,851.5h1.9M906.5,851.5h1.9M910.4,851.5h3.9M937.7,853.5h1.9M1045,867.1h1.9M785.6,884.7h1.9M816.8,884.7h3.9M750.5,898.4h1.9M787.6,898.4h3.9M787.6,900.3h5.8M770,902.2h1.9M795.4,902.2h1.9M797.3,904.2h1.9M814.9,904.2h1.9M795.4,906.1h3.9M814.9,906.1h1.9M775.9,908.1h1.9M783.7,908.1h1.9M822.7,908.1h1.9M781.7,910h1.9M816.8,910h1.9M826.6,910h1.9M775.9,912h1.9M781.7,912h1.9M785.6,912h1.9M733,914h1.9M779.8,914h1.9M766.1,915.9h1.9M775.9,915.9h1.9M779.8,915.9h1.9M797.3,915.9h1.9M812.9,915.9h1.9M775.9,917.9h1.9M793.4,917.9h1.9M787.6,919.8h1.9M793.4,919.8h3.9M766.1,921.8h1.9M768.1,923.7h1.9M781.7,923.7h1.9M787.6,923.7h1.9M797.3,923.7h1.9M836.3,923.7h1.9M750.5,925.6h1.9M746.6,927.6h1.9M787.6,927.6h1.9M748.6,929.5h1.9M779.8,929.5h1.9M814.9,929.5h1.9M799.3,931.5h1.9M768.1,933.5h1.9M801.2,933.5h3.9M811,933.5h5.8M803.2,935.4h1.9M812.9,935.4h1.9M814.9,937.4h1.9M818.8,937.4h1.9M754.4,939.3h1.9M783.7,939.3h3.9M799.3,939.3h1.9M803.2,939.3h1.9M816.8,939.3h1.9M781.7,941.2h1.9M812.9,941.2h3.9M764.2,943.2h1.9M816.8,943.2h3.9M842.2,943.2h1.9M850,943.2h1.9M764.2,945.1h1.9M814.9,945.1h1.9M818.8,945.1h1.9M832.4,945.1h1.9M814.9,947.1h1.9M848,947.1h1.9M881.2,947.1h1.9M752.5,949h1.9M830.5,949h1.9M752.5,951h1.9M764.2,951h1.9M789.5,951h1.9M793.4,951h1.9M830.5,951h1.9M1066.4,951h1.9M791.5,953h3.9M832.4,953h1.9M758.3,954.9h3.9M766.1,954.9h1.9M775.9,954.9h3.9M859.7,954.9h1.9M777.8,956.9h1.9M814.9,956.9h1.9M828.5,956.9h1.9M859.7,956.9h1.9M881.2,956.9h3.9M723.2,958.8h1.9M729.1,958.8h1.9M762.2,958.8h1.9M766.1,958.8h1.9M775.9,958.8h1.9M811,958.8h1.9M861.7,958.8h1.9M734.9,960.8h1.9M738.8,960.8h1.9M742.7,960.8h1.9M768.1,960.8h1.9M828.5,960.8h3.9M838.3,960.8h1.9M734.9,962.7h1.9M738.8,962.7h1.9M875.3,962.7h3.9M789.5,964.6h3.9M795.4,964.6h3.9M807.1,964.6h1.9M834.4,964.6h1.9M838.3,964.6h1.9M879.2,964.6h1.9M729.1,966.6h1.9M742.7,966.6h1.9M764.2,966.6h1.9M779.8,966.6h1.9M783.7,966.6h1.9M789.5,966.6h1.9M793.4,966.6h5.8M812.9,966.6h3.9M822.7,966.6h1.9M840.2,966.6h1.9M846.1,966.6h3.9M853.9,966.6h3.9M762.2,968.5h1.9M777.8,968.5h1.9M781.7,968.5h1.9M791.5,968.5h1.9M795.4,968.5h3.9M807.1,968.5h1.9M811,968.5h3.9M848,968.5h1.9M863.6,968.5h1.9M731,970.5h1.9M752.5,970.5h1.9M756.4,970.5h1.9M762.2,970.5h3.9M785.6,970.5h23.4M811,970.5h1.9M814.9,970.5h1.9M824.6,970.5h1.9M840.2,970.5h1.9M867.5,970.5h1.9M734.9,972.5h5.8M772,972.5h3.9M777.8,972.5h1.9M781.7,972.5h11.7M795.4,972.5h7.8M805.1,972.5h7.8M826.6,972.5h1.9M830.5,972.5h1.9M840.2,972.5h3.9M734.9,974.4h1.9M738.8,974.4h1.9M773.9,974.4h1.9M779.8,974.4h17.6M799.3,974.4h15.6M824.6,974.4h1.9M830.5,974.4h1.9M738.8,976.4h1.9M772,976.4h5.8M779.8,976.4h11.7M793.4,976.4h3.9M799.3,976.4h17.6M828.5,976.4h5.8M838.3,976.4h1.9M844.1,976.4h1.9M740.8,978.3h1.9M752.5,978.3h1.9M773.9,978.3h7.8M787.6,978.3h29.2M840.2,978.3h1.9M885.1,978.3h1.9M756.4,980.2h1.9M772,980.2h40.9M816.8,980.2h1.9M840.2,980.2h1.9M844.1,980.2h1.9M748.6,982.2h1.9M770,982.2h13.7M785.6,982.2h33.1M842.2,982.2h3.9M857.8,982.2h1.9M734.9,984.1h5.8M750.5,984.1h7.8M770,984.1h7.8M781.7,984.1h9.8M797.3,984.1h1.9M801.2,984.1h1.9M809,984.1h9.8M707.6,986.1h1.9M734.9,986.1h1.9M746.6,986.1h1.9M754.4,986.1h1.9M768.1,986.1h7.8M777.8,986.1h13.7M797.3,986.1h1.9M811,986.1h9.8M826.6,986.1h1.9M851.9,986.1h5.8M887,986.1h1.9M890.9,986.1h1.9M707.6,988h1.9M736.9,988h3.9M746.6,988h1.9M750.5,988h1.9M754.4,988h1.9M768.1,988h3.9M773.9,988h1.9M777.8,988h1.9M781.7,988h9.8M797.3,988h1.9M801.2,988h1.9M805.1,988h1.9M809,988h11.7M824.6,988h1.9M892.9,988h1.9M733,990h1.9M752.5,990h3.9M768.1,990h5.8M777.8,990h9.8M789.5,990h1.9M797.3,990h15.6M814.9,990h5.8M828.5,990h1.9M832.4,990h1.9M851.9,990h3.9M890.9,990h1.9M729.1,992h1.9M756.4,992h1.9M768.1,992h1.9M772,992h17.6M791.5,992h1.9M797.3,992h15.6M816.8,992h3.9M832.4,992h1.9M848,992h1.9M887,992h1.9M890.9,992h1.9M729.1,993.9h1.9M768.1,993.9h1.9M775.9,993.9h1.9M781.7,993.9h5.8M789.5,993.9h7.8M799.3,993.9h11.7M812.9,993.9h7.8M830.5,993.9h1.9M889,993.9h3.9M736.9,995.9h1.9M748.6,995.9h1.9M770,995.9h11.7M783.7,995.9h35.1M822.7,995.9h1.9M719.3,997.8h1.9M770,997.8h40.9M812.9,997.8h5.8M822.7,997.8h1.9M746.6,999.8h3.9M754.4,999.8h1.9M770,999.8h11.7M783.7,999.8h31.2M816.8,999.8h1.9M822.7,999.8h1.9M826.6,999.8h1.9M851.9,999.8h1.9M742.7,1001.7h1.9M772,1001.7h1.9M775.9,1001.7h19.5M797.3,1001.7h1.9M801.2,1001.7h9.8M820.7,1001.7h1.9M838.3,1001.7h1.9M887,1001.7h1.9M707.6,1003.6h1.9M713.5,1003.6h1.9M719.3,1003.6h1.9M770,1003.6h1.9M775.9,1003.6h17.6M797.3,1003.6h13.7M816.8,1003.6h1.9M834.4,1003.6h1.9M850,1003.6h1.9M887,1003.6h1.9M890.9,1003.6h1.9M731,1005.6h1.9M770,1005.6h1.9M773.9,1005.6h19.5M795.4,1005.6h1.9M799.3,1005.6h1.9M803.2,1005.6h7.8M812.9,1005.6h1.9M816.8,1005.6h1.9M822.7,1005.6h1.9M848,1005.6h3.9M738.8,1007.5h1.9M768.1,1007.5h1.9M779.8,1007.5h1.9M783.7,1007.5h19.5M805.1,1007.5h1.9M811,1007.5h1.9M816.8,1007.5h1.9M822.7,1007.5h1.9M863.6,1007.5h1.9M707.6,1009.5h1.9M717.4,1009.5h1.9M723.2,1009.5h1.9M750.5,1009.5h1.9M779.8,1009.5h5.8M787.6,1009.5h3.9M793.4,1009.5h7.8M805.1,1009.5h1.9M809,1009.5h1.9M818.8,1009.5h3.9M707.6,1011.5h1.9M719.3,1011.5h5.8M779.8,1011.5h7.8M793.4,1011.5h9.8M809,1011.5h1.9M826.6,1011.5h1.9M719.3,1013.4h3.9M742.7,1013.4h3.9M783.7,1013.4h3.9M789.5,1013.4h1.9M793.4,1013.4h7.8M805.1,1013.4h1.9M822.7,1013.4h1.9M719.3,1015.4h3.9M740.8,1015.4h5.8M777.8,1015.4h1.9M791.5,1015.4h7.8M803.2,1015.4h1.9M822.7,1015.4h3.9M875.3,1015.4h1.9M896.8,1015.4h1.9M777.8,1017.3h1.9M859.7,1017.3h3.9M797.3,1019.2h1.9M805.1,1019.2h3.9M824.6,1019.2h5.8M781.7,1021.2h1.9M801.2,1021.2h1.9M805.1,1021.2h1.9M809,1021.2h1.9M824.6,1021.2h1.9M846.1,1021.2h1.9M850,1021.2h1.9M799.3,1023.1h1.9M807.1,1023.1h3.9M822.7,1023.1h1.9M846.1,1023.1h1.9M850,1023.1h1.9M770,1025.1h1.9M789.5,1025.1h1.9M805.1,1025.1h1.9M887,1025.1h1.9M1013.8,1025.1h1.9M733,1027h1.9M772,1027h3.9M812.9,1027h1.9M1013.8,1027h1.9M738.8,1029h1.9M770,1029h3.9M787.6,1029h1.9M887,1029h1.9M809,1031h1.9M816.8,1031h1.9M734.9,1032.9h1.9M797.3,1032.9h1.9M818.8,1032.9h1.9M733,1034.8h1.9M793.4,1034.8h1.9M787.6,1036.8h1.9M791.5,1036.8h3.9M797.3,1036.8h1.9M812.9,1036.8h3.9M789.5,1038.8h1.9M793.4,1038.8h1.9M811,1038.8h1.9M816.8,1038.8h1.9M824.6,1038.8h3.9M787.6,1040.7h1.9M791.5,1040.7h1.9M795.4,1040.7h1.9M816.8,1040.7h1.9M822.7,1040.7h1.9M887,1040.7h1.9M719.3,1042.7h1.9M775.9,1042.7h1.9M812.9,1042.7h5.8M826.6,1042.7h1.9M762.2,1044.6h1.9M816.8,1044.6h3.9M717.4,1046.5h1.9M738.8,1046.5h1.9M818.8,1046.5h1.9M1029.4,1046.5h5.8M803.2,1048.5h1.9M967,1048.5h1.9M1029.4,1048.5h1.9M748.6,1050.5h1.9M990.4,1050.5h1.9M1029.4,1050.5h1.9M1039.1,1050.5h1.9M748.6,1052.4h3.9M760.3,1052.4h1.9M990.4,1052.4h7.8M1037.2,1052.4h3.9M744.7,1054.3h1.9M760.3,1054.3h1.9M811,1054.3h1.9M828.5,1054.3h1.9M832.4,1054.3h1.9M850,1054.3h1.9M990.4,1054.3h1.9M994.3,1054.3h3.9M1037.2,1054.3h3.9M779.8,1056.3h1.9M822.7,1056.3h1.9M828.5,1056.3h1.9M1037.2,1056.3h3.9M734.9,1058.2h1.9M742.7,1058.2h1.9M762.2,1058.2h1.9M816.8,1058.2h3.9M832.4,1058.2h1.9M1037.2,1058.2h1.9M721.3,1060.2h1.9M824.6,1060.2h1.9M855.8,1060.2h1.9M731,1062.2h3.9M801.2,1062.2h3.9M824.6,1062.2h1.9M830.5,1062.2h1.9M715.4,1064.1h1.9M822.7,1064.1h1.9M826.6,1064.1h1.9M832.4,1064.1h1.9M851.9,1064.1h5.8M729.1,1066h1.9M738.8,1066h1.9M770,1066h1.9M731,1068h1.9M820.7,1068h1.9M826.6,1068h3.9M844.1,1068h1.9M733,1070h1.9M727.1,1071.9h1.9M857.8,1071.9h1.9M725.2,1075.8h1.9M740.8,1077.8h1.9M809,1077.8h1.9M818.8,1077.8h1.9M848,1077.8h1.9M734.9,1079.7h1.9M738.8,1079.7h1.9M775.9,1079.7h1.9M809,1079.7h1.9M834.4,1079.7h3.9M846.1,1079.7h1.9M734.9,1081.7h1.9M781.7,1081.7h1.9M838.3,1081.7h1.9M746.6,1083.6h3.9M834.4,1083.6h1.9M748.6,1085.5h1.9M818.8,1085.5h3.9M742.7,1087.5h1.9M756.4,1089.5h1.9M828.5,1089.5h1.9M770,1091.4h1.9M791.5,1091.4h1.9M770,1093.3h1.9M959.2,1099.2h1.9M627.7,1101.2h5.8M838.3,1101.2h1.9M627.7,1103.1h1.9M631.6,1103.1h1.9M627.7,1105h5.8M678.4,1142.1h1.9M674.5,1144h1.9M647.2,1148h5.8M651.1,1149.9h1.9M647.2,1151.8h5.8M986.5,1153.8h1.9M931.9,1157.7h1.9M982.6,1157.7h1.9M902.6,1159.7h1.9M890.9,1161.6h1.9M898.7,1161.6h3.9M887,1163.5h1.9M896.8,1163.5h1.9M904.6,1163.5h1.9M885.1,1165.5h1.9M889,1165.5h1.9M896.8,1165.5h1.9M900.7,1165.5h1.9M885.1,1167.5h1.9M898.7,1167.5h7.8M887,1169.4h1.9M896.8,1169.4h5.8M890.9,1171.3h1.9M688.1,1173.3h1.9M889,1173.3h1.9M935.8,1177.2h1.9M937.7,1181.1h1.9M664.7,1185h3.9M908.5,1185h1.9M664.7,1187h3.9M883.1,1187h1.9M664.7,1188.9h3.9M906.5,1188.9h7.8M906.5,1190.8h5.8M918.2,1190.8h3.9M906.5,1192.8h5.8M918.2,1192.8h3.9M918.2,1194.8h3.9M918.2,1196.7h1.9M908.5,1198.7h1.9M916.3,1198.7h5.8M904.6,1200.6h1.9M1025.5,1220.1h1.9M736.9,1243.5h1.9M740.8,1243.5h3.9M736.9,1245.5h3.9M736.9,1247.4h1.9M740.8,1247.4h1.9M766.1,1268.8h3.9M1035.2,1268.8h1.9M738.8,1296.2h1.9M719.3,1302h1.9M699.8,1317.6h1.9" stroke="#337db3" stroke-width="2.3" fill="none"/>
<path d="M799.3,966.6h1.9M783.7,968.5h1.9M801.2,968.5h3.9M777.8,970.5h1.9M781.7,970.5h1.9M807.1,984.1h1.9M801.2,986.1h1.9M809,986.1h1.9M775.9,988h1.9M772,993.9h3.9M812.9,1003.6h1.9M797.3,1005.6h1.9M801.2,1005.6h1.9M803.2,1007.5h1.9M801.2,1009.5h3.9M803.2,1011.5h3.9M801.2,1013.4h3.9M807.1,1025.1h1.9M811,1027h1.9M807.1,1029h1.9M811,1032.9h3.9M814.9,1040.7h1.9M824.6,1068h1.9" stroke="#2c8cc2" stroke-width="2.3" fill="none"/>
<rect x="794.6" y="959.8" width="1.6" height="1.6" fill="#4cd137"/>
<rect x="790.4" y="998.5" width="1.6" height="1.6" fill="#4cd137"/>
<rect x="836.5" y="944.5" width="1.6" height="1.6" fill="#4cd137"/>
<circle cx="1247.1" cy="868.9" r="5.5" fill="#2a8fc4"/>
<circle cx="1243" cy="886.5" r="5" fill="#2a9fd0"/>
<circle cx="1251.3" cy="885" r="5" fill="#2a8fc4"/>
<circle cx="204.4" cy="1169.4" r="5.9" fill="#2a9fd0"/>
<circle cx="205.9" cy="1157.9" r="5.7" fill="#2a9fd0"/>
<circle cx="202.9" cy="1147.2" r="5.9" fill="#4cd137"/>
<circle cx="595.4" cy="1533.4" r="5.6" fill="#4cd137"/>
<circle cx="605.4" cy="1536.7" r="5.6" fill="#2db3df"/>
<circle cx="553.7" cy="1555" r="6.2" fill="#2a8fc4"/>
<circle cx="539.4" cy="1559.6" r="6.2" fill="#2a9fd0"/>
<circle cx="509" cy="1572.8" r="6.6" fill="#2db3df"/>
<circle cx="863" cy="1425" r="4.4" fill="#2a9fd0"/>
<circle cx="871.8" cy="1430.3" r="4.4" fill="#2a9fd0"/>
<circle cx="888.1" cy="1427.1" r="4.6" fill="#2a8fc4"/>
<circle cx="870.9" cy="1423.4" r="4.6" fill="#4cd137"/>
<circle cx="879.7" cy="1428.6" r="4.3" fill="#4cd137"/>
<rect x="1245.2" y="872.8" width="9" height="9" fill="#4cd137"/>
<rect x="852" y="1423.3" width="7.4" height="7.6" fill="#e8e337"/>
<ellipse cx="541.5" cy="1369.9" rx="8.8" ry="4.6" fill="#2a9fd0" transform="rotate(28 541.5 1369.9)"/>
<path d="M20,231.5L34.7,220M192.9,220L246.3,257.7M317.5,220L317.5,230.1L246.3,231.5L246.3,257.7L248.4,295.4L248.8,362.5L148.9,364.6L151,502.9M248.4,295.4L365.7,296.5L365.7,286.6L374.1,292.3L386.7,287.1L397.2,291.2L409.7,295.4L420,300.7M151,502.9L135.7,503.9L137.3,572M135.7,503.9L203.3,501.8L203.3,492.4L261,492.4L261,497.6L280.9,497.6L281.9,555.7L332.2,556.9L355.3,555.3L372,568.9M420,300.7L425.2,305.9L425.2,318.5L430.5,329L441,336.3L461.9,345.7L476.6,347.8L487.1,352M1537.3,493.4L1537.3,481.9L1567.7,490.3M20,717.4L69.2,716.4L69.7,722.3L85,722.7L85,738.4M79.7,749.9L79.7,739.4L145.7,738.4M145.7,738.4L145.1,710.1M162.5,711.1L224.3,648.3M145.7,738.4L146.3,814.9M79.7,749.9L41,790.8L39.9,779.2L24.2,779.2L23.1,793.9L20,794.3M79.7,749.9L124.8,792.9L81.8,837.9L61.9,856.8L51.4,869.3L46.2,865.2L34.7,877.7L37.8,881.9L20,899.7M81.8,837.9L101.7,861M124.8,880.9L143.6,898.7L176.1,929.1L171.9,940.6L165.6,943.7M143.6,898.7L100.7,941.6L82.2,924.9L69.2,937.4L20,939.5M330.1,878.8L347.9,902.9L340.6,903.9L339.5,919.6L349,927L372,931.2L388.8,921.7L403.4,916.5L420,915.9M242.1,959.4L237.9,988.8L231.6,994M237.9,988.8L245.2,986.7L256.8,995.1L259.9,1020M390.9,1020L407.6,1011.8L420,1008.7M420,916.5L447.2,917.5L478.7,929.1L492.3,945.8L476.6,967.8L461.9,980.4L458.8,995.1L441,1005.5L420,1013.9M478.7,929.1L482.9,921.7L499.6,915.4L517.4,916.5L518.5,898.7L510.1,902.9L503.8,900.8L502.8,897.6M492.3,945.8L512.2,952.1L533.1,945.8L539.4,951.1L536.3,976.2L552,977.3L551,986.7L573,990.9L568.8,999.3L570.9,1011.8L581.3,1009.7L587.6,997.2L600.2,990.9L612.8,967.8L623.2,953.2L627.4,923.8M668.3,939.5L677.7,949L676.7,953.2L650.5,969.9L629.5,988.8L606.5,1007.6L587.6,1020M1117.5,949L1116.5,972L1111.3,974.1M1155.3,995.1L1169.9,999.3L1165.7,1020M1155.3,995.1L1186.7,976.2L1180.4,967.8L1199.3,955.3L1203.4,963.6L1220,953.2M1117.5,1020L1121.7,1013.9L1130.1,1020M1314.2,800.2L1327.8,801.2L1355.1,802.3M1443.1,798.1L1433.6,764.6L1446.2,760.4L1450.4,775.1L1463,771.9M1423.2,665L1463,766.7L1476.6,761.4L1491.3,754.1L1491.3,745.7L1505.9,733.1L1499.6,723.7L1535.3,693.3L1543.6,686L1567.7,673.4M1476.6,761.4L1491.3,789.7L1499.6,814.9M1327.8,801.2L1326.8,842.1L1338.3,852.6L1376,908.1M1380.2,902.9L1409.5,913.3M1409.5,868.3L1450.4,855.7L1444.1,839L1478.7,840M1483.9,876.7L1554.1,863.1M1317.3,842.1L1315.2,874.6M1270.2,920.7L1200,963.6M1277.5,972L1302.7,993L1332,991.9L1342.5,1007.6L1348.8,1020M1302.7,993L1302.7,1020M763.3,971.8L752,984.1L742.6,985.9L725.6,999.1L714.3,1008.6L710.5,1018.9M257.8,1020L258.9,1026.3L275.6,1022.1L277.7,1029.4L290.3,1030.5L290.3,1038.9L299.7,1039.9L300.8,1046.2L322.8,1048.3L323.8,1071.3L338.5,1071.3L346.9,1089.1L351.1,1103.8M351.1,1103.8L393,1087.1L398.2,1072.4L390.9,1065L418.1,1057.7L420,1058.8M390.9,1065L365.7,1061.9L350,1051.4L372,1036.8L388.8,1022.1L393,1020M420,1072.4L415,1076.6L417.1,1087.1L420,1088.1M301.8,1112.2L341.6,1162.5L331.2,1170.9L346.9,1193.9L420,1149.9M313.3,1226.4L350,1275.6L313.3,1311.3L292.4,1325.9L294.5,1340.6L284,1357.3L279.8,1372L286.1,1388.8L300.8,1390.9L317.5,1375.2L353.2,1405.5L342.7,1420M197.1,1206.5L211.7,1237.9L215.9,1240L214.9,1254.7L229.5,1263.1L233.7,1267.2L228.5,1274.6L240,1290.3M105.9,1391.9L131.1,1396.1L132.1,1403.4L145.7,1406.6L175.1,1411.8L187.6,1420M420,1058.8L430.5,1058.8L434.7,1061.5L420,1073.4M420,1087.1L429.4,1086L434.7,1103.8L444.1,1102.8L446.2,1108L461.9,1100.7L467.1,1122.7M420,1149.9L428.4,1141.5L438.9,1131.1L467.1,1122.7L489.1,1117.4L510.1,1110.1L524.8,1097.5L537.3,1080.8L549.9,1059.8L564.6,1039.9L583.4,1026.3L589.7,1020M510.1,1110.1L556.2,1166.7L542.6,1175.1L563.5,1205.4L543.6,1227.4L556.2,1245.2L547.8,1261L554.1,1267.2L552,1279.8L538.4,1291.3L547.8,1302.9L561.4,1322.8M552,1261L558.3,1254.7L577.2,1244.2L593.9,1235.8L608.6,1219.1L615.9,1202.3L617,1187.6L626.4,1166.7L620.1,1145.7L629.5,1124.8L635.8,1099.6L646.3,1087.1L667.2,1072.4L690.3,1047.2L692.4,1034.7L709.2,1020M420,1363.6L441,1365.7L464,1360.5L510.1,1345.8L537.3,1332.2L561.4,1322.8L608.6,1319.6L650.5,1314.4L680.9,1290.3L713.3,1261L751.1,1223.2L783.5,1198.1L803.4,1170.9L809.7,1149.9L820,1138.4M783.5,1198.1L797.2,1205.4L820,1208.6M680.9,1290.3L694.5,1317.5L692.4,1321.7L697.6,1334.3L694.5,1351.1L694.5,1376.2L695.5,1393L690.3,1407.6L683,1420M820,1139.4L834.7,1124.8L847.2,1108L855.6,1087.1L861.9,1068.2L882.9,1082.9L909.1,1098.6L920.6,1078.7L926.9,1082.9L945.7,1096.5L954.1,1078.7M820,1207.5L838.9,1209.6L838.9,1206.5L854.6,1207.5L856.7,1218L876.6,1221.2L882.9,1232.7L891.2,1234.8M885,1266.2L899.6,1264.1L914.3,1267.2L926.9,1279.8L936.3,1298.7L934.2,1319.6L939.4,1331.2L912.2,1356.3L921.6,1359.4L923.7,1374.1L945.7,1387.7L956.2,1385.6M1098.7,1036.8L1115.4,1032.6L1117.5,1020M1123.8,1020L1128,1025.2L1142.7,1028.4L1146.9,1033.6L1153.2,1034.7L1153.2,1020M1205.5,1020L1204.5,1037.8L1220,1039.9M1204.5,1037.8L1196.1,1038.9L1180.4,1074.5L1162.6,1100.7L1180.4,1102.8M1088.2,1103.8L1086.1,1120.6L1083,1127.9L1100.8,1105.9M1200,1039.9L1253.4,1047.2L1267.1,1030.5L1272.3,1033.6L1296.4,1031.5L1297.4,1020M1247.1,1046.2L1258.7,1092.3M105.9,1391.5L131.1,1395.7L132.1,1402L147.8,1406.2L175.1,1411.4L231.6,1449.1L267.2,1484.8M164.6,1380L154.1,1392.6L146.8,1404.1M353.2,1406.2L319.6,1380M281.9,1380L290.3,1388.4L300.8,1389.4L313.3,1380M174,1626.2L189.7,1629.3L186.6,1654.5L226.4,1660.8L231.6,1673.3L237.9,1700.6L242.1,1732L237.9,1746.7L225.3,1757.2M107,1494.2L137.3,1497.3L140.5,1489L162.5,1493.1L164.6,1491.1L209.6,1505.7L204.4,1516.2M694.5,1380L695.5,1392.6L690.3,1407.2L679.8,1426.1L663.1,1447.1L640,1468L621.2,1480.6M591.8,1522.5L604.4,1524.6L618,1539.2L629.5,1540.3L642.1,1541.3L661,1546.6L707.1,1545.5L716.5,1549.7L738.5,1541.3L761.5,1529.8L772,1531.9L786.7,1529.8L790.9,1551.8M931.1,1380L945.7,1387.3L957.2,1386.3M1153.2,1020L1168.4,1016L1205.6,1021" fill="none" stroke="#828282" stroke-width="2.9" stroke-linejoin="round"/>
<path d="M1470.3,494.5L1473.2,494.2L1475.4,491.3L1478.7,492.4L1481.6,491.7L1483.6,489.2L1486.2,487.8L1489.2,487.2L1491.4,489.1L1494.4,488.7L1497.2,488.8L1499.6,490.3L1501.8,492.1L1503.3,494.6L1507,494.7L1506.8,499.2L1510.1,499.7L1511.7,496.7L1515.6,497.6L1518.3,496.5L1519.2,492.3L1522.7,492.4L1525.4,491.7L1526.6,488.8L1529.1,487.9L1531.1,486.1L1534.6,487.3L1536.6,489.9L1537.3,493.4M1454.6,595.1L1457.5,595.4L1458.2,599.3L1462,598.3L1463.2,601.5L1465.1,603.4L1468.2,603.4L1468.3,606.9L1471.9,608.4L1473.4,611L1474.5,613.9L1476.6,612.2L1479.4,611.1L1479.8,607.4L1483.5,607.5L1485.7,605.8L1488,604.2L1489.2,601.4L1492.7,601.4L1493.5,605.9L1497.8,604.7L1499.6,607.6L1502.3,607.9L1504.5,609.7L1506.7,611.7L1509.9,610.4L1512.2,611.8L1514.2,614.2L1517.2,613.7L1520,613.7L1522.5,614.5L1524.8,616L1527.2,614.2L1529.8,613.3L1532.6,612.9L1535.7,614.3L1538.7,614.9L1540.7,611.2L1543.6,611.8L1545.4,609L1549.5,611L1551.2,608.2L1553.5,606.5L1556.2,605.5L1559,605.9L1560.6,608.4L1562.5,610.4L1565.5,610.4L1567.7,611.8M145.1,710.1L148.6,708.6L152,707L155.1,706.8L156.8,710.2L159.2,711.6L162.5,711.1M146.3,814.9L148.4,816.9L149.7,819.6L151.6,821.7L154.1,823.2L156.8,824.1L159.5,822L162.2,824.3L164.9,823.6L167.6,823.9L170.3,822.9L173,823.2L173.6,826.5L175.1,829.5L176.5,832.1L178.9,833.4L180.8,835.4L184.6,835.1L186.4,837.3L187.6,840L189.9,841.5L191.5,843.8L194.6,844.2L195.6,847.3L198.1,848.4L199.8,850.8L203.5,851.4L204.5,854.6L206.5,856.8L208.3,859.1L209.7,861.5L210.2,864.2L209.6,867.2L211.5,869.5L213.2,871.7L214.4,874.3L216.2,876.5L215.9,879.8L214.4,882L213.1,884.3L210.9,885.9L209.4,888L208.9,890.9L206.5,892.4L204.5,895.1L207.5,898.5L205.6,901.2L205.6,904.2L204.4,907.1M101.7,861L104.7,862.1L108,862.4L110.1,865.2L109.6,868.3L112,870.6L113.9,873.1L112.5,876.4L115.1,878.8L114.3,881.9L117,882.8L120,882.7L122.7,884L124.8,880.9M339.5,919.6L336.8,919.2L334.1,917.6L331.3,918L328.4,919.3L325.8,917.7L323,918.2L320.1,919.1L317.3,919.8L314.6,917.9L311.9,917.9L309.2,916.3L306.4,916.1L303.6,917.3L300.8,917.5L300.6,920.2L297.9,922.3L300.5,925.7L299.4,928.2L297,930.3L296.2,932.8L297.2,935.8L294.7,937.9L294.5,940.6L291.4,940.5L289.9,943.5L287.4,944.6L285.4,946.6L282.9,947.6L279.3,946.6L277.9,949.9L274.5,949.2L272.2,950.6L270.4,953L268.6,955.4L264.9,954.2L263.4,957.1L261,958.4L258.2,958.1L255.4,957.8L253.2,954.7L250.1,955.9L247.3,955.3L245.9,952.3L245.9,949L245.2,945.8L242.1,946.7L239.6,944.3L236.6,944.5L233.7,943.7L232.9,941L234.8,938.3L235,935.6L231.9,932.8L233.7,930.1L235.2,927.4L235.7,924.1L237.9,921.7M247.3,955.3L243.7,956.1L242.1,959.4M231.6,994L228.5,993.6L226,996.2L223,996.8L220.2,997.8L217,997.2L213.7,997L212.8,1000.6L209.9,1001L207.9,1002.8L205.3,1003.7L203.3,1005.5L200.6,1004.8L197.9,1003.9L195,1004.5M1205.5,881.9L1208.5,883L1208.5,886.3L1209.5,888.8L1211.8,890.3L1209.4,892.4L1211,896.1L1208.9,898.3L1207.6,900.8L1210.2,902.4L1211.5,905.2L1213.8,907L1214.7,910.3L1218.3,910.9L1220,913.3M1113.3,928L1113.9,931.2L1110.6,932.8L1111.4,936.1L1108.7,937.9L1108.1,940.6L1110.5,942.7L1111.8,945.9L1115,947L1117.5,949M1111.3,974.1L1113,977.5L1115.4,980.4L1118.4,980.3L1120.8,982.1L1123.8,981.7L1126,984.3L1128.9,984.2L1132,983.5L1134.3,985.6L1136.7,984L1139.4,983.8L1142.4,984.4L1144.5,981.7L1147.6,982.9L1150,981.4L1150.5,984.4L1153.6,986.3L1152.6,989.8L1155.7,991.8L1155.3,995.1M1295.3,773L1298.3,774.8L1298.7,778.4L1301.7,780.2L1302.7,783.4L1302,786.6L1304.1,789L1304.8,791.8L1307.6,793.4L1308.7,796.9L1313,796.8L1314.2,800.2M1355.1,802.3L1356.5,805.3L1360.5,806.1L1361.3,809.6L1364.2,811.3L1363.4,815.5L1366.6,817L1369.3,815.8L1370.6,812.8L1372.6,810.8L1376.9,811.7L1378.1,808.6L1380.9,807.9L1383.7,807.2L1385,803.6L1388.4,804L1390.7,802.3L1391.2,799.5L1391.8,796.7L1393.2,794.2L1394.9,791.8L1395,789.2L1393.8,786.6L1393.6,784L1393.8,781.3L1390.9,780.9L1389.6,778.2L1392.9,777.7L1394.9,775.1L1397.1,776.6L1399.3,778.2L1402.3,778L1404.1,780.5L1407.1,780.4L1409.5,781.3L1411.9,782.5L1414.5,783.3L1416.8,784.7L1419.7,784.3L1422.1,785.5L1425.1,787.1L1427,789.4L1428.3,792.2L1430.5,794.3L1429.6,798.6L1432.6,800.2L1435.2,799.6L1438,800.1L1440.1,796.8L1443.1,798.1M1499.6,814.9L1502.8,814.8L1505.9,816.3L1509.1,815.3L1512.2,814.9L1512.9,817.8L1513.2,820.7L1515,823.5L1515.2,826.4L1514.3,829.5L1514.5,832.8L1512.7,835.3L1511.6,838.1L1508.8,840.2L1510.3,844L1508,846.3L1507.2,849.4L1505.6,852L1504.4,854.8L1501.7,856.8L1503.3,859.3L1504.4,861.9L1504.3,864.9L1506.8,867.1L1505.9,870.4M1376,908.1L1379.4,906.5L1380.2,902.9M1409.5,913.3L1409.6,910.6L1412.2,908.4L1411.8,905.6L1412.3,903L1412,900.2L1414.3,898L1411.8,894.7L1413.7,892.4L1413.9,889.6L1412,887.2L1413,884.2L1412.7,881.5L1410.1,879.2L1409.8,876.5L1408.7,874L1409,871.2L1409.5,868.3M1478.7,840L1478.9,843.2L1476.5,845.2L1473.3,846.7L1474.1,850.3L1472.4,852.6L1474.7,854.2L1476,856.7L1478.3,858.3L1478.7,861.5L1480.5,863.6L1482.9,865.2L1484.4,867.9L1484.4,870.8L1483,873.9L1483.9,876.7M1554.1,863.1L1553.3,866.5L1555.3,869.1L1556.9,871.8L1555.7,875.3L1558.3,877.7L1561.3,879.2L1562.5,881.8L1561.6,885.6L1564.2,887.3L1566.8,889.1L1566.7,892.4L1566.6,895L1565.1,897.7L1567,900.3L1567.8,902.8L1568.9,905.4L1569.1,908L1566.1,910.8L1567.7,913.3M1315.2,874.6L1312.8,876.2L1309.5,876.3L1308.8,880.7L1306,881.7L1303.9,883.9L1300.6,884L1298.3,886L1296.5,888.8L1293.5,889.8L1290.7,891L1288,892.4L1285.3,893.9L1282.6,895.7L1279.7,896.6L1275.8,894L1273.3,896.6L1273.8,899.7L1271.9,902.2L1271.6,905.1L1270.4,907.7L1271.4,910.9L1269.1,913.3L1270.4,916.9L1270.2,920.7M1270.2,919.6L1267,920.6L1264.3,918.4L1261.6,916.5L1258.4,917.2L1255.6,915.7L1252.4,916.5L1249.6,916.4L1246.9,916.1L1245.3,913.2L1242.8,912.3L1240.5,911L1237.8,910.6L1235.6,909.2L1232.6,909.3L1229.6,909.6L1226.5,909.5L1224,912.4L1221,912.3L1218.4,910.9L1216.7,908.1L1213.1,908.5L1210.4,907.2L1208.3,905L1206.3,902.9L1205.3,899.5L1208.4,896.8L1209.1,893.6L1208.4,890.3L1205.8,888.7L1203.2,887.1L1201,885.1L1200,881.9M1380.2,907.1L1381.7,910L1382.8,913.1L1382,916.4L1382.3,919.6L1381.7,922.3L1382.7,925.1L1383.1,927.9L1380.3,930.3L1382.5,933.3L1381.6,935.9L1380.2,938.5L1382.3,940.5L1383.4,943.1L1385.7,945.1L1386,948.1L1387.8,950.4L1388.6,953.2L1389.4,955.8L1391.6,957.5L1392.1,960.3L1394.4,961.9L1395.6,964.2L1398,965.7L1397.1,968.6L1397,971.6L1394.9,974.3L1394.9,977.3L1394.9,980.4L1393.7,983.8L1395.1,986.8L1395.7,990L1397,993M1250.3,936.4L1253.6,936L1256.4,938.6L1259.8,937.5L1262.9,938.5L1265.7,940.2L1267.6,942.6L1268.9,945.3L1270.3,948L1271.2,951.1L1273.4,952.7L1276.5,952.4L1279.2,952.7L1280.6,956.2L1283.4,956.5L1285.9,957.3L1286.1,960.7L1284.6,963.1L1282.9,965.4L1280.8,967.4L1277.7,968.9L1277.5,972M351.1,1103.8L347.9,1103.7L346.2,1106.2L344.6,1108.9L341.9,1109.6L339.7,1111.2L337.4,1112.7L335.7,1115.2L332.3,1114.7L330.1,1116.4L327.1,1115.7L324.4,1116.6L322,1119.5L318.9,1118.4L316.4,1120.2L313.3,1119.5L311.5,1117.4L308.6,1116.8L307.3,1113.7L304.7,1112.7L301.8,1112.2L299.5,1114.1L296.7,1113.9L293.7,1112.2L291.4,1114.4L288.8,1115.1L286.1,1115.3L283.5,1116.4L280.4,1116.2L277.5,1116.5L275.3,1118.8L272.1,1118.1L269.8,1120.4L267.2,1121.6L265.5,1124.2L261.8,1123L260.1,1125.6L258.2,1128L254.2,1126.1L252.6,1129L251.7,1132.3L248.2,1132.9L246.3,1135.3L243.2,1136.3L242.4,1139.7L240,1141.5L238.2,1144.2L235.6,1145.7L233.3,1147.7L230.1,1148.3L228.1,1150.7L225.3,1152L222.3,1152.9L220.9,1156.2L218.1,1157.5L215.8,1159.5L212.8,1160.4L209.3,1159.7L206.7,1161.3L203.9,1162.3L201.4,1164.2L198.9,1166L196,1166.7L196.5,1169.6L193.1,1171.3L193.5,1174.2L194.3,1177.3L191.8,1179.2L189,1181.2L185.9,1182.3L182.2,1180.8L179.2,1182.4L176,1181.8L174,1185.2L170.5,1183.9L168.3,1186.5L165.1,1186.1L162.5,1187.6L159.4,1187L156.8,1188.6L153.8,1188.6L151.4,1190.9L149,1192.9L145.7,1191.8L143.4,1193L141,1194L139.4,1196.6L136.7,1197.2L134.2,1198.1M346.9,1193.9L345.4,1196.3L344.2,1199L341.5,1200.2L339.3,1201.9L337.1,1203.5L334.5,1204.8L333.3,1207.6L329.8,1207.9L328.3,1210.2L326,1211.9L324.7,1214.4L322.8,1216.4L321.1,1218.6L318.5,1219.8L317.7,1222.9L315.1,1224.2L313.3,1226.4L310.8,1227.8L309.1,1230.2L307.6,1232.8L306.1,1235.3L303.9,1237.3L301.1,1238.5L298.7,1240L296.2,1241.1L293.5,1241.8L291.2,1243.2L289.6,1245.9L286.1,1245.1L285,1248.6L281.8,1248.5L279.8,1250.5L279.6,1253.6L275.9,1254.1L274.6,1256.4L272.1,1257.8L270.8,1260.1L269.8,1262.6L267.8,1264.4L267.2,1267.2L265.1,1269.2L264.1,1271.9L264,1275.1L261.6,1277L259,1278.7L258.9,1281.9L257.7,1284.5L253.9,1284.4L253.2,1287.4L251.7,1289.7L250.9,1292.6L248,1293.4L246.7,1295.8L243.6,1296.4L242.1,1298.7L239.5,1300.3L238.2,1302.6L237.9,1305.5L237.4,1308.2L237,1311L233.8,1312.3L233,1314.9L231.1,1316.9L230.6,1319.6L228.4,1321.4L225,1321.2L223.8,1324.8L221.2,1325.9L218.8,1327.4L215.7,1327.6L212.7,1328.1L211.7,1331.9L208.6,1332.2L205.9,1332.8L203.3,1333.4L201.7,1336.3L199.5,1337.9L196.3,1337.2L193.9,1338.5L191,1339.3L188.8,1340.9L187.1,1343.1L185.7,1345.7L183.6,1347.4L181.3,1349L179.8,1351.3L177,1352.9L177.5,1356.6L176.1,1359L173.5,1360.7L170.9,1362.4L170.9,1365.7L170.3,1368.7L169.2,1371.4L167.4,1373.6L164.4,1375L162.7,1377.3L162.4,1380.5L160.8,1382.9L158.3,1384.6L156.8,1386.8L155.5,1389L154.2,1391.2L152.9,1393.5L154,1397L151.4,1398.6L149,1400.3L147.4,1402.4L147.8,1405.5L148.5,1408.3L146.5,1411.1L147.8,1413.9M353.2,1405.5L354.2,1402.5L355.8,1399.5L353.7,1395.9L355.3,1393L358.2,1391.9L361,1390.7L362.7,1387.9L364.5,1385L367.8,1384.6L370,1382.5L372.6,1381.3L375.1,1380L377.8,1379.2L381.1,1379.8L383,1376.9L386.5,1378.2L388.8,1376.2L391.6,1375.6L394.1,1374.4L396.4,1373L398.5,1371.3L401.2,1370.6L403.6,1369.3L405.3,1366.8L408.3,1366.5L409.7,1363.6L413.3,1362.5L416.7,1362.8L420,1364.7M134.2,1198.1L136.2,1200.7L136,1203.6L135.7,1206.4L135.7,1209.3L135.3,1212.2L136.3,1214.9L132.1,1215.9L134,1218L137.6,1217.2L139.4,1219.5L141.5,1221.2L143.9,1222.5L146.6,1223.2L149.5,1223.5L151.1,1226.4L154,1226.8L156.2,1228.5L158.9,1228.1L161.1,1226.4L164.2,1227L166.6,1225.8L167.8,1221.8L170.9,1222.2L173.7,1222.1L176.1,1220.9L177.9,1218.3L180.1,1216.7L183.1,1216.9L185.5,1215.9L185.5,1213.2L186.6,1210.7L189.5,1210.5L192.4,1210.1L194.3,1207.1L197.1,1206.5M112.2,1190.8L114.9,1190.2L117.4,1191.3L120,1192.3L122.7,1191.8L122.3,1194.9L123.8,1197.5L124.8,1200.2L127.1,1198.4L130,1198.1L129.7,1195.4L131.8,1193L130.9,1190.3L131.1,1187.6L133.9,1185.4L137.3,1186.3L140.3,1185.1L143.6,1185.5L142.5,1189.1L142.6,1192.9M954.1,1078.7L956.8,1077.7L959.8,1077.5L961.9,1075.4L964.4,1074.1L966.7,1072.4L966.3,1069L967.4,1066.3L971.2,1064.7L971.2,1061.5L974,1059.5L975,1056.7L975.1,1053.5L977.6,1051.6L976.7,1048.3L979.9,1046.7L980.1,1043.8L980.3,1041L982,1044.2L985.5,1045.1L988.6,1044.8L990.6,1048L993.7,1047.6L995.7,1050.4L998.4,1051.4L1002,1049.5L1004.4,1051.4L1005.7,1053.9L1007.3,1056.3L1007.6,1059.2L1008.6,1061.9L1011.7,1060.8L1014.9,1062L1017.9,1059.7L1021.2,1060.9L1024.2,1061L1026.1,1063.2L1029.2,1063.1L1031.1,1065.3L1032.7,1068.3L1035.8,1068.2L1037.7,1071L1041.7,1070.3L1044.6,1071.3L1046.3,1074.5L1046.6,1077.8L1047.5,1080.8L1050.5,1082.9L1052.9,1084.8L1056.4,1084.8L1058.9,1086.7L1061,1089.1L1064,1089.8L1066.5,1089L1067.9,1084.9L1070.6,1084.7L1073.5,1085L1075.4,1086.9L1077.5,1088.6L1077.7,1091.8L1080.4,1093L1080.9,1096.1L1084.4,1096.7L1084.9,1099.7L1085.1,1102.8L1088.2,1103.8M891.2,1234.8L890,1238.3L890.2,1242.1L892.9,1244L894.1,1246.7L893.6,1250.2L895.4,1252.6L893.7,1256L891.2,1258.9L888.4,1261.4L885,1263.1L884.3,1265.9L883.3,1268.6L882.9,1271.4L880.1,1273.1L881.5,1276.7L879.2,1278.6L879.2,1281.5L877.1,1283.5L875.3,1285.6L876.2,1289L873.9,1290.8L872,1292.9L873.3,1296.4L869.5,1297.6L869.6,1300.6L868.2,1302.9L865.7,1303.9L863.1,1304.6L860.4,1305L859.1,1308.6L856,1308.1L853.5,1309.2L853.8,1312.5L851.4,1314.4L850.3,1317L850.1,1320L847.2,1321.7L849,1324.6L849.3,1328L847.7,1330.2L845.4,1331.8L844.1,1334.3L843.9,1337.4L847,1338.7L847.8,1341.3L848.4,1343.9L850.4,1345.8L852.7,1348L855.6,1346.9L852.6,1348.6L850.9,1351.2L851.6,1355.1L849.3,1357.3L847.8,1360.4L843.5,1360.3L843.3,1364.8L839.9,1365.7L838.8,1368.4L836.5,1370.6L835.9,1373.5L834.7,1376.2L836.7,1378L836.9,1381.4L839.9,1382.5L840.1,1385.3L838.7,1387.7L837.1,1390.1L839.2,1393.2L837.8,1395.7L836.8,1398.2L836,1400.8L835.7,1403.4L837.8,1405.8L838,1408.9L840.4,1411.1L841.4,1413.9L841.5,1417L842,1420M1180.4,1102.8L1182.3,1105.1L1179.9,1108.4L1183.2,1110.4L1183.7,1113L1182.5,1116.1L1183.3,1118.7L1185.7,1120.9L1184.2,1124L1185.6,1126.4L1186.7,1129L1186.2,1131.8L1184.4,1134.2L1184.9,1137.3L1183.9,1140L1180.8,1142L1181.5,1145.2L1180.4,1147.8L1177.5,1149.7L1178.3,1153.7L1176.9,1156.4L1174.1,1158.3M1346.7,1020L1349.5,1021.6L1348.7,1025.3L1350.7,1027.4L1353.9,1028.9L1355.2,1031.4L1355.1,1034.7L1356.3,1037.6L1359.3,1038.8L1360.3,1042L1363.4,1043M267.2,1484.8L270.1,1482.5L273.6,1484.1L276.4,1481.8L279.8,1482.7L281.3,1485.4L283.7,1487.2L286.1,1489L286.4,1491.9L288.5,1494.3L288.2,1497.3L290.2,1500L294,1498.1L296.7,1498.9L298.7,1501.5L300.3,1504.1L304,1504.6L306.1,1506.7L307.1,1509.9L308.5,1512.4L309.1,1515.2L309.5,1518.1L311.3,1520.3L313.3,1522.5L316.5,1522.2L318,1525.4L320.1,1527.3L323.8,1526.1L325.1,1529.5L328,1529.8L330.1,1531.7L331.2,1534.1L333.4,1535.8L332.2,1539.5L334.3,1541.3L336.8,1542.7L338.6,1545.2L341.9,1545L344.9,1545.2L346.9,1547.6L349.9,1547.9L352.3,1549.3L353.7,1552.9L357.4,1551.7L359.4,1553.9L362.4,1555L363.5,1557.7L366,1559.2L366.8,1562.1L368.1,1564.7L369.8,1566.9L372,1568.6L374.6,1570.5L376.2,1573L376.5,1576.2L377.4,1579.1L379.7,1581.2L380.8,1584L382.5,1586.4L382.5,1589.7L386.5,1591L387.5,1593.8L388.1,1596.9L389.4,1599.6L390.9,1602.1L391.9,1605.1L394.9,1606.1L396.7,1608.3L399.5,1609.6L400.6,1612.5L403.4,1613.6L405.8,1615.4L408.8,1613.9L411.6,1613.7L413.9,1615.7L416.7,1617.6L418.4,1620.3L420,1623.1M376.2,1382.1L373.1,1381.4L370.8,1384.4L367.7,1383.7L364.9,1384.4L361.8,1383.9L359.4,1386.3L359,1389.3L355.5,1389.9L355.2,1392.9L353.2,1394.7L354.7,1397.5L352.7,1400.4L351.9,1403.3L353.2,1406.2L351.2,1408.3L351,1411.8L346.5,1411.9L346.5,1415.5L344,1417.2L342.7,1419.8L340,1421.3L339.1,1424.6L336.6,1426.3L334.8,1428.7L333.3,1431.4L331.3,1433.6L328,1434.5L325.1,1434.3L322.7,1436L319.6,1434.9L317.6,1438.5L314.7,1438.2L312.1,1439.3L309.2,1438.7L306.1,1437.2L303.2,1438L300.2,1437.8L297.4,1439.5L294.5,1439.7L294.6,1443.1L292.3,1445.3L291.7,1448.3L291.1,1451.4L288.2,1453.3L285.6,1454.8L283.6,1457.4L281.5,1459.6L278.1,1460L275.6,1461.7L273.2,1463.7L272.3,1466.2L273.2,1469.3L273.7,1472.3L271.4,1474.3L268.5,1476.9L267.2,1480.6L265.5,1483.1L262.4,1482.8L260.8,1485.6L256.8,1483.7L255.2,1486.4L253,1488L250.5,1489L249.3,1491.6L246.7,1493L243.7,1494.1L243.5,1497.5L242.3,1500.2L239.7,1501.5L237.9,1503.6L235.3,1505.3L235.9,1508.6L233.9,1510.6L231.7,1512.5L232.5,1515.9L229.7,1517.5L229.5,1520.4L227.7,1522.4L227.1,1525.5L225.6,1527.8L221.3,1527.7L220.9,1530.9L219.1,1533L217.7,1535.5L214.7,1536.9L214.3,1540L213.1,1542.5L212.3,1545.4L209.3,1546.8L208.6,1549.7L208.6,1552.5L207,1554.8L205.1,1557L204.8,1559.7L204.4,1562.3L203.6,1565.3L201.6,1567.2L198.3,1568.1L196.4,1570.1L196.4,1573.8L192,1573.6L192.6,1577.9L189.7,1579.1L191,1581.7L191.3,1584.3L189.9,1586.9L189.7,1589.5L188.2,1592.2L186.4,1594.6L187.8,1598.4L184.8,1600.4L185.9,1604L183.4,1606.3L181.8,1608.6L181.5,1611.7L179.7,1613.9L179.3,1616.9L175.7,1618.1L175.1,1621L175.9,1623.9L174,1626.2M78.7,1494.2L79.4,1497.3L81.8,1499.4L83.2,1496.9L85.8,1495.5L87.9,1493.5L89.3,1491L91.2,1489L94.3,1489.5L96.9,1488.9L98.9,1485.8L101.7,1485.8L104,1488.3L104,1492.2L107,1494.2M204.4,1516.2L203.2,1519L200.4,1519.9L198.3,1521.7L194.8,1521.8L194.8,1526L191.8,1526.7L190.2,1529.3L188.8,1531.9L187.9,1534.8L189.4,1538.5L185,1540.1L185.5,1543.4L186.9,1546.1L185.6,1549.3L187.6,1551.8L190.9,1551.9L193.9,1550.5L197.3,1551.5L200.2,1549.7L203,1550.4L205.8,1549.1L208.6,1549.7M174,1626.2L171.8,1627.9L171.1,1630.6L169,1632.3L167.9,1634.7L165.9,1636.5L166.5,1640.1L164,1641.5L164.2,1644.8L160.2,1645.3L158.9,1647.5L158.3,1650.3L155.3,1650.2L154.1,1654L150.9,1653.3L148.5,1654.6L146.6,1656.9L143.6,1656.6L142.3,1659.5L138.2,1659.5L136.4,1661.9L135.9,1665.7L132.3,1666.2L131.1,1669.2L129.6,1671.7L129.7,1674.7L127.8,1677.1L128.4,1680.3L127.4,1682.9L127.4,1685.9L124.8,1688L122.3,1689.1L120.4,1690.9L117.9,1692L116.4,1694.3L114.4,1696.1L112.6,1698L109.6,1698.3L108,1700.6L107.6,1703.7L106,1706.4L104.5,1709.1L104.9,1712.4L103.8,1715.3L101.1,1716L100,1719.5L97.3,1720.2L93.8,1719.7L92.9,1723.4L90.7,1725.1L88.5,1726.6L84.7,1725.6L82.9,1727.8L80.8,1730.3L77.7,1730.1L75.1,1731.2L72,1730.9L69.8,1733.1L67.1,1734L65.2,1736.8L61.9,1736.2L59,1736.6L56.7,1738.1L54.7,1740L51.9,1740.7L50,1742.8L47.5,1743.9L44.9,1744.8L43.1,1747L41,1748.8L38.7,1751.1L35.4,1748.4L32.7,1748.5L30.7,1752L28.2,1753L25.4,1752.5L22.9,1753.9L20,1753M232.7,1694.3L230.5,1696L228.6,1698.2L225.9,1699L223.9,1701L220.8,1700.8L218.6,1702.5L215.4,1702.3L213.6,1704.7L211.6,1706.7L208.6,1706.9L205.5,1707.6L203.9,1709.7L202.7,1712.2L202.3,1715.3L200,1716.8L198.1,1718.6L196.4,1720.6L195.7,1723.6L192.7,1724.4L190.1,1725.5L188.5,1727.7L186.3,1729.2L185.5,1732L183,1733.2L180.7,1734.6L178.4,1735.9L176.2,1737.5L174.4,1739.5L173.2,1742.3L170.5,1743.3L168.4,1745L165.8,1746L164.6,1748.8L161.7,1748.9L159.5,1750.8L157.3,1752.7L154.6,1753.1L152.1,1754.3L149,1753.7L146.3,1754.3L144.5,1757.3L141.5,1757.2M242.1,1755.1L244.8,1754.7L247.7,1755.4L250.1,1753.2L252.6,1751.8L255.6,1753.2L258.2,1751.9L261,1751.9L264,1750.3L267.2,1750.6L270.2,1749.3L273.5,1750.9L276.4,1751.4L277.9,1753.8L280.7,1754.4L281.9,1757.2M621.2,1480.6L621,1484.1L617.6,1485.5L614.7,1487.2L613.4,1489.9L612.8,1493.1L611.5,1495.7L608,1496.3L608.8,1500.5L606.8,1502.4L605.5,1504.8L602.3,1505.7L601.4,1509L597.8,1509.6L595.3,1511.3L593.9,1514.1L593.3,1516.9L591.4,1519.4L591.8,1522.5L590.3,1525.1L587.1,1526.6L586.4,1529.8L585,1532.5L583.4,1535.1L585.2,1538L584.8,1541.3L585.2,1544.4L585.5,1547.6L583.1,1549.5L583.6,1553L582,1555.3L578.9,1556.8L580,1560.7L577.2,1562.3L576,1564.9L576,1567.9L573.4,1569.9L573,1572.8L574.2,1575.1L577.3,1576L577,1579.6L579.2,1581.2L581.6,1583L583.9,1584.9L584.6,1588.4L587.6,1589.5L586.4,1592.1L588.1,1594.8L586.6,1597.4L588.5,1600.1L586.9,1602.6L588.4,1605.3L586.2,1607.8L586.6,1610.5L588.2,1613.2L591,1613.6L594.5,1612.9L596,1615.7L593.4,1617.3L590.8,1618.9L591.3,1621.5L591.9,1624.2L593.4,1626.7L593.4,1629.5L593.2,1632.3L595.1,1634.8L593.9,1637.7L593.4,1640.6L595.2,1643.3L595.2,1646.1L596.2,1648.8L595.5,1651.6L595,1654.5L591.4,1655.3L590.6,1659.3L587.6,1660.8L588.6,1664.2L587.2,1667.2L584.4,1669.9L585.5,1673.3L586.4,1676.5L584.7,1679.1L584.5,1682L582.1,1684.4L582.2,1687.4L581.3,1690.1L579.1,1692.4L575.5,1690.5L573.4,1693.2L570.2,1692.8L567.7,1694.3L568.2,1697.1L567,1700.1L568.8,1702.7L568.1,1706.8L564.6,1709L565.6,1712.1L565.4,1715.3L564.6,1718.4L562.3,1720.1L559.1,1718.9L556.9,1720.8L554.5,1722.2L551.8,1722.4L548.8,1722L546.6,1723.8L544.1,1725.1L541.5,1725.7L540.9,1728.3L541.1,1731L541.9,1733.6L541.5,1736.2L543.9,1739.2L545.7,1742.5L549.3,1742.2L552,1744.6L549.3,1746.2L545.8,1746.1L543.6,1748.8L542.1,1751.7L539.8,1754L537.3,1756.1M790.9,1551.8L790.6,1554.5L790.8,1557.2L792.6,1559.8L791.7,1562.6L790.7,1565.3L793.5,1567.9L791.9,1570.7L792.9,1573.7L790,1576.1L789,1578.8L791.7,1582.1L791.2,1584.9L788.7,1587.4L789.5,1590.4L787.6,1592.9L787.7,1595.8L790.9,1598.2L790.9,1602.1L790.2,1604.7L790.4,1607.5L789,1609.9L786.8,1611.9L786.7,1614.7L787,1617.8L786,1621.1L787.7,1624.1L789.4,1627.6L793,1629.3M420,1622L422.5,1623.5L424.7,1625.3L428.3,1624L430.5,1626.2L433.1,1626.4L435.8,1626L438.3,1627.5L441,1627.2L444,1628L444.2,1632.1L447.6,1632.5L448.6,1635.6L451.4,1636.7L452.4,1639.8L454.5,1641.7L458,1642L458.9,1645.2L461.9,1646.1L464.4,1648.6L468.1,1646L470.5,1648.9L473.5,1649.5L476.6,1649.3L478,1651.9L479.9,1654.3L481.5,1656.9L481.9,1660L482.9,1662.9L482.1,1666.3L484.9,1668.6L486.3,1671.4L485.8,1674.7L487.1,1677.5L488.8,1679.5L489.8,1682L491.9,1683.7L494,1685.4L496.3,1687L495.5,1690.8L497.6,1692.6L499.6,1694.3L502,1696.4L502.8,1699.5L504.1,1702.3L505.9,1704.8L508.5,1705.1L511,1706.8L513.7,1706.6L516.4,1705.8L519.2,1707.4L521.4,1709.6L523,1712.4L526.5,1713.3L527.9,1716.3L531.3,1715.7L531.4,1711.2L534.8,1710.6L536.6,1708.1L539.4,1706.9L542,1707.5L545,1706.2L547.5,1707.4L549.9,1709L552.7,1710.8L555.5,1710.1L558.3,1709L561.1,1710.3L562.6,1713L564.6,1715.3M426.3,1757.2L428.2,1754.6L430.9,1754.1L433.5,1753.5L436.9,1755.6L438.9,1753L440.4,1750.4L442.4,1748.1L444,1745.5L447.2,1744.6L450.1,1742.9L453.2,1746L456.1,1744.9L459.1,1745.3L461.9,1743.5L463.9,1745.8L466.5,1746.6L469.8,1745.8L472.4,1746.6L474.5,1748.8L476.7,1751.2L478.7,1753.6L478.7,1757.2M836.8,1380L839,1382.4L838.1,1385.9L839.9,1388.4L839.2,1391L840.1,1394.2L838.3,1396.5L836.8,1398.9L836.6,1401.9L837.6,1404.4L839.1,1406.7L840.1,1409.3L842,1411.4L841.2,1414.6L843.2,1417.1L844.1,1419.8L845.6,1422.3L845.9,1425.2L848,1427.4L848.3,1430.3L850.2,1433L849.5,1435.8L849,1438.7L850.4,1441.4L850.8,1444.2L849.3,1447.1L851.6,1449.1L852.7,1451.8L852.2,1455.5L855.2,1457.1L856.7,1459.6L858.5,1462.1L861.1,1463.2L864,1463.8L864.5,1466.8L866.3,1469.5L866.9,1472.5L868,1475.4L868.2,1478.5L869.9,1480.9L872.4,1482.7L869.3,1484.2L867.4,1486.8L866.1,1490L866.3,1492.8L865,1495.2L868.9,1496.2L871.3,1499.4" fill="none" stroke="#828282" stroke-width="3.3" stroke-linejoin="round"/>
<path d="M1501.7,220C1500,222.4 1493.9,229.4 1491.3,234.7C1488.6,239.9 1486.4,245.8 1486,251.4C1485.7,257 1487.9,263.3 1489.2,268.2C1490.4,273.1 1493.3,275.5 1493.3,280.8C1493.3,286 1489.9,296.5 1489.2,299.6M545.7,898.7C548.5,900.8 555.5,907.4 562.5,911.3C569.5,915.1 579.9,920.2 587.6,921.7C595.3,923.3 601.9,921.6 608.6,920.7C615.2,919.8 621.9,917.4 627.4,916.5C633,915.6 639.7,915.6 642.1,915.4M650.5,921.7C653.3,923.8 661,930.6 667.2,934.3C673.5,938 681.6,941.6 688.2,943.7C694.8,945.8 703.9,946.3 707.1,946.9M964.6,917.5C965.6,915.8 967,909.9 970.9,907.1C974.7,904.3 982.4,903.9 987.6,900.8C992.9,897.6 997.8,891.7 1002.3,888.2C1006.8,884.7 1010.7,881 1014.9,879.8C1019.1,878.6 1025.3,880.7 1027.4,880.9M1174.1,835.8C1175.2,837.9 1178.3,844.6 1180.4,848.4C1182.5,852.2 1185.3,855 1186.7,858.9C1188.1,862.7 1188.4,869.3 1188.8,871.4M1184.6,817C1186.7,816.1 1191.3,812.9 1197.2,811.7C1203.1,810.5 1216.2,810 1220,809.6M725.6,940.7C729.4,938.5 741.9,930.6 748.2,927.5C754.5,924.3 760.8,922.8 763.3,921.8M835,940.7 L846.3,933.1M870.8,927.5C873,928.7 879.3,929.7 884,935C888.7,940.4 894.1,952.9 899.1,959.5C904.1,966.1 909.1,971.5 914.2,974.6C919.2,977.8 924.9,978.7 929.3,978.4C933.7,978.1 938.7,973.7 940.6,972.7M1163.6,1177.2C1160.8,1178.5 1152.5,1183.1 1146.9,1185.5C1141.3,1188 1135,1189.4 1130.1,1191.8C1125.2,1194.3 1119.6,1197.4 1117.5,1200.2C1115.4,1203 1115.4,1205.8 1117.5,1208.6C1119.6,1211.4 1125.6,1214.9 1130.1,1217C1134.6,1219.1 1141.3,1218.7 1144.8,1221.2C1148.3,1223.6 1150,1229.9 1151.1,1231.6M1077.7,1248.4C1080.2,1246.6 1086.5,1239.3 1092.4,1237.9C1098.3,1236.5 1107.1,1238.6 1113.3,1240C1119.6,1241.4 1127.3,1245.2 1130.1,1246.3M1042.1,1323.8C1039.3,1325.6 1030.9,1330.1 1025.3,1334.3C1019.8,1338.5 1012.8,1343.7 1008.6,1349C1004.4,1354.2 1003.7,1360.5 1000.2,1365.7C996.7,1371 993.2,1377.3 987.6,1380.4C982,1383.5 970.2,1383.9 966.7,1384.6" fill="none" stroke="#c4c4c4" stroke-width="2.6" stroke-linejoin="round" stroke-linecap="round"/>
<path d="M1040,892.4L1038.1,896.4L1037.9,900.8L1040,903.2L1040.4,906.5L1042.1,909.2L1039.7,911.4L1038.8,914.5L1037.9,917.5L1037.4,920.8L1035.6,923.4L1033.7,925.9L1033.7,929.4L1036.7,931.9L1036.6,935.4L1037.9,938.5L1039.7,941.5L1041.8,944.4L1042.3,948.1L1044.2,951.1L1047.6,952.7L1050,955.4L1052,958.4L1055,960.3L1056.8,963.6M1056.8,963.6L1071.4,993L1086.1,1020M20,1126.9L175.1,1123.7L176.1,1134.2L170.9,1135.2L173,1142.6L178.2,1143.6M1086.1,1020L1101.8,1048.3M1101.8,1048.3L1101.5,1052.1L1099.8,1055.3L1098.9,1058.9L1096.6,1061.9L1097.9,1065L1098,1068.7L1100.4,1071.4L1101.8,1074.5L1101.1,1078.7L1099.7,1082.9L1100.5,1086.9L1104.2,1089.4L1105,1093.3L1105,1096.9L1103.5,1100.2L1103.9,1103.8L1107.2,1105.6L1108.1,1109.5L1111.3,1111.4L1113.3,1114.3L1116.1,1116.1L1117.2,1119L1118.5,1121.8L1120.3,1124.2L1121.7,1126.9L1121.9,1130L1123.4,1133.1L1123.2,1136.2L1122.8,1139.4L1125.2,1141.6L1128.6,1141.4L1131.4,1142.5L1134.3,1143.6L1138.2,1146L1140.6,1149.9L1143.5,1151.3L1145,1154.6L1148,1155.9L1150.8,1157.4L1154.1,1158.3L1156.1,1160.9L1158.1,1163.5L1161.2,1164.7L1163.6,1166.7" fill="none" stroke="#fff" stroke-width="5.6" stroke-linejoin="round" stroke-linecap="round"/>
<path d="M420,471.4C417.9,472.8 411.1,475.3 407.6,479.8C404.2,484.4 402.4,495.4 399.3,498.7C396.1,502 389.1,499 388.8,499.7C388.4,500.4 394.4,500.6 397.2,502.9C400,505.1 407.3,509.2 405.5,513.3C403.8,517.5 389.1,522.1 386.7,528C384.2,534 393.3,542.3 390.9,549C388.4,555.6 375.5,562.6 372,567.8C368.5,573.1 368.2,576.2 369.9,580.4C371.7,584.6 383.2,589.8 382.5,593C381.8,596.1 367.1,596.5 365.7,599.3C364.3,602 373.4,606.3 374.1,609.7C374.8,613.2 370.6,618.3 369.9,620M542.6,222.1C544.5,222.8 550.1,223.8 554.1,226.3C558.1,228.7 563.7,232.9 566.7,236.8C569.6,240.6 571.7,245.1 571.9,249.3C572.1,253.5 568.9,258.4 567.7,261.9C566.5,265.4 564.4,267.1 564.6,270.3C564.8,273.4 568.8,277.6 568.8,280.8C568.8,283.9 566.3,287.6 564.6,289.1C562.8,290.7 560,287.7 558.3,290.2C556.5,292.6 556.2,301.5 554.1,303.8C552,306.1 548.2,304.9 545.7,303.8C543.3,302.8 541.4,297.9 539.4,297.5C537.5,297.2 534.5,298.9 534.2,301.7C533.8,304.5 537.5,311.3 537.3,314.3C537.2,317.3 535.6,319.5 533.1,319.5C530.7,319.5 526.2,314.1 522.7,314.3C519.2,314.5 515,317.3 512.2,320.6C509.4,323.9 504.9,331.9 505.9,334.2C507,336.5 516.2,333.1 518.5,334.2C520.8,335.2 521.3,337.9 519.5,340.5C517.8,343.1 511.3,347.5 508,349.9C504.7,352.4 502.8,354.8 499.6,355.1C496.5,355.5 490.4,350.4 489.1,352C487.9,353.6 490.5,360.9 492.3,364.6C494,368.2 499.4,370.5 499.6,374C499.8,377.5 496.7,382.9 493.3,385.5C490,388.2 482.7,387.6 479.7,389.7C476.7,391.8 474.7,395.7 475.5,398.1C476.4,400.5 483.7,402.1 485,404.4C486.2,406.7 485,409.8 482.9,411.7C480.8,413.6 475,413.8 472.4,415.9C469.8,418 466.1,422 467.1,424.3C468.2,426.6 476.1,426.6 478.7,429.5C481.3,432.5 484.3,439.8 482.9,442.1C481.5,444.4 474.3,441.4 470.3,443.2C466.3,444.9 462.6,449.3 458.8,452.6C454.9,455.9 451.6,460.1 447.2,463.1C442.9,466 437.1,468.5 432.6,470.4C428,472.3 422.1,473.9 420,474.6M369.9,620C371,621 374.5,622.8 376.2,626.3C378,629.8 380.7,637.5 380.4,641C380,644.4 373.8,644.4 374.1,647.2C374.5,650 384.2,655.6 382.5,657.7C380.7,659.8 367.8,658.4 363.6,659.8C359.4,661.2 357.3,662.6 357.3,666.1C357.3,669.6 362.9,675.9 363.6,680.8C364.3,685.7 363.6,692.8 361.5,695.4C359.4,698.1 353.2,695.1 351.1,696.5C349,697.9 348.6,701.2 349,703.8C349.3,706.4 354.2,710.3 353.2,712.2C352.1,714.1 346,713.9 342.7,715.3C339.4,716.7 333.6,718 333.3,720.6C332.9,723.2 342.3,728.4 340.6,731.1C338.8,733.7 327.3,733.8 322.8,736.3C318.2,738.7 318.4,742.4 313.3,745.7C308.3,749 296.2,753.1 292.4,756.2C288.6,759.3 289.6,761.8 290.3,764.6C291,767.4 296.2,770 296.6,773C296.9,775.9 295,781.2 292.4,782.4C289.8,783.6 281.9,778 280.9,780.3C279.8,782.6 286.3,792.7 286.1,796C285.9,799.3 282.6,800.5 279.8,800.2C277,799.8 271.4,793.2 269.3,793.9C267.2,794.6 267.2,800.5 267.2,804.4C267.2,808.2 272.1,814.5 269.3,817C266.6,819.4 255.4,817.3 250.5,819.1C245.6,820.8 242.3,823.9 240,827.4C237.7,830.9 236.2,836.5 236.9,840C237.6,843.5 241.6,846.3 244.2,848.4C246.8,850.5 250.1,850.1 252.6,852.6C255,855 258.2,858.9 258.9,863.1C259.6,867.2 258,873.5 256.8,877.7C255.6,881.9 252.4,886.5 251.5,888.2" fill="none" stroke="#cfcfcf" stroke-width="8.4" stroke-linejoin="round" stroke-linecap="round"/>
<path d="M420,471.4C417.9,472.8 411.1,475.3 407.6,479.8C404.2,484.4 402.4,495.4 399.3,498.7C396.1,502 389.1,499 388.8,499.7C388.4,500.4 394.4,500.6 397.2,502.9C400,505.1 407.3,509.2 405.5,513.3C403.8,517.5 389.1,522.1 386.7,528C384.2,534 393.3,542.3 390.9,549C388.4,555.6 375.5,562.6 372,567.8C368.5,573.1 368.2,576.2 369.9,580.4C371.7,584.6 383.2,589.8 382.5,593C381.8,596.1 367.1,596.5 365.7,599.3C364.3,602 373.4,606.3 374.1,609.7C374.8,613.2 370.6,618.3 369.9,620M542.6,222.1C544.5,222.8 550.1,223.8 554.1,226.3C558.1,228.7 563.7,232.9 566.7,236.8C569.6,240.6 571.7,245.1 571.9,249.3C572.1,253.5 568.9,258.4 567.7,261.9C566.5,265.4 564.4,267.1 564.6,270.3C564.8,273.4 568.8,277.6 568.8,280.8C568.8,283.9 566.3,287.6 564.6,289.1C562.8,290.7 560,287.7 558.3,290.2C556.5,292.6 556.2,301.5 554.1,303.8C552,306.1 548.2,304.9 545.7,303.8C543.3,302.8 541.4,297.9 539.4,297.5C537.5,297.2 534.5,298.9 534.2,301.7C533.8,304.5 537.5,311.3 537.3,314.3C537.2,317.3 535.6,319.5 533.1,319.5C530.7,319.5 526.2,314.1 522.7,314.3C519.2,314.5 515,317.3 512.2,320.6C509.4,323.9 504.9,331.9 505.9,334.2C507,336.5 516.2,333.1 518.5,334.2C520.8,335.2 521.3,337.9 519.5,340.5C517.8,343.1 511.3,347.5 508,349.9C504.7,352.4 502.8,354.8 499.6,355.1C496.5,355.5 490.4,350.4 489.1,352C487.9,353.6 490.5,360.9 492.3,364.6C494,368.2 499.4,370.5 499.6,374C499.8,377.5 496.7,382.9 493.3,385.5C490,388.2 482.7,387.6 479.7,389.7C476.7,391.8 474.7,395.7 475.5,398.1C476.4,400.5 483.7,402.1 485,404.4C486.2,406.7 485,409.8 482.9,411.7C480.8,413.6 475,413.8 472.4,415.9C469.8,418 466.1,422 467.1,424.3C468.2,426.6 476.1,426.6 478.7,429.5C481.3,432.5 484.3,439.8 482.9,442.1C481.5,444.4 474.3,441.4 470.3,443.2C466.3,444.9 462.6,449.3 458.8,452.6C454.9,455.9 451.6,460.1 447.2,463.1C442.9,466 437.1,468.5 432.6,470.4C428,472.3 422.1,473.9 420,474.6M369.9,620C371,621 374.5,622.8 376.2,626.3C378,629.8 380.7,637.5 380.4,641C380,644.4 373.8,644.4 374.1,647.2C374.5,650 384.2,655.6 382.5,657.7C380.7,659.8 367.8,658.4 363.6,659.8C359.4,661.2 357.3,662.6 357.3,666.1C357.3,669.6 362.9,675.9 363.6,680.8C364.3,685.7 363.6,692.8 361.5,695.4C359.4,698.1 353.2,695.1 351.1,696.5C349,697.9 348.6,701.2 349,703.8C349.3,706.4 354.2,710.3 353.2,712.2C352.1,714.1 346,713.9 342.7,715.3C339.4,716.7 333.6,718 333.3,720.6C332.9,723.2 342.3,728.4 340.6,731.1C338.8,733.7 327.3,733.8 322.8,736.3C318.2,738.7 318.4,742.4 313.3,745.7C308.3,749 296.2,753.1 292.4,756.2C288.6,759.3 289.6,761.8 290.3,764.6C291,767.4 296.2,770 296.6,773C296.9,775.9 295,781.2 292.4,782.4C289.8,783.6 281.9,778 280.9,780.3C279.8,782.6 286.3,792.7 286.1,796C285.9,799.3 282.6,800.5 279.8,800.2C277,799.8 271.4,793.2 269.3,793.9C267.2,794.6 267.2,800.5 267.2,804.4C267.2,808.2 272.1,814.5 269.3,817C266.6,819.4 255.4,817.3 250.5,819.1C245.6,820.8 242.3,823.9 240,827.4C237.7,830.9 236.2,836.5 236.9,840C237.6,843.5 241.6,846.3 244.2,848.4C246.8,850.5 250.1,850.1 252.6,852.6C255,855 258.2,858.9 258.9,863.1C259.6,867.2 258,873.5 256.8,877.7C255.6,881.9 252.4,886.5 251.5,888.2" fill="none" stroke="#fff" stroke-width="6.4" stroke-linejoin="round" stroke-linecap="round"/>
<path d="M20,557.3L23,556.4L26.1,555.4L29,554.3L31.5,552.1L33.4,555.3L36.5,556.9L38.9,559.5L43.3,559.3L45.1,562.6L48.5,561.4L52.3,561.8L55.3,559.9L58.9,559.6L61.9,557.3L63.6,554.1L66.9,552.7L68.9,549.8L72.1,548.2L74.5,545.8L78,545.7L81.3,543.6L85,544.8L87.3,547.5L88.7,550.7L88.5,554.8L91.2,557.3L93.6,560L97.4,560.3L99.1,563.9L103.1,564.1L105,567.3L108,568.9L111.2,566.7L114.5,565.3L118.5,565.7L121.2,567.9L125.1,566.9L128.2,568L131.1,569.9L132.6,573.2L135.3,575L139,575.7L140.2,579.4L143.6,580.4L144.8,583.4L145.6,586.5L148.3,588.8L147.4,592.7L149.9,595.1L152.8,597.2L155.5,599.5L158.8,600.9L162.5,601.4L165.4,602.4L167.9,604.1L170.9,605.1L173,607.6L175.1,610.4L176.4,613.4L176.7,616.7L177.2,620M1567.7,307C1566.2,306.3 1560.6,301.9 1558.3,302.8C1556,303.6 1556.6,308.9 1554.1,312.2C1551.7,315.5 1545.7,318.8 1543.6,322.7C1541.5,326.5 1542.9,335.2 1541.5,335.2C1540.1,335.2 1537.7,326.5 1535.3,322.7C1532.8,318.8 1529.7,314.5 1526.9,312.2C1524.1,309.9 1520.9,309.1 1518.5,309.1C1516,309.1 1514,313.1 1512.2,312.2C1510.5,311.3 1510.3,305.9 1508,303.8C1505.7,301.7 1501.6,299.6 1498.6,299.6C1495.6,299.6 1491.1,301.4 1490.2,303.8C1489.3,306.3 1492.5,310.8 1493.3,314.3C1494.2,317.8 1496.5,323 1495.4,324.8C1494.4,326.5 1490.2,324.9 1487.1,324.8C1483.9,324.6 1479.4,322.7 1476.6,323.7C1473.8,324.8 1470.6,327.7 1470.3,331.1C1469.9,334.4 1473.1,339.1 1474.5,343.6C1475.9,348.2 1476.9,353.8 1478.7,358.3C1480.4,362.8 1482.5,366.8 1485,370.9C1487.4,374.9 1492.6,378.5 1493.3,382.4C1494,386.2 1490.9,389.9 1489.2,393.9C1487.4,397.9 1484.3,402.6 1482.9,406.5C1481.5,410.3 1480.4,413.5 1480.8,417C1481.1,420.5 1485,424.3 1485,427.4C1485,430.6 1483.6,434.8 1480.8,435.8C1478,436.9 1471.3,432.7 1468.2,433.7C1465.1,434.8 1462.3,438.6 1461.9,442.1C1461.6,445.6 1464.4,450.1 1466.1,454.7C1467.9,459.2 1471.7,464.8 1472.4,469.3C1473.1,473.9 1471.9,478.3 1470.3,481.9C1468.7,485.6 1463,487.9 1463,491.3C1463,494.8 1467.3,499.2 1470.3,502.9C1473.3,506.5 1480.1,510.2 1480.8,513.3C1481.5,516.5 1477.6,519.1 1474.5,521.7C1471.3,524.3 1464,526.6 1461.9,529.1C1459.8,531.5 1460.5,533.8 1461.9,536.4C1463.3,539 1469.3,542 1470.3,544.8C1471.3,547.6 1469.9,550 1468.2,553.2C1466.5,556.3 1462.1,559.8 1459.8,563.6C1457.6,567.5 1455.6,571.7 1454.6,576.2C1453.5,580.7 1455.1,586.3 1453.5,590.9C1452,595.4 1449,599.6 1445.2,603.4C1441.3,607.3 1434,611.2 1430.5,613.9C1427,616.7 1425.2,619 1424.2,620M177.2,620L180.2,620.2L183.3,619.5L185.9,622.7L189.3,620.3L192.1,622.2L194.9,623.8L198.1,623.1L200.7,625.5L200.6,629.3L201.6,632.5L204.4,634.7L206.2,637.7L207.8,640.8L210.7,643L213.6,641.3L216.9,641.8L219.9,640.4L223.2,641L224,644.9L227.3,647.6L228.5,651.4L230.2,655.6L231.6,659.8L234.4,663L238.1,664.3L242.1,665L243.9,668.1L247.4,668.6L250,670.5L252.6,672.4L256.6,674.1L261,674.5L262.8,677.9L265.1,681.2L266.2,685L269.2,687.2L272.5,689L274.6,692.3L278,694.4L279.9,698.4L284,699.6L284.3,703L286.8,705.1L288.7,707.5L290.3,710.1L292.2,712.7L294.3,715.1L294.5,718.5L297.8,718.3L300.6,720.4L303.7,721.2L307.1,720.6L310.2,723.1L312,726.8L315.4,729L317.2,732.3L319.9,735L322.8,737.3M288.2,873.5C286.1,874.6 279.8,877.6 275.6,879.8C271.4,882.1 267.1,885.4 263.1,887.2C259,888.9 255.7,888.2 251.5,890.3C247.3,892.4 243,897.1 237.9,899.7C232.9,902.3 226.7,903.7 221.2,906C215.6,908.3 208.9,910 204.4,913.3C199.8,916.7 197.1,921.6 193.9,925.9C190.8,930.3 188.7,935.7 185.5,939.5C182.4,943.4 177.5,945.3 175.1,949C172.6,952.6 170.9,957.3 170.9,961.5C170.9,965.7 175.1,969.7 175.1,974.1C175.1,978.5 169.8,983.9 170.9,987.7C171.9,991.6 178.2,993.8 181.3,997.2C184.5,1000.5 187.6,1003.8 189.7,1007.6C191.8,1011.4 193.2,1017.9 193.9,1020M644.2,917.5C646.6,918.9 653.6,922.8 658.9,925.9C664.1,929.1 670,933.8 675.6,936.4C681.2,939 687.2,940.2 692.4,941.6C697.6,943 702.5,944.8 707.1,944.8C711.6,944.8 715.1,942.3 719.6,941.6C724.2,940.9 729.8,941.1 734.3,940.6C738.8,940.1 744.8,938.8 746.9,938.5M554.1,906C556.9,906.9 565.3,909.5 570.9,911.3C576.5,913 581.3,915.2 587.6,916.5C593.9,917.8 602.3,918.5 608.6,919.2C614.9,919.9 622.5,920.6 625.3,920.9M1084,903.9C1085.4,904.1 1089.6,903 1092.4,905C1095.2,906.9 1097.3,912.3 1100.8,915.4C1104.3,918.6 1108.8,921.7 1113.3,923.8C1117.9,925.9 1123.8,928.4 1128,928C1132.2,927.7 1135.3,924.5 1138.5,921.7C1141.6,918.9 1143.4,914.4 1146.9,911.3C1150.4,908.1 1155.3,905.3 1159.4,902.9C1163.6,900.4 1168.5,899 1172,896.6C1175.5,894.1 1178.3,892.4 1180.4,888.2C1182.5,884 1184.6,876.7 1184.6,871.4C1184.6,866.2 1182.5,860.6 1180.4,856.8C1178.3,852.9 1173.4,851.9 1172,848.4C1170.6,844.9 1170.6,838.6 1172,835.8C1173.4,833 1178.3,834.1 1180.4,831.6C1182.5,829.2 1183.2,824.3 1184.6,821.2C1186,818 1185.6,814 1188.8,812.8C1191.9,811.5 1198.2,813.8 1203.4,813.8C1208.7,813.8 1217.2,812.9 1220,812.8M962.5,921.7C963.2,920.3 963.9,914.7 966.7,913.3C969.5,912 976.1,914.4 979.2,913.3C982.4,912.3 982.4,909.5 985.5,907.1C988.7,904.6 994.3,901.8 998.1,898.7C1001.9,895.5 1004.7,890.8 1008.6,888.2C1012.4,885.6 1017,883.7 1021.2,883C1025.3,882.3 1030.2,882.8 1033.7,884C1037.2,885.2 1038.6,888.2 1042.1,890.3C1045.6,892.4 1050.5,895.9 1054.7,896.6C1058.9,897.3 1063.4,894.8 1067.2,894.5C1071.1,894.1 1074.9,892.9 1077.7,894.5C1080.5,896.1 1083,902.3 1084,903.9M1424.2,620C1423.3,621.7 1418.6,627.3 1419,630.5C1419.3,633.6 1425.2,635 1426.3,638.9C1427.3,642.7 1426.6,649.2 1425.2,653.5C1423.9,657.9 1420.2,662.4 1417.9,665C1415.6,667.7 1414.1,669.6 1411.6,669.2C1409.2,668.9 1407.1,663.7 1403.2,663C1399.4,662.3 1392.8,663.5 1388.6,665C1384.4,666.6 1380.2,669.1 1378.1,672.4C1376,675.7 1376.2,680.8 1376,685C1375.8,689.1 1378.5,694 1377.1,697.5C1375.7,701 1371.3,704.2 1367.6,705.9C1364,707.7 1359.2,707 1355.1,708C1350.9,709.1 1346.7,709.8 1342.5,712.2C1338.3,714.6 1334.1,719.5 1329.9,722.7C1325.7,725.8 1320.1,727.9 1317.3,731.1C1314.5,734.2 1313,737.7 1313.1,741.5C1313.3,745.4 1318.4,750.6 1318.4,754.1C1318.4,757.6 1316.1,760.4 1313.1,762.5C1310.2,764.6 1304.4,766.1 1300.6,766.7C1296.7,767.2 1293.6,767 1290.1,765.6C1286.6,764.2 1283.5,758.8 1279.6,758.3C1275.8,757.8 1271.6,761.3 1267.1,762.5C1262.5,763.7 1257.3,764.1 1252.4,765.6C1247.5,767.2 1242.3,768.9 1237.7,771.9C1233.2,774.9 1228.3,779.1 1225.1,783.4C1222,787.8 1219.7,793.6 1218.9,798.1C1218,802.6 1221,807.9 1219.9,810.7C1218.9,813.5 1215.9,814.5 1212.6,814.9C1209.3,815.2 1202.1,813.1 1200,812.8M1567.7,924.9C1567.2,924.3 1565.8,920.5 1564.6,921.7C1563.4,923 1561.8,928.5 1560.4,932.2C1559,935.9 1558,943.4 1556.2,943.7C1554.5,944.1 1552,937.6 1549.9,934.3C1547.8,931 1546.4,925.4 1543.6,923.8C1540.8,922.3 1536.7,924 1533.2,924.9C1529.7,925.7 1525.1,927.1 1522.7,929.1C1520.2,931 1517.8,933.8 1518.5,936.4C1519.2,939 1526.9,942.7 1526.9,944.8C1526.9,946.9 1522,947.9 1518.5,949C1515,950 1509.1,950 1505.9,951.1C1502.8,952.1 1501.7,956 1499.6,955.3C1497.5,954.6 1495.4,949.7 1493.3,946.9C1491.3,944.1 1489.5,939.5 1487.1,938.5C1484.6,937.4 1481.1,937.8 1478.7,940.6C1476.2,943.4 1474.5,950.7 1472.4,955.3C1470.3,959.8 1468.2,966.4 1466.1,967.8C1464,969.2 1461.6,965.7 1459.8,963.6C1458.1,961.5 1457,954.9 1455.6,955.3C1454.2,955.6 1451.8,962.2 1451.4,965.7C1451.1,969.2 1454.6,973.9 1453.5,976.2C1452.5,978.5 1448.6,979.4 1445.2,979.4C1441.7,979.4 1436.4,976.2 1432.6,976.2C1428.7,976.2 1424.6,980 1422.1,979.4C1419.7,978.7 1419,974.6 1417.9,972C1416.9,969.4 1417.6,964.3 1415.8,963.6C1414.1,962.9 1409.5,965 1407.4,967.8C1405.3,970.6 1404.6,976.4 1403.2,980.4C1401.9,984.4 1401.9,989.3 1399.1,991.9C1396.3,994.5 1388.9,993.5 1386.5,996.1C1384,998.7 1384.4,1003.7 1384.4,1007.6C1384.4,1011.6 1386.1,1017.9 1386.5,1020M740.7,940.7C742.6,939.4 748.2,936 752,933.1C755.8,930.3 759.2,925.9 763.3,923.7C767.4,921.5 772.7,919.9 776.5,919.9C780.3,919.9 782.5,921.5 785.9,923.7C789.4,925.9 793.5,930 797.3,933.1C801,936.3 804.8,939.7 808.6,942.6C812.3,945.4 816.4,948.9 819.9,950.1C823.3,951.4 827.4,952 829.3,950.1C831.2,948.2 829.9,941.6 831.2,938.8C832.5,936 834.3,934.1 836.9,933.1C839.4,932.2 842.8,933.8 846.3,933.1C849.7,932.5 854.1,930.9 857.6,929.4C861.1,927.8 864.2,923.4 867,923.7C869.9,924 871.4,928.7 874.6,931.3C877.7,933.8 882.4,935.3 885.9,938.8C889.3,942.3 892.5,947.3 895.3,952C898.1,956.7 899.7,963 902.9,967.1C906,971.2 910.4,974 914.2,976.5C917.9,979 921.7,981.5 925.5,982.2C929.3,982.8 933.7,982.2 936.8,980.3C939.9,978.4 943.1,974.3 944.3,970.9C945.6,967.4 943.1,962.7 944.3,959.5C945.6,956.4 948.7,955.1 951.9,952C955,948.9 961.6,945.1 963.2,940.7C964.8,936.3 961.6,928.1 961.3,925.6M192.9,1020C193.4,1024.5 196.2,1039.6 196,1047.2C195.8,1054.9 193.6,1060.9 191.8,1066.1C190.1,1071.3 186.8,1074.5 185.5,1078.7C184.3,1082.9 183.8,1086 184.5,1091.2C185.2,1096.5 189.9,1104.5 189.7,1110.1C189.5,1115.7 185.2,1120.9 183.4,1124.8C181.7,1128.6 179.9,1130 179.2,1133.1C178.5,1136.3 181.3,1140.1 179.2,1143.6C177.2,1147.1 170.5,1149.9 166.7,1154.1C162.8,1158.3 159.7,1165.8 156.2,1168.8C152.7,1171.7 149.6,1171.7 145.7,1171.9C141.9,1172.1 137.3,1170.5 133.1,1169.8C129,1169.1 123.7,1166.8 120.6,1167.7C117.4,1168.6 115.7,1171.4 114.3,1175.1C112.9,1178.7 113.6,1185.2 112.2,1189.7C110.8,1194.3 106.6,1197.8 105.9,1202.3C105.2,1206.8 107.5,1211 108,1217C108.5,1222.9 107.7,1233.4 109.1,1237.9C110.4,1242.5 115,1240.7 116.4,1244.2C117.8,1247.7 117.8,1254.3 117.4,1258.9C117.1,1263.4 113.4,1267.6 114.3,1271.4C115.2,1275.3 120.6,1278.4 122.7,1281.9C124.8,1285.4 127.2,1288.6 126.9,1292.4C126.5,1296.2 122.7,1300.8 120.6,1305C118.5,1309.2 115.7,1313.3 114.3,1317.5C112.9,1321.7 112.9,1326.3 112.2,1330.1C111.5,1334 109.9,1337.4 110.1,1340.6C110.3,1343.7 111.7,1346.9 113.2,1349C114.8,1351.1 119.4,1350.4 119.5,1353.2C119.7,1356 116.2,1361.2 114.3,1365.7C112.4,1370.3 110.8,1375.9 108,1380.4C105.2,1384.9 99.8,1388.8 97.5,1393C95.3,1397.2 94.6,1401 94.4,1405.5C94.2,1410 96.1,1417.6 96.5,1420M1220,1154.1C1218.6,1153.4 1214.6,1151 1211.8,1149.9C1209.1,1148.9 1205.5,1146.8 1203.4,1147.8C1201.4,1148.9 1201.4,1153.8 1199.3,1156.2C1197.2,1158.6 1193.1,1159.3 1190.9,1162.5C1188.6,1165.6 1188.1,1173.7 1185.6,1175.1C1183.2,1176.5 1178.3,1173.3 1176.2,1170.9C1174.1,1168.4 1174.6,1161.4 1173.1,1160.4C1171.5,1159.3 1168.3,1162.1 1166.8,1164.6C1165.2,1167 1165.9,1171.9 1163.6,1175.1C1161.4,1178.2 1157.3,1180.3 1153.2,1183.4C1149,1186.6 1143.4,1191.5 1138.5,1193.9C1133.6,1196.4 1127.7,1196 1123.8,1198.1C1120,1200.2 1116.1,1203.7 1115.4,1206.5C1114.7,1209.3 1116.5,1212.8 1119.6,1214.9C1122.8,1217 1129.9,1217.1 1134.3,1219.1C1138.7,1221 1143.7,1222.9 1145.8,1226.4C1147.9,1229.9 1147.4,1235.6 1146.9,1240C1146.3,1244.4 1144.1,1248.4 1142.7,1252.6C1141.3,1256.8 1140.2,1265.5 1138.5,1265.2C1136.7,1264.8 1135,1253.8 1132.2,1250.5C1129.4,1247.2 1125.9,1246.5 1121.7,1245.2C1117.5,1244 1112.3,1243.9 1107.1,1243.2C1101.8,1242.5 1094.8,1240 1090.3,1241.1C1085.8,1242.1 1081.6,1245.8 1079.8,1249.4C1078.1,1253.1 1079.3,1258.7 1079.8,1263.1C1080.3,1267.4 1083,1272.5 1083,1275.6C1083,1278.8 1082.8,1280.2 1079.8,1281.9C1076.9,1283.7 1070,1284.7 1065.2,1286.1C1060.3,1287.5 1054.7,1288.2 1050.5,1290.3C1046.3,1292.4 1042.1,1295.5 1040,1298.7C1037.9,1301.8 1036.9,1306.7 1037.9,1309.2C1039,1311.6 1044.6,1311.3 1046.3,1313.3C1048,1315.4 1049.8,1318.6 1048.4,1321.7C1047,1324.9 1041.8,1329.4 1037.9,1332.2C1034.1,1335 1029.2,1335.7 1025.3,1338.5C1021.5,1341.3 1018.4,1344.8 1014.9,1349C1011.4,1353.2 1007.9,1358.4 1004.4,1363.6C1000.9,1368.9 998.1,1376.7 993.9,1380.4C989.7,1384.1 984.1,1384.2 979.2,1385.6C974.4,1387 968.2,1387.2 964.6,1388.8C960.9,1390.4 958.6,1391.9 957.2,1395.1C955.8,1398.2 956.2,1403.5 956.2,1407.6C956.2,1411.8 957.1,1417.9 957.2,1420M1385.4,1020C1385.1,1021.7 1385.3,1026.8 1383.3,1030.5C1381.4,1034.1 1377.6,1039.4 1373.9,1042C1370.2,1044.6 1364.7,1044.3 1361.3,1046.2C1358,1048.1 1356.5,1053 1354,1053.5C1351.6,1054 1349.6,1051.1 1346.7,1049.3C1343.7,1047.6 1339.3,1043.2 1336.2,1043C1333.1,1042.9 1328.2,1045.8 1327.8,1048.3C1327.5,1050.7 1331.7,1054.4 1334.1,1057.7C1336.5,1061 1340.7,1065.4 1342.5,1068.2C1344.2,1071 1346,1074.3 1344.6,1074.5C1343.2,1074.7 1337.6,1069.9 1334.1,1069.2C1330.6,1068.5 1326.4,1068.7 1323.6,1070.3C1320.8,1071.9 1319.1,1075.9 1317.3,1078.7C1315.6,1081.5 1314.9,1087.1 1313.1,1087.1C1311.4,1087.1 1309.3,1081.1 1306.9,1078.7C1304.4,1076.2 1301.3,1072.7 1298.5,1072.4C1295.7,1072 1292.9,1073.8 1290.1,1076.6C1287.3,1079.4 1284.9,1085.5 1281.7,1089.1C1278.6,1092.8 1274.7,1097.5 1271.2,1098.6C1267.7,1099.6 1263.9,1095.1 1260.8,1095.4C1257.6,1095.8 1254.1,1098.2 1252.4,1100.7C1250.6,1103.1 1252.7,1107.8 1250.3,1110.1C1247.8,1112.4 1239.8,1112.2 1237.7,1114.3C1235.6,1116.4 1237,1119.9 1237.7,1122.7C1238.4,1125.5 1243,1128.4 1241.9,1131.1C1240.9,1133.7 1234.6,1135.9 1231.4,1138.4C1228.3,1140.8 1225.5,1142.9 1223,1145.7C1220.6,1148.5 1219.6,1154.6 1216.8,1155.1C1214,1155.7 1209.1,1149 1206.3,1148.9C1203.5,1148.7 1201,1153.2 1200,1154.1M108,1380C107,1381.7 103.8,1387.7 101.7,1390.5C99.6,1393.3 96.3,1391.5 95.4,1396.8C94.6,1402 97.2,1415.3 96.5,1421.9C95.8,1428.5 93.5,1431.7 91.2,1436.6C89,1441.5 84.6,1447.1 82.9,1451.2C81.1,1455.4 80.4,1457.9 80.8,1461.7C81.1,1465.6 85,1470.4 85,1474.3C85,1478.1 83.2,1481.3 80.8,1484.8C78.3,1488.3 73.8,1492.3 70.3,1495.2C66.8,1498.2 64.4,1500.7 59.8,1502.6C55.3,1504.5 46.9,1504.5 43,1506.8C39.2,1509 38.9,1512.9 36.8,1516.2C34.7,1519.5 32.4,1523.2 30.5,1526.7C28.6,1530.2 26.5,1534 25.2,1537.2C24,1540.3 24,1544 23.1,1545.5C22.3,1547.1 20.5,1546.4 20,1546.6M820,1587.4C819,1588.5 814.8,1590.9 813.9,1593.7C813.1,1596.5 816.4,1600.7 815,1604.2C813.6,1607.7 807.5,1611.5 805.5,1614.7C803.6,1617.8 805.5,1620.3 803.4,1623.1C801.4,1625.9 797.5,1628.3 793,1631.4C788.4,1634.6 780.7,1637.7 776.2,1641.9C771.7,1646.1 769.2,1652.7 765.7,1656.6C762.2,1660.4 756.7,1661.1 755.3,1665C753.9,1668.8 758.7,1676.1 757.3,1679.6C756,1683.1 749.7,1683.1 746.9,1685.9C744.1,1688.7 743.7,1692.6 740.6,1696.4C737.4,1700.2 732.9,1704.4 728,1709C723.1,1713.5 716.8,1720.1 711.3,1723.6C705.7,1727.1 699.7,1729 694.5,1729.9C689.3,1730.8 684.7,1727.8 679.8,1728.9C674.9,1729.9 669,1733.2 665.2,1736.2C661.3,1739.2 658.9,1743.2 656.8,1746.7C654.7,1750.2 653.3,1755.4 652.6,1757.2M998.1,1380C996.7,1380.7 994.3,1383.1 989.7,1384.2C985.2,1385.2 975.8,1385.2 970.9,1386.3C966,1387.3 962.7,1388 960.4,1390.5C958.1,1392.9 957.6,1396.4 957.2,1401C956.9,1405.5 958.8,1413.2 958.3,1417.7C957.8,1422.3 956.5,1425 954.1,1428.2C951.7,1431.3 947.5,1433.8 943.6,1436.6C939.8,1439.4 934.4,1442.2 931.1,1445C927.7,1447.7 925.1,1450.5 923.7,1453.3C922.3,1456.1 922,1459.1 922.7,1461.7C923.4,1464.3 927.7,1465.9 927.9,1469.1C928.1,1472.2 924.9,1477.6 923.7,1480.6C922.5,1483.5 925.3,1484.9 920.6,1486.9C915.9,1488.8 901.7,1490 895.4,1492.1C889.1,1494.2 886.7,1498 882.9,1499.4C879,1500.8 875,1498.7 872.4,1500.5C869.8,1502.2 869.9,1505.9 867.1,1509.9C864.4,1513.9 858.4,1520 855.6,1524.6C852.8,1529.1 850.9,1533 850.4,1537.2C849.9,1541.3 853,1545.5 852.5,1549.7C852,1553.9 850.2,1556.4 847.2,1562.3C844.3,1568.2 839.2,1581 834.7,1585.3C830.1,1589.7 822.4,1588 820,1588.5" fill="none" stroke="#fff" stroke-width="7.7" stroke-linejoin="round" stroke-linecap="round"/>
<path d="M420,870.4L416.9,870.1L413.7,870L410.8,871.7L407.6,871.4L404.9,869.9L401.6,870.5L398.8,869L396.2,867.2L393,867.2L389.6,866.8L386.3,868.4L382.8,866.3L379.5,867.6L376.2,868.3L372.7,868.4L369.4,870.7L365.7,869.3L362.6,869.9L359.6,871.6L356.2,870.8L353.2,872.3L349.8,871.7L346.9,873.5L343.4,873.6L340,873.7L336.9,876L333.4,875.5L330.1,876.7L326.9,875.4L323.6,874.7L320,876L316.9,873.8L313.3,874.6L310.2,872.3L306.6,871.8L302.9,871.4L299,870.3L295.3,870.9L291.9,872.9L288.2,873.5M420,868.3L423.3,866.7L426.8,868.8L430,867L433.4,867.6L436.8,867.2L439.9,867.7L442.9,868.7L445.5,870.5L448.5,871.3L451.4,872.5L454.9,871.5L458.5,872.4L461.9,871L465,871.9L468.5,870.4L471.5,871.7L474.5,873.1L477.2,874.7L478.9,877.7L481.6,879.3L485,879.8L487.6,882.7L491.8,884.2L493.3,888.2L496,890L499.3,889.6L502.1,891L504.9,892.3L508,892.4L511.2,892.3L514.3,891.3L517.7,892.3L520.6,890.3L524.1,889.9L527.6,889.9L531.1,890.3L532.9,893.4L537,893.6L539.4,896L541.5,898.7L543.4,901.4L547.5,900.9L548.4,905L551.2,906.3L554.1,907.5L557.4,909L560.8,910.3L563,913.6L566.7,914.4L568.4,917.3L572.4,916.7L574.3,919.4L576.6,921.2L579.2,922.8L582.2,923.9L585.3,924.5L588.5,925L590.9,927.6L593.9,928.4L597.6,929.3L601.2,926.5L604.9,926.8L608.6,927.6L612.3,927.6L615.6,926.4L618.8,924.9L621.5,921.6L625.3,922.1L628.7,922.2L632,922.3L635.2,921.6L638.1,919.8L640.7,916.7L644.2,917.5M750.1,942.6C751.4,944.1 755.5,948.2 757.7,952C759.9,955.8 760.5,961.4 763.3,965.2C766.1,969 770.9,971.8 774.6,974.6C778.4,977.5 782.2,980.6 785.9,982.2C789.7,983.7 793.5,985 797.3,984.1C801,983.1 804.8,978.4 808.6,976.5C812.3,974.6 816.7,974 819.9,972.7C823,971.5 825.2,971.5 827.4,969C829.6,966.5 832.5,960.8 833.1,957.7C833.7,954.5 831.5,951.4 831.2,950.1M759.5,950.1C761.4,951.1 767.4,952.6 770.9,955.8C774.3,958.9 777.1,964.9 780.3,969C783.4,973.1 788.1,978.4 789.7,980.3M819.9,973.7C821.1,974.8 824.3,979.8 827.4,980.3C830.6,980.8 835.6,978.7 838.7,976.5C841.9,974.3 846,970.5 846.3,967.1C846.6,963.6 842.8,958.6 840.6,955.8C838.4,952.9 834.3,951.1 833.1,950.1" fill="none" stroke="#fff" stroke-width="10" stroke-linejoin="round" stroke-linecap="round"/>
<circle cx="794.65" cy="989.65" r="744.05" fill="none" stroke="#fff" stroke-width="2.8"/>
<circle cx="95.4" cy="349.5" r="6.9" fill="#fff"/>
<circle cx="699.7" cy="305.3" r="6.9" fill="#fff"/>
<circle cx="914.7" cy="357.7" r="6.9" fill="#fff"/>
<circle cx="481.8" cy="442.5" r="6.9" fill="#fff"/>
<circle cx="674.2" cy="425.3" r="6.9" fill="#fff"/>
<circle cx="1305.4" cy="429.1" r="6.9" fill="#fff"/>
<circle cx="387.7" cy="498.7" r="6.9" fill="#fff"/>
<circle cx="709.6" cy="575.2" r="6.9" fill="#fff"/>
<circle cx="1482.4" cy="578.3" r="6.9" fill="#fff"/>
<circle cx="1281.7" cy="617.5" r="6.9" fill="#fff"/>
<circle cx="702.4" cy="665.1" r="6.9" fill="#fff"/>
<circle cx="738.5" cy="739.4" r="6.9" fill="#fff"/>
<circle cx="356.3" cy="773.6" r="6.9" fill="#fff"/>
<circle cx="461.5" cy="826.6" r="6.9" fill="#fff"/>
<circle cx="1196.1" cy="865.2" r="6.9" fill="#fff"/>
<circle cx="1084" cy="903.9" r="6.9" fill="#fff"/>
<circle cx="185.5" cy="940.6" r="6.9" fill="#fff"/>
<circle cx="1326.3" cy="945.4" r="6.9" fill="#fff"/>
<circle cx="844" cy="968" r="6.9" fill="#fff"/>
<circle cx="203.3" cy="1107.4" r="6.9" fill="#fff"/>
<circle cx="1125.5" cy="1091.2" r="6.9" fill="#fff"/>
<circle cx="1312.8" cy="1081.3" r="6.9" fill="#fff"/>
<circle cx="1518.5" cy="1080.8" r="6.9" fill="#fff"/>
<circle cx="1498.6" cy="307" r="6.9" fill="#fff"/>
<circle cx="477.2" cy="1254.7" r="6.9" fill="#fff"/>
<circle cx="694.5" cy="1304.5" r="6.9" fill="#fff"/>
<circle cx="1035.8" cy="1309.2" r="6.9" fill="#fff"/>
<circle cx="230.6" cy="1320.3" r="6.9" fill="#fff"/>
<circle cx="424.2" cy="1526.7" r="6.9" fill="#fff"/>
<text class="mono" x="104.3" y="339.5" font-size="30.55" fill="#fff">PIRANE</text>
<text class="mono" x="708.6" y="295.3" font-size="30.55" fill="#fff">PARAGUARÍ</text>
<text class="mono" x="923.6" y="347.7" font-size="30.55" fill="#fff">VILLARRICA</text>
<text class="mono" x="490.7" y="432.5" font-size="30.55" fill="#fff">VA. OLIVA</text>
<text class="mono" x="683.1" y="415.3" font-size="30.55" fill="#fff">QUIINDY</text>
<text class="mono" x="1314.3" y="419.1" font-size="30.55" fill="#fff">NARANJAL</text>
<text class="mono" x="396.6" y="488.7" font-size="30.55" fill="#fff">FORMOSA</text>
<text class="mono" x="718.5" y="565.2" font-size="30.55" fill="#fff">VA. FLORIDA</text>
<text class="mono" x="1491.3" y="568.3" font-size="30.55" fill="#fff">ELDORADO</text>
<text class="mono" x="1290.6" y="607.5" font-size="30.55" fill="#fff">MARÍA AUXILIADORA</text>
<text class="mono" x="711.3" y="655.1" font-size="30.55" fill="#fff">SAN JUAN BAUTISTA</text>
<text class="mono" x="747.4" y="729.4" font-size="30.55" fill="#fff">SAN IGNACIO</text>
<text class="mono" x="365.2" y="763.6" font-size="30.55" fill="#fff">ISLA UMBÚ</text>
<text class="mono" x="470.4" y="816.6" font-size="30.55" fill="#fff">VILLALBÍN</text>
<text class="mono" x="1205" y="855.2" font-size="30.55" fill="#fff">SAN IGNACIO</text>
<text class="mono" x="1092.9" y="893.9" font-size="30.55" fill="#fff">POSADAS</text>
<text class="mono" x="194.4" y="930.6" font-size="30.55" fill="#fff">CORRIENTES</text>
<text class="mono" x="1335.2" y="935.4" font-size="30.55" fill="#fff">OBERÁ</text>
<text class="mono" x="852.9" y="958" font-size="30.55" fill="#fff">ITUZAINGÓ</text>
<text class="mono" x="212.2" y="1097.4" font-size="30.55" fill="#fff">EMPEDRADO</text>
<text class="mono" x="1134.4" y="1081.2" font-size="30.55" fill="#fff">APÓSTOLES</text>
<text class="mono" x="1321.7" y="1071.3" font-size="30.55" fill="#fff">SAN JAVIER</text>
<text class="mono" x="1527.4" y="1070.8" font-size="30.55" fill="#fff">SANTA ROSA</text>
<text class="mono" x="1507.5" y="297" font-size="30.55" fill="#fff">PUERTO IGUAZÚ</text>
<text class="mono" x="486.1" y="1244.7" font-size="30.55" fill="#fff">CONCEPCIÓN</text>
<text class="mono" x="703.4" y="1294.5" font-size="30.55" fill="#fff">COL. C. PELLEGRINI</text>
<text class="mono" x="1044.7" y="1299.2" font-size="30.55" fill="#fff">SANTO TOMÉ</text>
<text class="mono" x="239.5" y="1310.3" font-size="30.55" fill="#fff">SAN ROQUE</text>
<text class="mono" x="433.1" y="1516.7" font-size="30.55" fill="#fff">MERCEDES</text>
<rect x="26.3" y="1653.4" width="332.6" height="101.5" fill="#6e6e6e" fill-opacity="0.76"/>
<rect x="40" y="1668.1" width="303.2" height="71.7" fill="none" stroke="#ffa500" stroke-width="5.5"/>
<text class="mono" x="51.4" y="1698.4" font-size="22.2" fill="#fff">Avisos Meteorológicos</text>
<text class="mono" x="51.4" y="1724.7" font-size="22.2" fill="#fff">a Muy Corto Plazo</text>
</g>
<g clip-path="url(#cr)">
<path d="M1574,734.7h4.1M1578.4,736.1h5.7M1577.1,738.9h4.7M1577.2,740.3h5.9M1582.8,743.1h19.9M1577.4,744.5h24M1578.3,747.3h30.5M1608.8,747.3h5.2M1579.8,750.1h17.4M1597.2,750.1h8.8M1573.9,751.5h4.1M1573.2,752.9h5M1578.2,752.9h8.6M1575.6,754.3h4.1M1586.9,754.3h3.5M1577.9,757.1h11M1573.2,762.7h4.3M1577.5,762.7h7M1584.5,762.7h1M1576.3,764.1h6.6M1574.7,765.5h4.3M1585.9,765.5h1.2M1578.5,766.9h7.3M1585.8,766.9h0.7M1576.9,773.9h9.3M1586.2,773.9h1M1574.8,778.1h5M1579.8,778.1h8.4M1578.6,779.5h8.6M1579,782.3h5M1584,782.3h2.4M1584.9,783.7h2M1580.2,793.5h2.3M1573.9,794.9h4M1578,794.9h4.3M1582.2,794.9h3.2M1579.6,804.7h7.9M1587.4,804.7h0.9M1578.1,806.1h7.3M1585.4,806.1h1.9M1577.1,807.5h6.5M1583.6,807.5h1.1M1584.6,808.9h2.1M1579.1,810.3h6.2M1584.1,811.7h1.6M1577.8,813.1h7.4M1573.4,815.9h6M1579.4,815.9h9.2M1573.3,817.3h6M1579.3,817.3h8.3M1587.6,817.3h2.8M1588.8,820.1h1.3M1589.1,821.5h0.9M1588.3,822.9h3.9M1579.5,824.3h12.4M1574,825.7h6M1589.9,825.7h1.3M1580.9,828.5h7.3M1588.2,828.5h3.7M1575.2,829.9h5.9M1577.4,831.3h8.2M1575.5,832.7h5.6M1581.1,832.7h7.9M1589,832.7h3.4M1578.3,836.9h8.6M1578.8,841.1h8.1M1574.2,842.5h4.1M1578.3,842.5h7.9M1578.9,845.3h7M1577.8,846.7h7.3M1578.2,848.1h6.7M1581.1,849.5h8.6M1572.7,850.9h5.5M1576.2,853.7h11.3M1577.7,855.1h7.9M1578.6,856.5h7.2M1577.2,857.9h10.9M1579.1,859.3h8.8M1594.2,862.1h2.9M1577.9,863.5h11.9M1572.6,864.9h4.7M1577.3,864.9h15.5M1576,866.3h16M1591.5,867.7h3.2M1578.4,871.9h15.2M1572.6,876.1h5M1592.2,876.1h5.6M1575.7,878.9h16.1M1591.8,878.9h6M1579.3,880.3h11.5M1577.7,881.7h15.8M1576.3,883.1h18.1M1578.7,884.5h12.8M1591.5,884.5h4.3M1578.2,885.9h11.3M1572.6,887.3h6.4M1579,887.3h12M1591,887.3h4.9M1578.7,890.1h12.2M1577,891.5h13.3M1579.4,894.3h19.2M1580.5,895.7h15M1595.6,895.7h5M1572.6,897.1h7M1579.6,897.1h13.6M1593.2,897.1h4.8M1572.6,898.5h4.8M1593.6,898.5h3.3M1572.6,901.3h5.7M1572.6,902.7h3.4M1576,902.7h18.6M1591.6,904.1h6.8M1592.7,905.5h5.7M1572.6,906.9h4.6M1577.2,906.9h15.4M1572.6,909.7h4.9M1591.3,909.7h6.3M1579.3,916.7h12.6M1591.9,916.7h3.1M1577.6,918.1h14.1M1591.6,918.1h5.2M1578,919.5h16.4M1594.5,919.5h2.4M1579.4,920.9h16.2M1595.6,920.9h1.3M1578.8,922.3h15M1593.8,922.3h4.3M1580.2,923.7h16M1591.5,925.1h6.6M1592.2,926.5h5.9M1572.6,930.7h4.2M1576.8,930.7h16.6M1593.4,930.7h2.9M1594,933.5h2.3M1580,934.9h14.5M1594.5,934.9h1.7M1591.8,937.7h6.1M1572.6,940.5h4.3M1576.9,940.5h18.1M1572.6,941.9h6.7M1579.3,941.9h14.2M1579.7,943.3h15.2M1594.9,943.3h2.2M1578.3,946.1h14.2M1592.5,946.1h4.2M1576.6,947.5h17M1592.7,948.9h4.1M1576.1,951.7h16.4M1577.8,953.1h17.6M1595.4,953.1h2.1M1579.9,954.5h15.2M1595.1,954.5h2.2M1572.6,955.9h7.8M1580.4,955.9h14.3M1594.7,955.9h2.8M1592.4,957.3h5.1M1577.8,958.7h15.6M1576.1,960.1h19.3M1579.1,961.5h11.4M1591.2,964.3h6.1M1594,967.1h3.7M1576.5,968.5h15.6M1580.1,971.3h12.6M1580.6,972.7h13.8M1578.9,974.1h16M1594.9,974.1h2.6M1578.5,975.5h15.9M1594.4,975.5h3.1M1576.9,976.9h18.6M1572.6,981.1h7.5M1577.1,983.9h16.8M1576.3,986.7h15.1M1594.3,988.1h2.9M1592.7,989.5h4.5M1577.3,992.3h15.7M1593,992.3h4.2M1572.6,993.7h7.5M1577.5,995.1h14.3M1572.6,996.5h3.6M1578.3,997.9h15.2M1572.6,999.3h7.8M1578.4,1000.7h17.6M1580,1002.1h11.4M1591.4,1002.1h3.5M1576.8,1003.5h13.1M1572.6,1004.9h5M1577.6,1004.9h11.9M1590,1006.3h4M1578.1,1007.7h14.5M1577.1,1009.1h15.5M1592.5,1009.1h1.5M1572.6,1010.5h3.1M1575.7,1010.5h16.3M1578.8,1011.9h10.7M1589.5,1011.9h5.7M1577.7,1014.7h12.2M1590.5,1016.1h5.4M1577.5,1017.5h15.3M1592.8,1017.5h3.1M1572.6,1020.3h5.2M1577.8,1020.3h14.5M1572.6,1023.1h4.2M1576.8,1023.1h13.3M1572.6,1024.5h6.1M1578,1027.3h11.4M1572.6,1028.7h5.2M1579.6,1030.1h10.9M1578.6,1031.5h12M1577.8,1032.9h16.4M1578.1,1034.3h12.4M1572.6,1035.7h7.1M1579.7,1035.7h10M1572.6,1038.5h5.5M1578.1,1038.5h13.1M1591.2,1038.5h3M1572.6,1039.9h4.3M1577.2,1041.3h13.1M1578,1042.7h13.8M1572.6,1044.1h3M1575.6,1044.1h13.9M1572.6,1045.5h7.2M1579.8,1045.5h12.2M1592.1,1045.5h1.2M1589.9,1046.9h3.3M1578.8,1049.7h7.8M1586.7,1049.7h5.6M1591,1051.1h1.3M1579.5,1052.5h8M1579.5,1053.9h10.9M1590.3,1053.9h1.9M1588.1,1056.7h3.7M1576.5,1058.1h12.9M1589.4,1058.1h5.1M1576.1,1059.5h12.1M1592.9,1060.9h1.6M1592.6,1062.3h1.9M1577.1,1063.7h14.7M1576.6,1065.1h12.3M1572.6,1069.3h3.5M1576.1,1069.3h13.5M1575.7,1070.7h22.3M1579.5,1073.5h14.9M1594.4,1073.5h6.7M1596,1074.9h5.1M1576.6,1076.3h18.8M1576.1,1077.7h16.6M1592.7,1077.7h5.5M1572.6,1079.1h5.9M1577.9,1081.9h12.2M1590.1,1083.3h4.9M1577.5,1084.7h13.1M1579.1,1086.1h10.8M1591.2,1088.9h4.8M1578.1,1090.3h13.6M1576.6,1091.7h13.7M1572.6,1093.1h3M1575.6,1093.1h13.9M1591.2,1094.5h1.6M1589,1097.3h2.8M1572.6,1098.7h5.1M1579.8,1100.1h11.1M1572.6,1102.9h3.3M1583.7,1102.9h3.4M1577.7,1104.3h6M1583.7,1104.3h3.4M1572.6,1105.7h5.1M1577.7,1105.7h5.8M1578.6,1107.1h9.6M1577.5,1108.5h10M1585.3,1109.9h3.8M1578.4,1111.3h9.8M1588.7,1112.7h2.1M1579,1114.1h10.2M1589.2,1114.1h1.7M1576.7,1115.5h9.4M1572.6,1116.9h4.9M1576.4,1119.7h10.5M1586.8,1119.7h1.2M1578,1121.1h6.5M1584.5,1121.1h3.6M1572.6,1122.5h4M1576.6,1122.5h8.9M1572.6,1126.7h5.1M1583.6,1126.7h3.6M1577.7,1129.5h7.8M1577.4,1130.9h9M1587.6,1135.1h1.8M1587.6,1136.5h2.8M1578.8,1139.3h7.8M1577.2,1140.7h8.2M1579,1142.1h9M1577.5,1143.5h10.5M1588,1143.5h5.3M1579,1144.9h10.3M1588.9,1146.3h2M1578.6,1149.1h10M1588.6,1149.1h1.1M1578.2,1150.5h6.4M1572.6,1151.9h5.9M1578.5,1151.9h8.6M1572.6,1154.7h5.3M1577.9,1154.7h10.1M1588.1,1154.7h1.5M1586.7,1156.1h2.8M1578.5,1157.5h8.4M1572.6,1158.9h5.3M1578.5,1160.3h10.1M1576.8,1161.7h11.7M1576,1167.3h11.2M1578.8,1168.7h7M1585.7,1168.7h4.5M1576.2,1170.1h10.3M1578.7,1171.5h11.2M1578.2,1172.9h9.7M1587.9,1172.9h0.8M1578.2,1174.3h9.1M1572.6,1177.1h4.3M1584.3,1177.1h3.2M1572.6,1181.3h3.6M1577.8,1185.5h7.4M1585.1,1185.5h2.2M1577.9,1186.9h6.3M1583.6,1188.3h4M1572.6,1189.7h4.4M1577,1189.7h6.5M1576,1191.1h9.3M1578.3,1192.5h8.5M1586.7,1192.5h2M1572.6,1193.9h4.6M1577.2,1193.9h7.9M1577.6,1196.7h7.5M1585.2,1196.7h1.8M1577.6,1198.1h7.9M1585.5,1198.1h1.5M1576.1,1199.5h9.7M1576,1205.1h3.6M1576,1207.9h4.4M1572.6,1209.3h3.7M1576.3,1209.3h6.2M1576.3,1210.7h5.1M1581.5,1210.7h1.8M1572.6,1213.5h3.6M1576.2,1213.5h4.6M1580.8,1213.5h2.4M1576.3,1214.9h3.9M1576.3,1216.3h4.5M1577.1,1219.1h7.2M1584.3,1219.1h1.5M1576.4,1220.5h5M1581.5,1224.7h1.8M1572.6,1226.1h3.8M1572.6,1227.5h3.8M1576.4,1227.5h4.4M1580.7,1227.5h2.7M1576.7,1237.3h11.4M1574.5,1238.7h4.9M1579.4,1238.7h6.9M1577.6,1242.9h17.3M1578.7,1244.3h14M1581.7,1247.1h11.6M1573,1248.5h4.6M1577.5,1248.5h13.9M1588.2,1251.3h4.3M1572.9,1252.7h6.4M1588.5,1254.1h2.5M1574.3,1255.5h6.4M1580.8,1255.5h8.1M1588.8,1255.5h3.9M1578.9,1256.9h10.4M1589.2,1256.9h4.5M1573.7,1258.3h6.6M1580.3,1258.3h9.7M1580.1,1261.1h7.8M1581.7,1262.5h9.9M1573.3,1270.9h4M1590.9,1272.3h6.2M1581.6,1273.7h14M1595.6,1273.7h1.2M1589.8,1275.1h5.3M1573.4,1276.5h4.4M1577.8,1276.5h13.6M1591.5,1276.5h5.4M1574.4,1277.9h5.7M1594.2,1277.9h2.6M1572.8,1279.3h7.7M1580.4,1279.3h10M1590.4,1279.3h4.7M1581,1280.7h13.8M1578,1283.5h12.4M1574.3,1284.9h7.9M1582.2,1284.9h12.7M1594.9,1284.9h3M1578.7,1287.7h13.8M1583.3,1290.5h14.4M1574.1,1291.9h6M1578.5,1293.3h16.7M1573.8,1294.7h3.7M1577.6,1294.7h13.5M1582.7,1296.1h11.3M1594,1296.1h4.6M1578.1,1298.9h18.3M1578.5,1300.3h13.2M1578.3,1303.1h16.5M1578.5,1305.9h6.6M1587.8,1307.3h4.5M1580.7,1308.7h6.8M1587.5,1308.7h5.2M1579.1,1310.1h7.8M1586.9,1310.1h3.8M1579,1311.5h5.9M1585,1312.9h3.7M1578.8,1314.3h9M1573.5,1315.7h3.9M1572.8,1317.1h4.5M1577.4,1317.1h17.3" stroke="#3f68a0" stroke-width="1.5" fill="none"/>
<path d="M1578.1,734.7h4.7M1579.2,737.5h4.3M1576.5,741.7h6.3M1580.8,745.9h24.9M1579.5,748.7h17.5M1577.5,755.7h11.1M1579,765.5h6.9M1578.6,783.7h6.3M1578.4,796.3h4.7M1578.6,808.9h5.9M1581.1,818.7h6.9M1579.5,820.1h9.3M1580,825.7h9.9M1581,829.9h8.1M1578.5,839.7h6.6M1578.2,850.9h7.5M1577.6,860.7h9.2M1577.6,869.1h10.8M1576.1,870.5h13.4M1577.5,873.3h17M1578.3,899.9h15.9M1578.3,901.3h22.3M1577.4,908.3h15M1577.5,925.1h14M1578.2,926.5h13.9M1579.5,927.9h12.2M1578.9,937.7h12.9M1576.9,944.7h17.2M1577.2,950.3h12.8M1577.8,962.9h16.9M1576.3,964.3h14.9M1577.3,965.7h15.2M1576.5,982.5h17.9M1576.6,985.3h16.1M1579.5,988.1h14.7M1578.6,989.5h14.1M1578,990.9h17.9M1580.1,993.7h11.5M1576.2,996.5h16.3M1580.4,999.3h13.1M1579.2,1013.3h10.9M1577,1018.9h16M1578.7,1024.5h15.3M1576.9,1039.9h11.7M1576.9,1046.9h13M1579.5,1051.1h11.5M1578,1055.3h10.4M1576.1,1095.9h10.7M1577.7,1098.7h10.1M1578.1,1101.5h6.7M1575.9,1102.9h7.8M1576.9,1109.9h8.3M1577,1112.7h11.7M1578,1118.3h6.4M1577.5,1123.9h4.9M1577.5,1125.3h5.6M1576.5,1128.1h7.4M1578.5,1135.1h9.1M1578.5,1153.3h8.9M1578.5,1156.1h8.1M1576.8,1165.9h8.6M1577.6,1178.5h6.3M1576.2,1181.3h7.1M1577.8,1184.1h6.8M1577.7,1188.3h6M1577.6,1195.3h8.6M1576.3,1200.9h5.8M1576.3,1212.1h4.4M1577.2,1217.7h6.3M1576.4,1221.9h5.3M1580.8,1241.5h8.3M1578.7,1249.9h12.2M1581.3,1251.3h6.9M1579.1,1254.1h9.4M1578.2,1259.7h11.7M1578.1,1286.3h15.7M1577.6,1304.5h18.8M1580.2,1307.3h7.6M1577.4,1315.7h8.2M1580.5,1319.9h12.5" stroke="#3a6aa0" stroke-width="1.5" fill="none"/>
<path d="M1582.8,734.7h3M1584,736.1h2.2M1583.4,737.5h3.4M1581.8,738.9h3.7M1583.1,740.3h2.4M1582.8,741.7h3.6M1602.7,743.1h3.8M1588.6,755.7h2.7M1589,757.1h2.7M1582.9,764.1h2.1M1584.1,775.3h4.2M1585.7,776.7h3M1587.2,779.5h1.9M1583.3,780.9h3.8M1583.1,796.3h2.8M1589.6,827.1h1.9M1585.6,831.3h5M1586.9,841.1h2.7M1587.8,843.9h3.4M1585.9,845.3h4.2M1584.9,848.1h3.2M1584.8,852.3h4M1588.1,857.9h1.2M1587.8,859.3h1.7M1592.8,864.9h3.2M1592,866.3h4M1589.5,870.5h5.3M1593.6,871.9h1.1M1596.2,874.7h1.6M1593.6,881.7h4.6M1589.6,885.9h6.2M1590.3,888.7h5.6M1591,890.1h4.9M1590.3,891.5h5.6M1598.6,894.3h2M1594.2,899.9h2.8M1600.6,901.3h6.7M1594.6,902.7h7.2M1592.4,908.3h5.2M1594.8,913.9h2.4M1596.3,923.7h1.8M1590.8,932.1h5.4M1595,940.5h2M1594.1,944.7h3M1589.9,950.3h6.8M1592.5,951.7h5M1593.5,958.7h5.4M1594.7,962.9h2.6M1592.4,965.7h4.9M1592.1,968.5h5.6M1593.1,969.9h3.5M1592.8,971.3h3.9M1594.4,972.7h3.1M1596.8,978.3h1.9M1596.9,979.7h1.7M1591.3,986.7h5.9M1591.6,993.7h5.6M1593.5,997.9h3.3M1593.6,999.3h3.2M1592,1010.5h3.2M1590.2,1013.3h5M1589.9,1014.7h6M1593.8,1025.9h2.5M1589.4,1027.3h6.9M1593,1028.7h3.1M1590.4,1030.1h5.7M1590.6,1031.5h5.5M1594.2,1032.9h1.9M1589.7,1035.7h3.2M1588.4,1037.1h4.5M1591.8,1042.7h2.4M1588.2,1048.3h5M1588.9,1065.1h4M1588.4,1066.5h5.7M1595.4,1076.3h2.8M1595,1079.1h3.2M1590.7,1084.7h4.9M1589.9,1086.1h5.7M1591.7,1090.3h4.2M1590.3,1091.7h5.7M1589.5,1093.1h3.3M1586.8,1095.9h6M1583.5,1105.7h3.6M1588.2,1111.3h0.9M1586.1,1115.5h1.8M1583.9,1128.1h3.3M1586.4,1130.9h1.7M1587.5,1133.7h2M1587.3,1137.9h3.1M1586.6,1139.3h3.8M1585.5,1140.7h4.9M1587.4,1153.3h2.2M1586.9,1157.5h2.6M1584.5,1163.1h4.9M1586.8,1164.5h3.4M1586.5,1170.1h4.7M1589.8,1171.5h1.4M1587.3,1174.3h1.4M1584.8,1179.9h2M1583.5,1189.7h4.1M1585.4,1191.1h3.4M1585.8,1199.5h1.5M1579.7,1203.7h2.7M1579.6,1205.1h2.8M1580.4,1207.9h1.9M1580.2,1214.9h3M1580.8,1216.3h2.3M1583.5,1217.7h2.3M1581.7,1221.9h1.8M1594.9,1242.9h1.4M1592.6,1245.7h2M1593.3,1247.1h1.2M1590,1258.3h3.9M1587.9,1261.1h4.7M1590.5,1283.5h4.6M1592.6,1287.7h6.3M1597.7,1290.5h1.6M1591.3,1297.5h5.5M1585.6,1315.7h4.5M1594.4,1318.5h1.3M1593.1,1319.9h1.2" stroke="#3d5989" stroke-width="1.5" fill="none"/>
<path d="M1574.4,736.1h3.9M1572.6,738.9h4.5M1572.7,740.3h4.5M1572.6,755.7h4.8M1574.2,766.9h4.3M1573.8,806.1h4.3M1575.1,808.9h3.6M1573.2,836.9h5.2M1573,839.7h5.6M1573.7,841.1h5.1M1575.3,843.9h5.6M1574.9,845.3h4M1573.2,852.3h3.6M1573.8,856.5h4.8M1572.6,867.7h3.1M1572.6,869.1h5M1572.6,881.7h5.1M1572.6,883.1h3.7M1572.6,884.5h6.1M1572.6,891.5h4.4M1572.6,892.9h3.1M1572.6,894.3h6.8M1572.6,899.9h5.7M1572.6,912.5h4.1M1572.6,916.7h6.7M1572.6,923.7h7.6M1572.6,925.1h4.9M1572.6,932.1h3.9M1572.6,939.1h6M1572.6,943.3h7.1M1572.6,948.9h5.7M1572.6,954.5h7.3M1572.6,960.1h3.5M1572.6,964.3h3.7M1572.6,969.9h7.1M1572.6,972.7h8M1572.6,974.1h6.3M1572.6,978.3h3.3M1572.6,985.3h4M1572.6,988.1h6.9M1572.6,997.9h5.7M1572.6,1016.1h6.5M1572.6,1021.7h5.1M1572.6,1031.5h6M1572.6,1041.3h4.6M1572.6,1042.7h5.4M1572.6,1046.9h4.3M1572.6,1051.1h6.9M1572.6,1055.3h5.4M1572.6,1066.5h6.3M1572.6,1088.9h7.8M1572.6,1091.7h4M1572.6,1095.9h3.5M1572.6,1107.1h6M1572.6,1108.5h4.9M1572.6,1121.1h5.4M1572.6,1128.1h3.9M1572.6,1129.5h5.1M1572.6,1136.5h3.1M1572.6,1144.9h6.4M1572.6,1147.7h5M1572.6,1161.7h4.2M1572.6,1175.7h5.2M1572.6,1198.1h5M1572.6,1205.1h3.4M1572.6,1221.9h3.8M1574.5,1242.9h3.1M1573.2,1283.5h4.8M1575.2,1287.7h3.5M1572.9,1289.1h7.5M1574,1298.9h4.2M1574.2,1301.7h4.3M1572.8,1303.1h5.5M1574.2,1304.5h3.4M1573.9,1307.3h6.4" stroke="#367daf" stroke-width="1.5" fill="none"/>
<path d="M1575,737.5h4.1M1572.9,744.5h4.5M1573.2,745.9h7.6M1573,748.7h6.5M1573.2,750.1h6.7M1572.8,773.9h4.1M1574.3,776.7h3.7M1575.5,779.5h3.1M1573.5,780.9h3.7M1575,782.3h4M1575.4,783.7h3.2M1572.9,793.5h3.3M1574.4,796.3h4M1574.9,804.7h4.7M1573,807.5h4.1M1575,814.5h5.9M1575.1,818.7h6M1574.1,822.9h3.2M1575.4,824.3h4.1M1574.3,827.1h6M1575.1,828.5h5.8M1573.8,831.3h3.6M1574,834.1h5.2M1574,835.5h3.6M1572.9,846.7h4.9M1575.6,849.5h5.5M1572.9,853.7h3.3M1573.7,855.1h4.1M1574.1,857.9h3.1M1572.6,862.1h5M1572.6,866.3h3.4M1572.6,871.9h5.8M1572.6,873.3h4.9M1572.6,874.7h3.3M1572.6,878.9h3.1M1572.6,885.9h5.6M1572.6,888.7h6.7M1572.6,905.5h7.5M1572.6,911.1h3.9M1572.6,913.9h6.3M1572.6,915.3h3.4M1572.6,919.5h5.4M1572.6,922.3h6.2M1572.6,926.5h5.6M1572.6,927.9h6.9M1572.6,929.3h5.9M1572.6,933.5h5.7M1572.6,936.3h7.7M1572.6,937.7h6.3M1572.6,944.7h4.3M1572.6,946.1h5.7M1572.6,947.5h4M1572.6,951.7h3.5M1572.6,953.1h5.2M1572.6,957.3h3.9M1572.6,958.7h5.2M1572.6,961.5h6.5M1572.6,965.7h4.7M1572.6,967.1h6.3M1572.6,968.5h3.9M1572.6,976.9h4.3M1572.6,979.7h3.7M1572.6,982.5h3.9M1572.6,983.9h4.5M1572.6,989.5h6M1572.6,990.9h5.4M1572.6,992.3h4.7M1572.6,1000.7h5.8M1572.6,1002.1h7.4M1572.6,1007.7h5.5M1572.6,1009.1h4.5M1572.6,1011.9h6.2M1572.6,1017.5h4.9M1572.6,1018.9h4.4M1572.6,1030.1h7M1572.6,1034.3h5.5M1572.6,1037.1h3.7M1572.6,1053.9h6.9M1572.6,1056.7h5.7M1572.6,1058.1h3.9M1572.6,1060.9h6.6M1572.6,1062.3h5.2M1572.6,1063.7h4.5M1572.6,1065.1h4M1572.6,1067.9h6.6M1572.6,1072.1h5.8M1572.6,1073.5h6.9M1572.6,1077.7h3.5M1572.6,1080.5h4.8M1572.6,1086.1h6.5M1572.6,1087.5h5.7M1572.6,1090.3h5.5M1572.6,1097.3h3.8M1572.6,1100.1h7.2M1572.6,1101.5h5.5M1572.6,1111.3h5.8M1572.6,1112.7h4.4M1572.6,1114.1h6.4M1572.6,1115.5h4.1M1572.6,1118.3h5.4M1572.6,1125.3h4.9M1572.6,1132.3h5.3M1572.6,1133.7h5.9M1572.6,1135.1h5.9M1572.6,1142.1h6.4M1572.6,1143.5h4.9M1572.6,1146.3h4.6M1572.6,1150.5h5.6M1572.6,1153.3h5.9M1572.6,1156.1h5.9M1572.6,1160.3h5.9M1572.6,1164.5h3.1M1572.6,1165.9h4.2M1572.6,1167.3h3.4M1572.6,1170.1h3.6M1572.6,1171.5h6.1M1572.6,1172.9h5.6M1572.6,1179.9h3.7M1572.6,1182.7h5.2M1572.6,1184.1h5.2M1572.6,1185.5h5.2M1572.6,1186.9h5.3M1572.6,1192.5h5.7M1572.6,1195.3h5M1572.6,1196.7h5M1572.6,1199.5h3.5M1572.6,1203.7h3.4M1572.6,1207.9h3.4M1572.6,1210.7h3.7M1572.6,1212.1h3.7M1572.6,1216.3h3.7M1572.6,1217.7h4.6M1572.6,1220.5h3.8M1572.6,1223.3h3.8M1572.6,1224.7h3.8M1573.8,1240.1h4.1M1575.1,1241.5h5.7M1574,1244.3h4.7M1574.9,1245.7h6.4M1575.1,1249.9h3.6M1575.3,1251.3h6M1572.6,1254.1h6.4M1574.7,1256.9h4.2M1573.1,1259.7h5.1M1575.5,1262.5h6.3M1574.4,1273.7h7.2M1575.4,1282.1h3.6M1575.5,1290.5h7.7M1572.9,1293.3h5.6M1573.8,1297.5h7.5M1574.3,1308.7h6.4M1575.3,1310.1h3.7M1573.3,1312.9h5.4M1573.5,1318.5h7M1573.2,1319.9h7.4" stroke="#3a70a4" stroke-width="1.5" fill="none"/>
<path d="M1573.5,741.7h3M1575.6,743.1h7.2M1574.3,747.3h4M1573,757.1h4.9M1572.7,764.1h3.5M1573.8,775.3h4.2M1574.6,803.3h4.7M1574.7,810.3h4.3M1573.4,811.7h4.3M1573.8,813.1h3.9M1573.7,820.1h5.7M1573.2,821.5h5.9M1573.2,838.3h4.1M1572.9,848.1h5.3M1574.4,859.3h4.7M1573,860.7h4.6M1572.6,863.5h5.3M1572.6,870.5h3.5M1572.6,877.5h6.3M1572.6,880.3h6.7M1572.6,890.1h6.1M1572.6,895.7h7.9M1572.6,904.1h4.4M1572.6,908.3h4.8M1572.6,918.1h5M1572.6,920.9h6.8M1572.6,934.9h7.4M1572.6,950.3h4.6M1572.6,962.9h5.2M1572.6,971.3h7.5M1572.6,975.5h5.9M1572.6,986.7h3.7M1572.6,995.1h4.9M1572.6,1003.5h4.2M1572.6,1006.3h4.5M1572.6,1013.3h6.6M1572.6,1014.7h5.1M1572.6,1025.9h3.3M1572.6,1027.3h5.4M1572.6,1032.9h5.2M1572.6,1048.3h3.4M1572.6,1049.7h6.2M1572.6,1052.5h6.9M1572.6,1059.5h3.5M1572.6,1070.7h3.1M1572.6,1074.9h5.5M1572.6,1076.3h4M1572.6,1081.9h5.3M1572.6,1083.3h3.2M1572.6,1084.7h4.9M1572.6,1094.5h7.1M1572.6,1104.3h5.1M1572.6,1109.9h4.3M1572.6,1119.7h3.8M1572.6,1123.9h4.9M1572.6,1130.9h4.8M1572.6,1137.9h6.2M1572.6,1139.3h6.2M1572.6,1140.7h4.6M1572.6,1149.1h6M1572.6,1157.5h5.9M1572.6,1163.1h3.9M1572.6,1168.7h6.2M1572.6,1174.3h5.6M1572.6,1178.5h5M1572.6,1188.3h5.1M1572.6,1191.1h3.4M1572.6,1200.9h3.7M1572.6,1202.3h3.7M1572.6,1206.5h3.4M1572.6,1214.9h3.7M1572.6,1219.1h4.5M1573.2,1237.3h3.6M1574.8,1247.1h6.9M1574.6,1261.1h5.5M1573.1,1272.3h4M1572.7,1275.1h5.7M1575.4,1280.7h5.5M1574.2,1286.3h3.9M1575.5,1296.1h7.2M1573.2,1300.3h5.3M1572.7,1305.9h5.8M1573.6,1311.5h5.4M1575.4,1314.3h3.4" stroke="#3378b5" stroke-width="1.5" fill="none"/>
<path d="M1601.4,744.5h11.3M1605.7,745.9h7.2M1597,748.7h10.2M1599.1,751.5h7.6M1586.8,752.9h1.3M1588.3,778.1h0.9M1587.1,803.3h1M1585.3,810.3h1.8M1585.2,813.1h1.4M1587.2,814.5h4.5M1588.6,815.9h1.9M1588.1,818.7h4.2M1591.9,824.3h1.5M1589.1,829.9h2.8M1587.3,834.1h1.5M1586,835.5h2.8M1586.9,836.9h1M1586.1,838.3h1.9M1585.1,839.7h3.8M1586.2,842.5h3.9M1585.2,846.7h2.9M1589.7,849.5h1.6M1585.7,850.9h2.7M1587.5,853.7h1M1585.7,855.1h3.1M1585.8,856.5h3.1M1586.8,860.7h2.7M1589.8,863.5h7.3M1588.4,869.1h6.4M1594.5,873.3h1.5M1593.7,877.5h4M1590.8,880.3h7.4M1594.4,883.1h1.4M1592.4,892.9h8.1M1592.6,906.9h5M1590.4,911.1h6.8M1590.2,912.5h7M1590.4,915.3h6.9M1591.7,927.9h6.5M1596.4,929.3h1.9M1595.3,936.3h2.5M1590.7,939.1h6.4M1593.5,941.9h3.5M1593.6,947.5h3.1M1595.4,960.1h3.4M1590.5,961.5h6.8M1595.5,976.9h2M1592.4,981.1h6.3M1594.4,982.5h4.2M1594,983.9h3.3M1592.7,985.3h4.5M1595.9,990.9h1.3M1591.8,995.1h5.4M1592.5,996.5h4.6M1596,1000.7h1.9M1589.9,1003.5h5M1589.5,1004.9h4.5M1592.6,1007.7h1.4M1593,1018.9h3.3M1592.3,1020.3h4M1591.8,1021.7h3.6M1590.1,1023.1h5.2M1594,1024.5h1.6M1590.5,1034.3h2.4M1588.6,1039.9h5.6M1590.3,1041.3h4M1589.6,1044.1h4.2M1587.4,1052.5h4.8M1588.4,1055.3h3.4M1588.2,1059.5h6.3M1591.8,1063.7h3.3M1589.8,1067.9h4.3M1589.6,1069.3h4.5M1597.9,1070.7h3.1M1595,1072.1h6M1590.4,1080.5h7.1M1590.2,1081.9h4.9M1592.2,1087.5h3.4M1587.8,1098.7h4M1590.9,1100.1h2.4M1584.8,1101.5h3.5M1588.2,1107.1h1.6M1587.5,1108.5h2.3M1586,1116.9h1.9M1584.4,1118.3h3.7M1585.6,1122.5h2.5M1582.4,1123.9h4.2M1583.1,1125.3h3.5M1585.5,1129.5h1.7M1586.9,1132.3h1.2M1588,1142.1h5.3M1589.3,1144.9h1.7M1587.6,1147.7h2.1M1584.6,1150.5h5.1M1587.2,1151.9h2.4M1588.6,1158.9h0.9M1588.6,1160.3h0.9M1588.5,1161.7h1.6M1585.4,1165.9h4.8M1587.1,1167.3h3.1M1584.8,1175.7h2.7M1583.9,1178.5h3M1583.3,1181.3h4.1M1583.4,1182.7h4M1584.6,1184.1h2.7M1584.1,1186.9h3.5M1585.1,1193.9h1.9M1586.2,1195.3h0.7M1582.2,1200.9h1.1M1580.5,1202.3h2.8M1580.7,1206.5h1.7M1582.5,1209.3h0.8M1580.7,1212.1h2.6M1581.4,1220.5h2.1M1582.5,1223.3h1M1580.4,1226.1h2.9M1588.1,1237.3h1.9M1586.3,1238.7h4.5M1586.2,1240.1h3.9M1589.1,1241.5h2.3M1592.7,1244.3h3.1M1591.4,1248.5h1.2M1590.9,1249.9h1.4M1586.5,1252.7h4.7M1590,1259.7h3.4M1591.7,1262.5h1.8M1593.2,1270.9h4M1594.8,1280.7h3.6M1597,1282.1h1.5M1593.8,1286.3h4M1591,1289.1h5.6M1594.8,1291.9h3.1M1595.2,1293.3h1.4M1591.1,1294.7h5.8M1596.4,1298.9h1.9M1591.7,1300.3h6M1597.1,1301.7h2M1594.8,1303.1h2.9M1596.4,1304.5h2.7M1585.2,1305.9h4.5M1584.9,1311.5h4.1M1587.8,1314.3h4.2M1594.7,1317.1h2.7" stroke="#3d5f96" stroke-width="1.5" fill="none"/>
<path d="M1577.9,751.5h21.1M1579.6,754.3h7.3M1578.1,775.3h6M1578,776.7h7.7M1577.2,780.9h6.1M1576.2,793.5h4M1579.3,803.3h7.8M1577.7,811.7h6.4M1580.9,814.5h6.3M1579.1,821.5h10M1577.3,822.9h11M1580.3,827.1h9.3M1579.2,834.1h8.1M1577.7,835.5h8.3M1577.3,838.3h8.8M1580.9,843.9h6.9M1576.7,852.3h8M1577.6,862.1h16.6M1575.7,867.7h15.8M1575.9,874.7h20.3M1577.6,876.1h14.6M1578.9,877.5h14.9M1579.3,888.7h11M1575.7,892.9h16.7M1577.4,898.5h16.2M1577,904.1h14.6M1580.1,905.5h12.6M1577.5,909.7h13.8M1576.5,911.1h13.9M1576.7,912.5h13.5M1578.9,913.9h16M1576,915.3h14.4M1578.5,929.3h17.9M1576.5,932.1h14.3M1578.3,933.5h15.6M1580.3,936.3h15M1578.6,939.1h12M1578.3,948.9h14.3M1576.5,957.3h15.8M1578.9,967.1h15.1M1579.7,969.9h13.4M1575.9,978.3h20.9M1576.3,979.7h20.6M1580.1,981.1h12.3M1577.1,1006.3h12.9M1579.1,1016.1h11.4M1577.7,1021.7h14.1M1575.9,1025.9h17.9M1577.8,1028.7h15.2M1576.3,1037.1h12.1M1576,1048.3h12.2M1578.3,1056.7h9.8M1579.2,1060.9h13.7M1577.8,1062.3h14.8M1578.9,1066.5h9.5M1579.2,1067.9h10.7M1578.4,1072.1h16.6M1578.1,1074.9h17.9M1578.5,1079.1h16.4M1577.4,1080.5h13M1575.8,1083.3h14.4M1578.3,1087.5h13.9M1580.4,1088.9h10.7M1579.7,1094.5h11.5M1576.4,1097.3h12.6M1577.5,1116.9h8.5M1577.7,1126.7h5.9M1577.9,1132.3h8.9M1578.5,1133.7h9M1575.7,1136.5h11.9M1578.8,1137.9h8.5M1577.2,1146.3h11.7M1577.6,1147.7h9.9M1577.9,1158.9h10.7M1576.5,1163.1h8M1575.7,1164.5h11.1M1577.8,1175.7h7M1576.9,1177.1h7.4M1576.3,1179.9h8.5M1577.8,1182.7h5.6M1576.3,1202.3h4.1M1576,1203.7h3.7M1576,1206.5h4.7M1576.4,1223.3h6.1M1576.4,1224.7h5.2M1576.4,1226.1h4M1577.9,1240.1h8.3M1581.3,1245.7h11.3M1579.3,1252.7h7.2M1577.3,1270.9h16M1577,1272.3h13.8M1578.3,1275.1h11.4M1580.1,1277.9h14M1579,1282.1h18M1580.4,1289.1h10.7M1580,1291.9h14.7M1581.3,1297.5h10M1578.4,1301.7h18.6M1578.7,1312.9h6.3M1580.4,1318.5h13.9" stroke="#3d6399" stroke-width="1.5" fill="none"/>
<path d="M1614.2,868L1613.9,869L1613.1,869.9L1611.7,870.6L1609.8,871.2L1607.6,871.6L1604.9,871.9L1601.7,872L1598.5,871.9L1595.8,871.6L1593.6,871.2L1591.7,870.6L1590.3,869.9L1589.5,869L1589.2,868L1589.5,867L1590.3,866.1L1591.7,865.4L1593.6,864.8L1595.8,864.4L1598.5,864.1L1601.7,864L1604.9,864.1L1607.6,864.4L1609.8,864.8L1611.7,865.4L1613.1,866.1L1613.9,867Z" fill="#2a8fc4"/>
<path d="M1683,868L1682.6,869.3L1681.6,870.3L1679.8,871.3L1677.4,872L1674.5,872.5L1671.1,872.9L1667,873L1662.9,872.9L1659.5,872.5L1656.6,872L1654.2,871.3L1652.4,870.3L1651.4,869.3L1651,868L1651.4,866.7L1652.4,865.7L1654.2,864.7L1656.6,864L1659.5,863.5L1662.9,863.1L1667,863L1671.1,863.1L1674.5,863.5L1677.4,864L1679.8,864.7L1681.6,865.7L1682.6,866.7Z" fill="#2a9fd0"/>
<path d="M1658.3,886L1658,887.1L1656.9,888.1L1655.3,888.9L1653.1,889.6L1650.3,890.1L1647.1,890.4L1643.3,890.5L1639.5,890.4L1636.3,890.1L1633.5,889.6L1631.3,888.9L1629.7,888.1L1628.6,887.1L1628.3,886L1628.6,884.9L1629.7,883.9L1631.3,883.1L1633.5,882.4L1636.3,881.9L1639.5,881.6L1643.3,881.5L1647.1,881.6L1650.3,881.9L1653.1,882.4L1655.3,883.1L1656.9,883.9L1658,884.9Z" fill="#2a9fd0"/>
<path d="M1681.7,886L1681.4,887.1L1680.6,888.1L1679.3,888.9L1677.5,889.6L1675.3,890.1L1672.8,890.4L1669.7,890.5L1666.6,890.4L1664.1,890.1L1661.9,889.6L1660.1,888.9L1658.8,888.1L1658,887.1L1657.7,886L1658,884.9L1658.8,883.9L1660.1,883.1L1661.9,882.4L1664.1,881.9L1666.6,881.6L1669.7,881.5L1672.8,881.6L1675.3,881.9L1677.5,882.4L1679.3,883.1L1680.6,883.9L1681.4,884.9Z" fill="#2a8fc4"/>
<path d="M1681.3,877.2L1681,878.4L1680,879.4L1678.3,880.2L1676.1,880.9L1673.4,881.4L1670.2,881.7L1666.4,881.8L1662.6,881.7L1659.4,881.4L1656.7,880.9L1654.5,880.2L1652.8,879.4L1651.8,878.4L1651.5,877.2L1651.8,876L1652.8,875L1654.5,874.2L1656.7,873.5L1659.4,873L1662.6,872.7L1666.4,872.6L1670.2,872.7L1673.4,873L1676.1,873.5L1678.3,874.2L1680,875L1681,876Z" fill="#4cd137"/>
<path d="M1660,1169.4L1659.5,1170.9L1658.1,1172.2L1655.8,1173.3L1652.7,1174.2L1648.9,1174.9L1644.5,1175.3L1639.2,1175.4L1633.9,1175.3L1629.5,1174.9L1625.7,1174.2L1622.6,1173.3L1620.3,1172.2L1618.9,1170.9L1618.4,1169.4L1618.9,1167.9L1620.3,1166.6L1622.6,1165.5L1625.7,1164.6L1629.5,1163.9L1633.9,1163.5L1639.2,1163.4L1644.5,1163.5L1648.9,1163.9L1652.7,1164.6L1655.8,1165.5L1658.1,1166.6L1659.5,1167.9Z" fill="#2a9fd0"/>
<path d="M1643,1158.3L1642.5,1159.8L1641.2,1161.1L1639,1162.2L1636,1163.1L1632.4,1163.8L1628.1,1164.2L1623,1164.3L1617.9,1164.2L1613.6,1163.8L1610,1163.1L1607,1162.2L1604.8,1161.1L1603.5,1159.8L1603,1158.3L1603.5,1156.8L1604.8,1155.5L1607,1154.4L1610,1153.5L1613.6,1152.8L1617.9,1152.4L1623,1152.3L1628.1,1152.4L1632.4,1152.8L1636,1153.5L1639,1154.4L1641.2,1155.5L1642.5,1156.8Z" fill="#2db3df"/>
<path d="M1642.9,1147.2L1642.4,1148.8L1641.1,1150.1L1638.9,1151.2L1636,1152.2L1632.3,1152.8L1628.1,1153.3L1623,1153.4L1617.9,1153.3L1613.7,1152.8L1610,1152.2L1607.1,1151.2L1604.9,1150.1L1603.6,1148.8L1603.1,1147.2L1603.6,1145.6L1604.9,1144.3L1607.1,1143.2L1610,1142.2L1613.7,1141.6L1617.9,1141.1L1623,1141L1628.1,1141.1L1632.3,1141.6L1636,1142.2L1638.9,1143.2L1641.1,1144.3L1642.4,1145.6Z" fill="#4cd137"/>
<path d="M1610.1,1369.5L1609.8,1371.4L1608.9,1373L1607.4,1374.3L1605.3,1375.4L1602.8,1376.2L1599.9,1376.7L1596.4,1376.9L1592.9,1376.7L1590,1376.2L1587.5,1375.4L1585.4,1374.3L1583.9,1373L1583,1371.4L1582.7,1369.5L1583,1367.6L1583.9,1366L1585.4,1364.7L1587.5,1363.6L1590,1362.8L1592.9,1362.3L1596.4,1362.1L1599.9,1362.3L1602.8,1362.8L1605.3,1363.6L1607.4,1364.7L1608.9,1366L1609.8,1367.6Z" fill="#2a9fd0"/>
<path d="M1699,1429L1698.6,1430.5L1697.6,1431.8L1695.8,1432.9L1693.5,1433.8L1690.6,1434.5L1687.2,1434.9L1683.2,1435L1679.2,1434.9L1675.8,1434.5L1672.9,1433.8L1670.6,1432.9L1668.8,1431.8L1667.8,1430.5L1667.4,1429L1667.8,1427.5L1668.8,1426.2L1670.6,1425.1L1672.9,1424.2L1675.8,1423.5L1679.2,1423.1L1683.2,1423L1687.2,1423.1L1690.6,1423.5L1693.5,1424.2L1695.8,1425.1L1697.6,1426.2L1698.6,1427.5Z" fill="#2db3df"/>
<path d="M1671.7,1422.7L1671.4,1424L1670.5,1425L1669,1426L1666.9,1426.7L1664.4,1427.2L1661.5,1427.6L1658,1427.7L1654.5,1427.6L1651.6,1427.2L1649.1,1426.7L1647,1426L1645.5,1425L1644.6,1424L1644.3,1422.7L1644.6,1421.4L1645.5,1420.4L1647,1419.4L1649.1,1418.7L1651.6,1418.2L1654.5,1417.8L1658,1417.7L1661.5,1417.8L1664.4,1418.2L1666.9,1418.7L1669,1419.4L1670.5,1420.4L1671.4,1421.4Z" fill="#4cd137"/>
<path d="M1697.8,1428L1697.5,1429.2L1696.5,1430.2L1694.9,1431.1L1692.7,1431.8L1690,1432.4L1686.9,1432.7L1683.2,1432.8L1679.5,1432.7L1676.4,1432.4L1673.7,1431.8L1671.5,1431.1L1669.9,1430.2L1668.9,1429.2L1668.6,1428L1668.9,1426.8L1669.9,1425.8L1671.5,1424.9L1673.7,1424.2L1676.4,1423.6L1679.5,1423.3L1683.2,1423.2L1686.9,1423.3L1690,1423.6L1692.7,1424.2L1694.9,1424.9L1696.5,1425.8L1697.5,1426.8Z" fill="#e8e337"/>
<path d="M1684.2,1535.5L1683.7,1537.4L1682.4,1539.1L1680.2,1540.4L1677.1,1541.6L1673.5,1542.4L1669.2,1542.9L1664,1543.1L1658.8,1542.9L1654.5,1542.4L1650.9,1541.6L1647.8,1540.4L1645.6,1539.1L1644.3,1537.4L1643.8,1535.5L1644.3,1533.6L1645.6,1531.9L1647.8,1530.6L1650.9,1529.4L1654.5,1528.6L1658.8,1528.1L1664,1527.9L1669.2,1528.1L1673.5,1528.6L1677.1,1529.4L1680.2,1530.6L1682.4,1531.9L1683.7,1533.6Z" fill="#2db3df"/>
<path d="M1685.2,1533.4L1684.7,1535.2L1683.4,1536.8L1681.2,1538.1L1678.1,1539.2L1674.5,1539.9L1670.2,1540.4L1665,1540.6L1659.8,1540.4L1655.5,1539.9L1651.9,1539.2L1648.8,1538.1L1646.6,1536.8L1645.3,1535.2L1644.8,1533.4L1645.3,1531.6L1646.6,1530L1648.8,1528.7L1651.9,1527.6L1655.5,1526.9L1659.8,1526.4L1665,1526.2L1670.2,1526.4L1674.5,1526.9L1678.1,1527.6L1681.2,1528.7L1683.4,1530L1684.7,1531.6Z" fill="#4cd137"/>
<path d="M1719.4,1555L1719,1556.5L1717.9,1557.8L1716.1,1558.9L1713.6,1559.8L1710.6,1560.5L1707.1,1560.9L1702.9,1561L1698.7,1560.9L1695.2,1560.5L1692.2,1559.8L1689.7,1558.9L1687.9,1557.8L1686.8,1556.5L1686.4,1555L1686.8,1553.5L1687.9,1552.2L1689.7,1551.1L1692.2,1550.2L1695.2,1549.5L1698.7,1549.1L1702.9,1549L1707.1,1549.1L1710.6,1549.5L1713.6,1550.2L1716.1,1551.1L1717.9,1552.2L1719,1553.5Z" fill="#2a9fd0"/>
<path d="M1694.1,1559L1693.6,1560.5L1692.2,1561.8L1690,1562.9L1686.9,1563.8L1683.1,1564.5L1678.7,1564.9L1673.4,1565L1668.1,1564.9L1663.7,1564.5L1659.9,1563.8L1656.8,1562.9L1654.6,1561.8L1653.2,1560.5L1652.7,1559L1653.2,1557.5L1654.6,1556.2L1656.8,1555.1L1659.9,1554.2L1663.7,1553.5L1668.1,1553.1L1673.4,1553L1678.7,1553.1L1683.1,1553.5L1686.9,1554.2L1690,1555.1L1692.2,1556.2L1693.6,1557.5Z" fill="#2ba8d8"/>
<path d="M1680.2,1572.6L1679.7,1574.4L1678.3,1575.9L1675.9,1577.2L1672.8,1578.2L1668.9,1579L1664.3,1579.4L1658.9,1579.6L1653.5,1579.4L1648.9,1579L1645,1578.2L1641.9,1577.2L1639.5,1575.9L1638.1,1574.4L1637.6,1572.6L1638.1,1570.8L1639.5,1569.3L1641.9,1568L1645,1567L1648.9,1566.2L1653.5,1565.8L1658.9,1565.6L1664.3,1565.8L1668.9,1566.2L1672.8,1567L1675.9,1568L1678.3,1569.3L1679.7,1570.8Z" fill="#2db3df"/>
<line x1="1620.6" y1="220" x2="1620.6" y2="1760" stroke="#fff" stroke-width="1.5" stroke-opacity="0.88"/>
<line x1="1670.5" y1="220" x2="1670.5" y2="1760" stroke="#fff" stroke-width="1.5" stroke-opacity="0.88"/>
</g>
<text class="sans" font-size="22.2" fill="#fff" transform="translate(1599,222.6) rotate(90)">5 km</text>
<text class="sans" font-size="22.2" fill="#fff" transform="translate(1649,222.6) rotate(90)">10 km</text>
<text class="sans" font-size="22.2" fill="#fff" transform="translate(1699,222.6) rotate(90)">15 km</text>
<rect x="1720.2" y="220" width="37.8" height="120" fill="#88dfbf"/>
<rect x="1720.2" y="340" width="37.8" height="48" fill="#92e3c6"/>
<rect x="1720.2" y="388" width="37.8" height="24" fill="#a6ecd2"/>
<rect x="1720.2" y="412" width="37.8" height="25" fill="#b3eed9"/>
<rect x="1720.2" y="437" width="37.8" height="24" fill="#c6f3e3"/>
<rect x="1720.2" y="461" width="37.8" height="24" fill="#e0f7ee"/>
<rect x="1720.2" y="485" width="37.8" height="24" fill="#ffffff"/>
<rect x="1720.2" y="509" width="37.8" height="24" fill="#9b009b"/>
<rect x="1720.2" y="533" width="37.8" height="24" fill="#b300b3"/>
<rect x="1720.2" y="557" width="37.8" height="24" fill="#cc00cc"/>
<rect x="1720.2" y="581" width="37.8" height="24" fill="#e800e8"/>
<rect x="1720.2" y="605" width="37.8" height="24" fill="#d9009c"/>
<rect x="1720.2" y="629" width="37.8" height="24" fill="#c20062"/>
<rect x="1720.2" y="653" width="37.8" height="24" fill="#9b0000"/>
<rect x="1720.2" y="677" width="37.8" height="24" fill="#b0000c"/>
<rect x="1720.2" y="701" width="37.8" height="24" fill="#c10018"/>
<rect x="1720.2" y="725" width="37.8" height="24" fill="#c90020"/>
<rect x="1720.2" y="749" width="37.8" height="24" fill="#ea0c30"/>
<rect x="1720.2" y="773" width="37.8" height="25" fill="#dd8118"/>
<rect x="1720.2" y="798" width="37.8" height="24" fill="#d8981c"/>
<rect x="1720.2" y="822" width="37.8" height="24" fill="#d0ae24"/>
<rect x="1720.2" y="846" width="37.8" height="24" fill="#c4c82e"/>
<rect x="1720.2" y="870" width="37.8" height="24" fill="#d1d534"/>
<rect x="1720.2" y="894" width="37.8" height="24" fill="#d9dd38"/>
<rect x="1720.2" y="918" width="37.8" height="24" fill="#e5e83c"/>
<rect x="1720.2" y="942" width="37.8" height="24" fill="#efef40"/>
<rect x="1720.2" y="966" width="37.8" height="24" fill="#25711a"/>
<rect x="1720.2" y="990" width="37.8" height="24" fill="#2b841f"/>
<rect x="1720.2" y="1014" width="37.8" height="24" fill="#309a23"/>
<rect x="1720.2" y="1038" width="37.8" height="24" fill="#36ab28"/>
<rect x="1720.2" y="1062" width="37.8" height="24" fill="#3cbc2c"/>
<rect x="1720.2" y="1086" width="37.8" height="24" fill="#44cd30"/>
<rect x="1720.2" y="1110" width="37.8" height="24" fill="#4bdf34"/>
<rect x="1720.2" y="1134" width="37.8" height="24" fill="#52f038"/>
<rect x="1720.2" y="1158" width="37.8" height="24" fill="#2aadd8"/>
<rect x="1720.2" y="1182" width="37.8" height="25" fill="#25a3d2"/>
<rect x="1720.2" y="1207" width="37.8" height="48" fill="#2a96c6"/>
<rect x="1720.2" y="1255" width="37.8" height="48" fill="#2f8abf"/>
<rect x="1720.2" y="1303" width="37.8" height="48" fill="#367daf"/>
<rect x="1720.2" y="1351" width="37.8" height="72" fill="#3a70a4"/>
<rect x="1720.2" y="1423" width="37.8" height="72" fill="#3c6499"/>
<rect x="1720.2" y="1495" width="37.8" height="73" fill="#3d5989"/>
<rect x="1720.2" y="1568" width="37.8" height="72" fill="#3d4d7b"/>
<rect x="1720.2" y="1640" width="37.8" height="120" fill="#3d416f"/>
<line x1="1758" y1="1687.8" x2="1768" y2="1687.8" stroke="#000" stroke-width="2.2"/>
<text class="sans" x="1778.5" y="1699" font-size="27.1" fill="#000">−15</text>
<line x1="1758" y1="1607.6" x2="1768" y2="1607.6" stroke="#000" stroke-width="2.2"/>
<text class="sans" x="1778.5" y="1618.8" font-size="27.1" fill="#000">−10</text>
<line x1="1758" y1="1527.4" x2="1768" y2="1527.4" stroke="#000" stroke-width="2.2"/>
<text class="sans" x="1778.5" y="1538.6" font-size="27.1" fill="#000">−5</text>
<line x1="1758" y1="1447.2" x2="1768" y2="1447.2" stroke="#000" stroke-width="2.2"/>
<text class="sans" x="1778.5" y="1458.4" font-size="27.1" fill="#000">0</text>
<line x1="1758" y1="1367" x2="1768" y2="1367" stroke="#000" stroke-width="2.2"/>
<text class="sans" x="1778.5" y="1378.2" font-size="27.1" fill="#000">5</text>
<line x1="1758" y1="1286.8" x2="1768" y2="1286.8" stroke="#000" stroke-width="2.2"/>
<text class="sans" x="1778.5" y="1298" font-size="27.1" fill="#000">10</text>
<line x1="1758" y1="1206.6" x2="1768" y2="1206.6" stroke="#000" stroke-width="2.2"/>
<text class="sans" x="1778.5" y="1217.8" font-size="27.1" fill="#000">15</text>
<line x1="1758" y1="1126.4" x2="1768" y2="1126.4" stroke="#000" stroke-width="2.2"/>
<text class="sans" x="1778.5" y="1137.6" font-size="27.1" fill="#000">20</text>
<line x1="1758" y1="1046.1" x2="1768" y2="1046.1" stroke="#000" stroke-width="2.2"/>
<text class="sans" x="1778.5" y="1057.3" font-size="27.1" fill="#000">25</text>
<line x1="1758" y1="965.9" x2="1768" y2="965.9" stroke="#000" stroke-width="2.2"/>
<text class="sans" x="1778.5" y="977.1" font-size="27.1" fill="#000">30</text>
<line x1="1758" y1="885.7" x2="1768" y2="885.7" stroke="#000" stroke-width="2.2"/>
<text class="sans" x="1778.5" y="896.9" font-size="27.1" fill="#000">35</text>
<line x1="1758" y1="805.5" x2="1768" y2="805.5" stroke="#000" stroke-width="2.2"/>
<text class="sans" x="1778.5" y="816.7" font-size="27.1" fill="#000">40</text>
<line x1="1758" y1="725.3" x2="1768" y2="725.3" stroke="#000" stroke-width="2.2"/>
<text class="sans" x="1778.5" y="736.5" font-size="27.1" fill="#000">45</text>
<line x1="1758" y1="645.1" x2="1768" y2="645.1" stroke="#000" stroke-width="2.2"/>
<text class="sans" x="1778.5" y="656.3" font-size="27.1" fill="#000">50</text>
<line x1="1758" y1="564.9" x2="1768" y2="564.9" stroke="#000" stroke-width="2.2"/>
<text class="sans" x="1778.5" y="576.1" font-size="27.1" fill="#000">55</text>
<line x1="1758" y1="484.7" x2="1768" y2="484.7" stroke="#000" stroke-width="2.2"/>
<text class="sans" x="1778.5" y="495.9" font-size="27.1" fill="#000">60</text>
<line x1="1758" y1="404.5" x2="1768" y2="404.5" stroke="#000" stroke-width="2.2"/>
<text class="sans" x="1778.5" y="415.7" font-size="27.1" fill="#000">65</text>
<line x1="1758" y1="324.3" x2="1768" y2="324.3" stroke="#000" stroke-width="2.2"/>
<text class="sans" x="1778.5" y="335.5" font-size="27.1" fill="#000">70</text>
<line x1="1758" y1="244.1" x2="1768" y2="244.1" stroke="#000" stroke-width="2.2"/>
<text class="sans" x="1778.5" y="255.3" font-size="27.1" fill="#000">75</text>
<rect x="20" y="64" width="1549.3" height="154" fill="none" stroke="#000" stroke-width="2.2"/>
<rect x="20" y="220" width="1549.3" height="1540" fill="none" stroke="#000" stroke-width="2.2"/>
<rect x="1570.2" y="220" width="150" height="1540" fill="none" stroke="#000" stroke-width="2.2"/>
<rect x="1720.2" y="220" width="37.8" height="1540" fill="none" stroke="#000" stroke-width="2.2"/>
<g>
<circle cx="106.5" cy="1834.9" r="48.8" fill="#ffb300"/>
<circle cx="105.3" cy="1833.2" r="29.2" fill="#e6e6e6"/>
<path d="M95,1816.1C96.5,1815.5 101.1,1813.6 104.3,1812.7C107.5,1811.8 111,1810.9 114.4,1810.7C117.8,1810.5 120.6,1810.8 124.6,1811.4C128.6,1812 134.2,1813.4 138.2,1814.1C142.1,1814.8 144.9,1815.4 148.3,1815.4C151.7,1815.4 154.6,1815.2 158.5,1814.1C162.4,1813 169.8,1809.6 172,1808.7L172,1849.8C169.8,1850.7 162.4,1854 158.5,1855.2C154.6,1856.4 151.7,1856.8 148.3,1856.9C144.9,1857 142.1,1856.6 138.2,1855.9C134.2,1855.2 128.6,1853.6 124.6,1852.9C120.6,1852.2 117.8,1851.7 114.4,1851.8C111,1851.9 107.5,1852.8 104.3,1853.5C101.1,1854.2 96.5,1855.8 95,1856.3Z" fill="#e6e6e6"/>
<path d="M99.2,1820C100,1819.4 101.8,1817.5 104.3,1816.6C106.8,1815.7 111,1814.8 114.4,1814.6C117.8,1814.4 120.6,1814.7 124.6,1815.3C128.6,1815.9 134.2,1817.3 138.2,1818C142.1,1818.7 144.9,1819.3 148.3,1819.3C151.7,1819.3 155.4,1819 158.5,1818C161.6,1817 165.2,1814.3 166.6,1813.6L166.6,1826.1C165.2,1827 161.6,1830.3 158.5,1831.5C155.4,1832.7 151.7,1833.1 148.3,1833.2C144.9,1833.3 142.1,1832.9 138.2,1832.2C134.2,1831.5 128.6,1829.9 124.6,1829.2C120.6,1828.5 117.8,1828 114.4,1828.1C111,1828.2 106.8,1829 104.3,1829.8C101.8,1830.5 100,1832.1 99.2,1832.6Z" fill="#0092d4"/>
<path d="M99.2,1840.6C100,1840 101.8,1838.1 104.3,1837.2C106.8,1836.3 111,1835.4 114.4,1835.2C117.8,1835 120.6,1835.3 124.6,1835.9C128.6,1836.5 134.2,1837.9 138.2,1838.6C142.1,1839.3 144.9,1839.9 148.3,1839.9C151.7,1839.9 155.4,1839.5 158.5,1838.6C161.6,1837.6 165.2,1834.9 166.6,1834.2L166.6,1846.7C165.2,1847.6 161.6,1850.9 158.5,1852.1C155.4,1853.3 151.7,1853.7 148.3,1853.8C144.9,1853.9 142.1,1853.5 138.2,1852.8C134.2,1852.1 128.6,1850.5 124.6,1849.8C120.6,1849.1 117.8,1848.6 114.4,1848.7C111,1848.8 106.8,1849.6 104.3,1850.4C101.8,1851.1 100,1852.7 99.2,1853.2Z" fill="#0092d4"/>
<g class="lsans" fill="#1f1f1f" stroke="#1f1f1f" stroke-width="0.55">
<text x="177.3" y="1807.5" font-size="28.9" textLength="113.6" lengthAdjust="spacingAndGlyphs">Servicio</text>
<text x="177.6" y="1833.7" font-size="28.9" textLength="202.3" lengthAdjust="spacingAndGlyphs">Meteorológico</text>
<text x="177.6" y="1860.3" font-size="28.9" textLength="120.2" lengthAdjust="spacingAndGlyphs">Nacional</text>
<text x="180.2" y="1881" font-size="18.9" textLength="93.3" lengthAdjust="spacingAndGlyphs" stroke-width="0.7">Argentina</text>
</g></g>
<g fill="none" stroke="#2f3a60" stroke-linecap="round"><g fill="#6f7997" stroke="none"><ellipse cx="530.3" cy="1887.9" rx="3.4" ry="1.15" transform="rotate(-206.8 530.3 1887.9)"/><ellipse cx="530.7" cy="1883.6" rx="3.4" ry="1.15" transform="rotate(-142.8 530.7 1883.6)"/><ellipse cx="525.3" cy="1887" rx="3.4" ry="1.15" transform="rotate(-196.4 525.3 1887)"/><ellipse cx="526.4" cy="1882.8" rx="3.4" ry="1.15" transform="rotate(-132.4 526.4 1882.8)"/><ellipse cx="520.5" cy="1885.1" rx="3.4" ry="1.15" transform="rotate(-186.5 520.5 1885.1)"/><ellipse cx="522.3" cy="1881.3" rx="3.4" ry="1.15" transform="rotate(-122.5 522.3 1881.3)"/><ellipse cx="515.9" cy="1882.5" rx="3.4" ry="1.15" transform="rotate(-177.1 515.9 1882.5)"/><ellipse cx="518.4" cy="1879" rx="3.4" ry="1.15" transform="rotate(-113.1 518.4 1879)"/><ellipse cx="511.7" cy="1879" rx="3.4" ry="1.15" transform="rotate(-168.3 511.7 1879)"/><ellipse cx="514.7" cy="1875.9" rx="3.4" ry="1.15" transform="rotate(-104.3 514.7 1875.9)"/><ellipse cx="507.9" cy="1874.9" rx="3.4" ry="1.15" transform="rotate(-160.3 507.9 1874.9)"/><ellipse cx="511.3" cy="1872.2" rx="3.4" ry="1.15" transform="rotate(-96.3 511.3 1872.2)"/><ellipse cx="504.7" cy="1870.1" rx="3.4" ry="1.15" transform="rotate(-152.7 504.7 1870.1)"/><ellipse cx="508.4" cy="1867.9" rx="3.4" ry="1.15" transform="rotate(-88.7 508.4 1867.9)"/><ellipse cx="501.9" cy="1864.8" rx="3.4" ry="1.15" transform="rotate(-145.7 501.9 1864.8)"/><ellipse cx="505.9" cy="1863.1" rx="3.4" ry="1.15" transform="rotate(-81.7 505.9 1863.1)"/><ellipse cx="499.8" cy="1859.1" rx="3.4" ry="1.15" transform="rotate(-139.1 499.8 1859.1)"/><ellipse cx="503.9" cy="1857.8" rx="3.4" ry="1.15" transform="rotate(-75.1 503.9 1857.8)"/><ellipse cx="498.3" cy="1853.1" rx="3.4" ry="1.15" transform="rotate(-132.7 498.3 1853.1)"/><ellipse cx="502.6" cy="1852.3" rx="3.4" ry="1.15" transform="rotate(-68.7 502.6 1852.3)"/><ellipse cx="497.5" cy="1846.8" rx="3.4" ry="1.15" transform="rotate(-126.6 497.5 1846.8)"/><ellipse cx="501.8" cy="1846.5" rx="3.4" ry="1.15" transform="rotate(-62.6 501.8 1846.5)"/><ellipse cx="497.3" cy="1840.5" rx="3.4" ry="1.15" transform="rotate(-120.5 497.3 1840.5)"/><ellipse cx="501.6" cy="1840.6" rx="3.4" ry="1.15" transform="rotate(-56.5 501.6 1840.6)"/><ellipse cx="497.8" cy="1834.2" rx="3.4" ry="1.15" transform="rotate(-114.4 497.8 1834.2)"/><ellipse cx="502.1" cy="1834.8" rx="3.4" ry="1.15" transform="rotate(-50.4 502.1 1834.8)"/><ellipse cx="499" cy="1828.1" rx="3.4" ry="1.15" transform="rotate(-108.1 499 1828.1)"/><ellipse cx="503.2" cy="1829.1" rx="3.4" ry="1.15" transform="rotate(-44.1 503.2 1829.1)"/><ellipse cx="500.8" cy="1822.2" rx="3.4" ry="1.15" transform="rotate(-101.6 500.8 1822.2)"/><ellipse cx="504.8" cy="1823.7" rx="3.4" ry="1.15" transform="rotate(-37.6 504.8 1823.7)"/><ellipse cx="503.2" cy="1816.7" rx="3.4" ry="1.15" transform="rotate(-94.8 503.2 1816.7)"/><ellipse cx="507.1" cy="1818.6" rx="3.4" ry="1.15" transform="rotate(-30.8 507.1 1818.6)"/><ellipse cx="506.2" cy="1811.6" rx="3.4" ry="1.15" transform="rotate(-87.6 506.2 1811.6)"/><ellipse cx="509.8" cy="1814.1" rx="3.4" ry="1.15" transform="rotate(-23.6 509.8 1814.1)"/><ellipse cx="509.8" cy="1807.2" rx="3.4" ry="1.15" transform="rotate(-79.8 509.8 1807.2)"/><ellipse cx="512.9" cy="1810" rx="3.4" ry="1.15" transform="rotate(-15.8 512.9 1810)"/><ellipse cx="535.3" cy="1887.9" rx="3.4" ry="1.15" transform="rotate(26.8 535.3 1887.9)"/><ellipse cx="534.9" cy="1883.6" rx="3.4" ry="1.15" transform="rotate(-37.2 534.9 1883.6)"/><ellipse cx="540.3" cy="1887" rx="3.4" ry="1.15" transform="rotate(16.4 540.3 1887)"/><ellipse cx="539.2" cy="1882.8" rx="3.4" ry="1.15" transform="rotate(-47.6 539.2 1882.8)"/><ellipse cx="545.1" cy="1885.1" rx="3.4" ry="1.15" transform="rotate(6.5 545.1 1885.1)"/><ellipse cx="543.3" cy="1881.3" rx="3.4" ry="1.15" transform="rotate(-57.5 543.3 1881.3)"/><ellipse cx="549.7" cy="1882.5" rx="3.4" ry="1.15" transform="rotate(-2.9 549.7 1882.5)"/><ellipse cx="547.2" cy="1879" rx="3.4" ry="1.15" transform="rotate(-66.9 547.2 1879)"/><ellipse cx="553.9" cy="1879" rx="3.4" ry="1.15" transform="rotate(-11.7 553.9 1879)"/><ellipse cx="550.9" cy="1875.9" rx="3.4" ry="1.15" transform="rotate(-75.7 550.9 1875.9)"/><ellipse cx="557.7" cy="1874.9" rx="3.4" ry="1.15" transform="rotate(-19.7 557.7 1874.9)"/><ellipse cx="554.3" cy="1872.2" rx="3.4" ry="1.15" transform="rotate(-83.7 554.3 1872.2)"/><ellipse cx="560.9" cy="1870.1" rx="3.4" ry="1.15" transform="rotate(-27.3 560.9 1870.1)"/><ellipse cx="557.2" cy="1867.9" rx="3.4" ry="1.15" transform="rotate(-91.3 557.2 1867.9)"/><ellipse cx="563.7" cy="1864.8" rx="3.4" ry="1.15" transform="rotate(-34.3 563.7 1864.8)"/><ellipse cx="559.7" cy="1863.1" rx="3.4" ry="1.15" transform="rotate(-98.3 559.7 1863.1)"/><ellipse cx="565.8" cy="1859.1" rx="3.4" ry="1.15" transform="rotate(-40.9 565.8 1859.1)"/><ellipse cx="561.7" cy="1857.8" rx="3.4" ry="1.15" transform="rotate(-104.9 561.7 1857.8)"/><ellipse cx="567.3" cy="1853.1" rx="3.4" ry="1.15" transform="rotate(-47.3 567.3 1853.1)"/><ellipse cx="563" cy="1852.3" rx="3.4" ry="1.15" transform="rotate(-111.3 563 1852.3)"/><ellipse cx="568.1" cy="1846.8" rx="3.4" ry="1.15" transform="rotate(-53.4 568.1 1846.8)"/><ellipse cx="563.8" cy="1846.5" rx="3.4" ry="1.15" transform="rotate(-117.4 563.8 1846.5)"/><ellipse cx="568.3" cy="1840.5" rx="3.4" ry="1.15" transform="rotate(-59.5 568.3 1840.5)"/><ellipse cx="564" cy="1840.6" rx="3.4" ry="1.15" transform="rotate(-123.5 564 1840.6)"/><ellipse cx="567.8" cy="1834.2" rx="3.4" ry="1.15" transform="rotate(-65.6 567.8 1834.2)"/><ellipse cx="563.5" cy="1834.8" rx="3.4" ry="1.15" transform="rotate(-129.6 563.5 1834.8)"/><ellipse cx="566.6" cy="1828.1" rx="3.4" ry="1.15" transform="rotate(-71.9 566.6 1828.1)"/><ellipse cx="562.4" cy="1829.1" rx="3.4" ry="1.15" transform="rotate(-135.9 562.4 1829.1)"/><ellipse cx="564.8" cy="1822.2" rx="3.4" ry="1.15" transform="rotate(-78.4 564.8 1822.2)"/><ellipse cx="560.8" cy="1823.7" rx="3.4" ry="1.15" transform="rotate(-142.4 560.8 1823.7)"/><ellipse cx="562.4" cy="1816.7" rx="3.4" ry="1.15" transform="rotate(-85.2 562.4 1816.7)"/><ellipse cx="558.5" cy="1818.6" rx="3.4" ry="1.15" transform="rotate(-149.2 558.5 1818.6)"/><ellipse cx="559.4" cy="1811.6" rx="3.4" ry="1.15" transform="rotate(-92.4 559.4 1811.6)"/><ellipse cx="555.8" cy="1814.1" rx="3.4" ry="1.15" transform="rotate(-156.4 555.8 1814.1)"/><ellipse cx="555.8" cy="1807.2" rx="3.4" ry="1.15" transform="rotate(-100.2 555.8 1807.2)"/><ellipse cx="552.7" cy="1810" rx="3.4" ry="1.15" transform="rotate(-164.2 552.7 1810)"/></g><path d="M523.3,1798.4L510.9,1803.4M522.9,1797.2L513.1,1799.7M522.7,1795.9L508.6,1797.6M522.6,1794.5L511.8,1794.5M522.7,1793.2L508.7,1791.3M523,1791.9L513.2,1789.2M523.4,1790.6L511.1,1785.5M524,1789.5L515.9,1784.7M524.7,1788.4L514.7,1780.6M525.6,1787.4L519.4,1781.1M526.6,1786.5L519.3,1776.9M527.7,1785.8L523.5,1778.4M528.9,1785.2L524.5,1774.4M530.2,1784.7L528.1,1776.9M531.5,1784.5L530,1773.2M532.8,1784.4L532.8,1776.3M534.1,1784.5L535.6,1773.2M535.4,1784.7L537.5,1776.9M536.7,1785.2L541.1,1774.4M537.9,1785.8L542.1,1778.4M539,1786.5L546.3,1776.9M540,1787.4L546.2,1781.1M540.9,1788.4L550.9,1780.6M541.6,1789.5L549.7,1784.7M542.2,1790.6L554.5,1785.5M542.6,1791.9L552.4,1789.2M542.9,1793.2L556.9,1791.3M543,1794.5L553.8,1794.5M542.9,1795.9L557,1797.6M542.7,1797.2L552.5,1799.7M542.3,1798.4L554.7,1803.4" stroke-width="1.3" stroke="#737c9b"/><ellipse cx="532.8" cy="1840.7" rx="28.4" ry="39.4" fill="#e6e6e6" stroke="#37426a" stroke-width="1.7"/><circle cx="532.8" cy="1794.6" r="8.9" fill="#e6e6e6" stroke="#737c9b" stroke-width="0.9"/><path d="M526.8,1795.1h3.4M535.4,1795.1h3.4" stroke-width="1.9" stroke="#4a5478"/><path d="M532.8,1795.6l-0.8,3.4h1.6z" stroke-width="0.8" stroke="#737c9b"/><path d="M520.8,1805 A28.4,39.4 0 0 1 544.8,1805" stroke="#37426a" stroke-width="1.9"/><path d="M522,1805h21.6M515.7,1810.6h34.3M511.5,1816.6h42.5M508.9,1822.2h47.7M507.1,1828h51.4M506,1834.2h53.6M505.6,1839.8h54.4" stroke="#8b93ad" stroke-width="0.95" stroke-linecap="butt"/><path d="M506.5,1851.3L528.8,1846 M536.8,1846L559.1,1851.3 M510.3,1861L525.8,1853 M539.8,1853L555.3,1861" stroke-width="0.9" stroke="#8b93ad"/><path d="M532.8,1827.5V1846.6M532.8,1858V1872.2" stroke-width="2.2" stroke="#2f3a60"/><path d="M523.2,1853.5 c1,-4 6,-6.5 9.6,-5.5 c3.8,-1 8.6,1.5 9.6,5.5 c-2,4.2 -6,5.4 -9.6,4.6 c-3.6,0.8 -7.6,-0.4 -9.6,-4.6z" fill="#e6e6e6" stroke="#8b93ad" stroke-width="0.9"/><path d="M529.8,1851.5l4,3.4M535.8,1851.5l-4,3.4" stroke="#8b93ad" stroke-width="0.8"/><path d="M523.9,1827.3 C522.3,1823 522.3,1819 524.2,1816.5 C525.8,1813.5 529.8,1812.3 533.3,1812.5 C537.8,1812.8 540.8,1817 542.1,1822 C542.6,1824 542.8,1826 542.6,1827.5 C539.8,1830 535.8,1829.8 532.8,1827.6 C529.8,1829.8 526.3,1830 523.9,1827.3Z" fill="#e6e6e6" stroke="#8b93ad" stroke-width="1.1"/><path d="M524,1818.5 c2.5,1.2 5,0.4 7,-1.8 M526.6,1825.5 c0.6,-3.6 2.6,-6.4 6.6,-8" stroke="#8b93ad" stroke-width="0.8"/><path d="M527.4,1883.3h10.8v5h-10.8z" fill="#2f3a60" stroke="none"/><path d="M530.8,1887.6 C528.8,1890 525.3,1893 521.8,1896.2 M534.8,1887.6 C536.8,1890 540.3,1893 543.8,1896.2" stroke-width="3.1" stroke-linecap="butt" stroke="#2f3a60"/><path d="M521.2,1897.6 l2.6,-3 l0.4,3.6z M544.4,1897.6 l-2.6,-3 l-0.4,3.6z" fill="#e6e6e6" stroke="none"/></g>
<g fill="none" stroke="#232e58" stroke-linecap="round"><g fill="#e6e6e6" stroke="#2f3a64" stroke-width="0.7"><ellipse cx="891.5" cy="1887.9" rx="3.4" ry="1.15" transform="rotate(-206.8 891.5 1887.9)"/><ellipse cx="891.9" cy="1883.6" rx="3.4" ry="1.15" transform="rotate(-142.8 891.9 1883.6)"/><ellipse cx="886.5" cy="1887" rx="3.4" ry="1.15" transform="rotate(-196.4 886.5 1887)"/><ellipse cx="887.6" cy="1882.8" rx="3.4" ry="1.15" transform="rotate(-132.4 887.6 1882.8)"/><ellipse cx="881.7" cy="1885.1" rx="3.4" ry="1.15" transform="rotate(-186.5 881.7 1885.1)"/><ellipse cx="883.5" cy="1881.3" rx="3.4" ry="1.15" transform="rotate(-122.5 883.5 1881.3)"/><ellipse cx="877.1" cy="1882.5" rx="3.4" ry="1.15" transform="rotate(-177.1 877.1 1882.5)"/><ellipse cx="879.6" cy="1879" rx="3.4" ry="1.15" transform="rotate(-113.1 879.6 1879)"/><ellipse cx="872.9" cy="1879" rx="3.4" ry="1.15" transform="rotate(-168.3 872.9 1879)"/><ellipse cx="875.9" cy="1875.9" rx="3.4" ry="1.15" transform="rotate(-104.3 875.9 1875.9)"/><ellipse cx="869.1" cy="1874.9" rx="3.4" ry="1.15" transform="rotate(-160.3 869.1 1874.9)"/><ellipse cx="872.5" cy="1872.2" rx="3.4" ry="1.15" transform="rotate(-96.3 872.5 1872.2)"/><ellipse cx="865.9" cy="1870.1" rx="3.4" ry="1.15" transform="rotate(-152.7 865.9 1870.1)"/><ellipse cx="869.6" cy="1867.9" rx="3.4" ry="1.15" transform="rotate(-88.7 869.6 1867.9)"/><ellipse cx="863.1" cy="1864.8" rx="3.4" ry="1.15" transform="rotate(-145.7 863.1 1864.8)"/><ellipse cx="867.1" cy="1863.1" rx="3.4" ry="1.15" transform="rotate(-81.7 867.1 1863.1)"/><ellipse cx="861" cy="1859.1" rx="3.4" ry="1.15" transform="rotate(-139.1 861 1859.1)"/><ellipse cx="865.1" cy="1857.8" rx="3.4" ry="1.15" transform="rotate(-75.1 865.1 1857.8)"/><ellipse cx="859.5" cy="1853.1" rx="3.4" ry="1.15" transform="rotate(-132.7 859.5 1853.1)"/><ellipse cx="863.8" cy="1852.3" rx="3.4" ry="1.15" transform="rotate(-68.7 863.8 1852.3)"/><ellipse cx="858.7" cy="1846.8" rx="3.4" ry="1.15" transform="rotate(-126.6 858.7 1846.8)"/><ellipse cx="863" cy="1846.5" rx="3.4" ry="1.15" transform="rotate(-62.6 863 1846.5)"/><ellipse cx="858.5" cy="1840.5" rx="3.4" ry="1.15" transform="rotate(-120.5 858.5 1840.5)"/><ellipse cx="862.8" cy="1840.6" rx="3.4" ry="1.15" transform="rotate(-56.5 862.8 1840.6)"/><ellipse cx="859" cy="1834.2" rx="3.4" ry="1.15" transform="rotate(-114.4 859 1834.2)"/><ellipse cx="863.3" cy="1834.8" rx="3.4" ry="1.15" transform="rotate(-50.4 863.3 1834.8)"/><ellipse cx="860.2" cy="1828.1" rx="3.4" ry="1.15" transform="rotate(-108.1 860.2 1828.1)"/><ellipse cx="864.4" cy="1829.1" rx="3.4" ry="1.15" transform="rotate(-44.1 864.4 1829.1)"/><ellipse cx="862" cy="1822.2" rx="3.4" ry="1.15" transform="rotate(-101.6 862 1822.2)"/><ellipse cx="866" cy="1823.7" rx="3.4" ry="1.15" transform="rotate(-37.6 866 1823.7)"/><ellipse cx="864.4" cy="1816.7" rx="3.4" ry="1.15" transform="rotate(-94.8 864.4 1816.7)"/><ellipse cx="868.3" cy="1818.6" rx="3.4" ry="1.15" transform="rotate(-30.8 868.3 1818.6)"/><ellipse cx="867.4" cy="1811.6" rx="3.4" ry="1.15" transform="rotate(-87.6 867.4 1811.6)"/><ellipse cx="871" cy="1814.1" rx="3.4" ry="1.15" transform="rotate(-23.6 871 1814.1)"/><ellipse cx="871" cy="1807.2" rx="3.4" ry="1.15" transform="rotate(-79.8 871 1807.2)"/><ellipse cx="874.1" cy="1810" rx="3.4" ry="1.15" transform="rotate(-15.8 874.1 1810)"/><ellipse cx="896.5" cy="1887.9" rx="3.4" ry="1.15" transform="rotate(26.8 896.5 1887.9)"/><ellipse cx="896.1" cy="1883.6" rx="3.4" ry="1.15" transform="rotate(-37.2 896.1 1883.6)"/><ellipse cx="901.5" cy="1887" rx="3.4" ry="1.15" transform="rotate(16.4 901.5 1887)"/><ellipse cx="900.4" cy="1882.8" rx="3.4" ry="1.15" transform="rotate(-47.6 900.4 1882.8)"/><ellipse cx="906.3" cy="1885.1" rx="3.4" ry="1.15" transform="rotate(6.5 906.3 1885.1)"/><ellipse cx="904.5" cy="1881.3" rx="3.4" ry="1.15" transform="rotate(-57.5 904.5 1881.3)"/><ellipse cx="910.9" cy="1882.5" rx="3.4" ry="1.15" transform="rotate(-2.9 910.9 1882.5)"/><ellipse cx="908.4" cy="1879" rx="3.4" ry="1.15" transform="rotate(-66.9 908.4 1879)"/><ellipse cx="915.1" cy="1879" rx="3.4" ry="1.15" transform="rotate(-11.7 915.1 1879)"/><ellipse cx="912.1" cy="1875.9" rx="3.4" ry="1.15" transform="rotate(-75.7 912.1 1875.9)"/><ellipse cx="918.9" cy="1874.9" rx="3.4" ry="1.15" transform="rotate(-19.7 918.9 1874.9)"/><ellipse cx="915.5" cy="1872.2" rx="3.4" ry="1.15" transform="rotate(-83.7 915.5 1872.2)"/><ellipse cx="922.1" cy="1870.1" rx="3.4" ry="1.15" transform="rotate(-27.3 922.1 1870.1)"/><ellipse cx="918.4" cy="1867.9" rx="3.4" ry="1.15" transform="rotate(-91.3 918.4 1867.9)"/><ellipse cx="924.9" cy="1864.8" rx="3.4" ry="1.15" transform="rotate(-34.3 924.9 1864.8)"/><ellipse cx="920.9" cy="1863.1" rx="3.4" ry="1.15" transform="rotate(-98.3 920.9 1863.1)"/><ellipse cx="927" cy="1859.1" rx="3.4" ry="1.15" transform="rotate(-40.9 927 1859.1)"/><ellipse cx="922.9" cy="1857.8" rx="3.4" ry="1.15" transform="rotate(-104.9 922.9 1857.8)"/><ellipse cx="928.5" cy="1853.1" rx="3.4" ry="1.15" transform="rotate(-47.3 928.5 1853.1)"/><ellipse cx="924.2" cy="1852.3" rx="3.4" ry="1.15" transform="rotate(-111.3 924.2 1852.3)"/><ellipse cx="929.3" cy="1846.8" rx="3.4" ry="1.15" transform="rotate(-53.4 929.3 1846.8)"/><ellipse cx="925" cy="1846.5" rx="3.4" ry="1.15" transform="rotate(-117.4 925 1846.5)"/><ellipse cx="929.5" cy="1840.5" rx="3.4" ry="1.15" transform="rotate(-59.5 929.5 1840.5)"/><ellipse cx="925.2" cy="1840.6" rx="3.4" ry="1.15" transform="rotate(-123.5 925.2 1840.6)"/><ellipse cx="929" cy="1834.2" rx="3.4" ry="1.15" transform="rotate(-65.6 929 1834.2)"/><ellipse cx="924.7" cy="1834.8" rx="3.4" ry="1.15" transform="rotate(-129.6 924.7 1834.8)"/><ellipse cx="927.8" cy="1828.1" rx="3.4" ry="1.15" transform="rotate(-71.9 927.8 1828.1)"/><ellipse cx="923.6" cy="1829.1" rx="3.4" ry="1.15" transform="rotate(-135.9 923.6 1829.1)"/><ellipse cx="926" cy="1822.2" rx="3.4" ry="1.15" transform="rotate(-78.4 926 1822.2)"/><ellipse cx="922" cy="1823.7" rx="3.4" ry="1.15" transform="rotate(-142.4 922 1823.7)"/><ellipse cx="923.6" cy="1816.7" rx="3.4" ry="1.15" transform="rotate(-85.2 923.6 1816.7)"/><ellipse cx="919.7" cy="1818.6" rx="3.4" ry="1.15" transform="rotate(-149.2 919.7 1818.6)"/><ellipse cx="920.6" cy="1811.6" rx="3.4" ry="1.15" transform="rotate(-92.4 920.6 1811.6)"/><ellipse cx="917" cy="1814.1" rx="3.4" ry="1.15" transform="rotate(-156.4 917 1814.1)"/><ellipse cx="917" cy="1807.2" rx="3.4" ry="1.15" transform="rotate(-100.2 917 1807.2)"/><ellipse cx="913.9" cy="1810" rx="3.4" ry="1.15" transform="rotate(-164.2 913.9 1810)"/></g><path d="M884.5,1798.4L872.1,1803.4M884.1,1797.2L874.3,1799.7M883.9,1795.9L869.8,1797.6M883.8,1794.5L873,1794.5M883.9,1793.2L869.9,1791.3M884.2,1791.9L874.4,1789.2M884.6,1790.6L872.3,1785.5M885.2,1789.5L877.1,1784.7M885.9,1788.4L875.9,1780.6M886.8,1787.4L880.6,1781.1M887.8,1786.5L880.5,1776.9M888.9,1785.8L884.7,1778.4M890.1,1785.2L885.7,1774.4M891.4,1784.7L889.3,1776.9M892.7,1784.5L891.2,1773.2M894,1784.4L894,1776.3M895.3,1784.5L896.8,1773.2M896.6,1784.7L898.7,1776.9M897.9,1785.2L902.3,1774.4M899.1,1785.8L903.3,1778.4M900.2,1786.5L907.5,1776.9M901.2,1787.4L907.4,1781.1M902.1,1788.4L912.1,1780.6M902.8,1789.5L910.9,1784.7M903.4,1790.6L915.7,1785.5M903.8,1791.9L913.6,1789.2M904.1,1793.2L918.1,1791.3M904.2,1794.5L915,1794.5M904.1,1795.9L918.2,1797.6M903.9,1797.2L913.7,1799.7M903.5,1798.4L915.9,1803.4" stroke-width="1.3" stroke="#2f3a64"/><ellipse cx="894" cy="1840.7" rx="28.4" ry="39.4" fill="#e6e6e6" stroke="#2b3560" stroke-width="1.4"/><circle cx="894" cy="1794.6" r="8.9" fill="#e6e6e6" stroke="#2f3a64" stroke-width="0.9"/><path d="M888,1795.1h3.4M896.6,1795.1h3.4" stroke-width="1.9" stroke="#2f3a64"/><path d="M894,1795.6l-0.8,3.4h1.6z" stroke-width="0.8" stroke="#2f3a64"/><path d="M882,1805 A28.4,39.4 0 0 1 906,1805" stroke="#2b3560" stroke-width="1.5"/><path d="M883.2,1805h21.6M876.9,1810.6h34.3M872.7,1816.6h42.5M870.1,1822.2h47.7M868.3,1828h51.4M867.2,1834.2h53.6M866.8,1839.8h54.4" stroke="#4a5580" stroke-width="0.95" stroke-linecap="butt"/><path d="M867.7,1851.3L890,1846 M898,1846L920.3,1851.3 M871.5,1861L887,1853 M901,1853L916.5,1861" stroke-width="0.9" stroke="#3a4570"/><path d="M894,1827.5V1846.6M894,1858V1872.2" stroke-width="2.2" stroke="#232e58"/><path d="M884.4,1853.5 c1,-4 6,-6.5 9.6,-5.5 c3.8,-1 8.6,1.5 9.6,5.5 c-2,4.2 -6,5.4 -9.6,4.6 c-3.6,0.8 -7.6,-0.4 -9.6,-4.6z" fill="#e6e6e6" stroke="#2b3560" stroke-width="0.9"/><path d="M891,1851.5l4,3.4M897,1851.5l-4,3.4" stroke="#3a4570" stroke-width="0.8"/><path d="M885.1,1827.3 C883.5,1823 883.5,1819 885.4,1816.5 C887,1813.5 891,1812.3 894.5,1812.5 C899,1812.8 902,1817 903.3,1822 C903.8,1824 904,1826 903.8,1827.5 C901,1830 897,1829.8 894,1827.6 C891,1829.8 887.5,1830 885.1,1827.3Z" fill="#e6e6e6" stroke="#2b3560" stroke-width="1.1"/><path d="M885.2,1818.5 c2.5,1.2 5,0.4 7,-1.8 M887.8,1825.5 c0.6,-3.6 2.6,-6.4 6.6,-8" stroke="#2b3560" stroke-width="0.8"/><path d="M888.6,1883.3h10.8v5h-10.8z" fill="#232e58" stroke="none"/><path d="M892,1887.6 C890,1890 886.5,1893 883,1896.2 M896,1887.6 C898,1890 901.5,1893 905,1896.2" stroke-width="3.1" stroke-linecap="butt" stroke="#232e58"/><path d="M882.4,1897.6 l2.6,-3 l0.4,3.6z M905.6,1897.6 l-2.6,-3 l-0.4,3.6z" fill="#e6e6e6" stroke="none"/></g>
<text class="serif" x="583.5" y="1827.6" font-size="25.4" font-weight="bold" fill="#27325a" textLength="132" lengthAdjust="spacingAndGlyphs">Ministerio</text>
<text class="serif" x="583.5" y="1853.1" font-size="25.4" font-weight="bold" fill="#27325a" textLength="133" lengthAdjust="spacingAndGlyphs">de Defensa</text>
<text class="serif" x="583.5" y="1873.5" font-size="15" fill="#3a4468" stroke="#3a4468" stroke-width="0.3" textLength="150.5" lengthAdjust="spacingAndGlyphs">República Argentina</text>
<text class="serif" x="946.5" y="1827.6" font-size="25.4" font-weight="bold" fill="#27325a" textLength="134.7" lengthAdjust="spacingAndGlyphs">Ministerio</text>
<text class="serif" x="946.5" y="1853.1" font-size="25.4" font-weight="bold" fill="#27325a" textLength="162" lengthAdjust="spacingAndGlyphs">de Economía</text>
<text class="serif" x="946.5" y="1873.5" font-size="15" fill="#3a4468" stroke="#3a4468" stroke-width="0.3" textLength="153" lengthAdjust="spacingAndGlyphs">República Argentina</text>
</svg></body></html>
